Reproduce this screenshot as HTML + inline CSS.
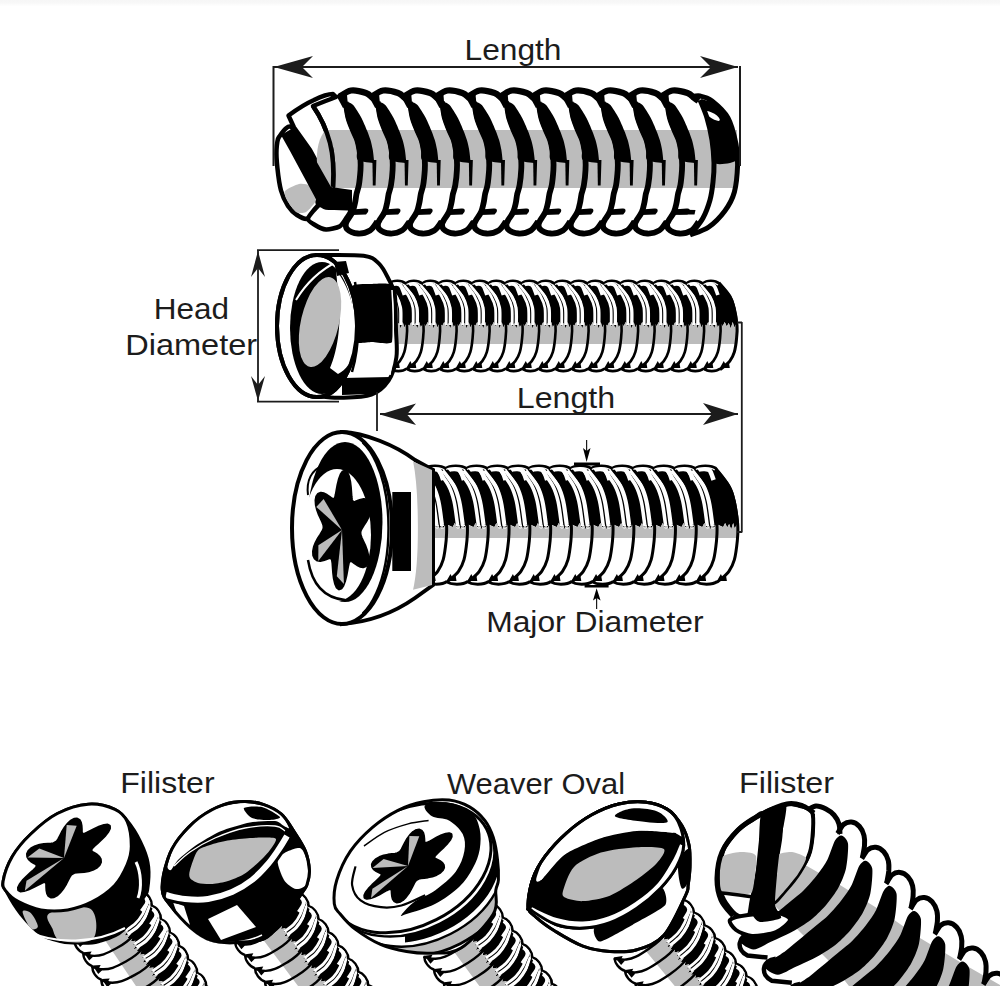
<!DOCTYPE html>
<html><head><meta charset="utf-8"><style>
html,body{margin:0;padding:0;background:#fff;width:1000px;height:1000px;overflow:hidden}
svg{display:block}
</style></head><body>
<svg width="1000" height="1000" viewBox="0 0 1000 1000">
<defs><linearGradient id="tg" x1="0" y1="0" x2="0" y2="1"><stop offset="0" stop-color="#f6f6f6"/><stop offset="0.35" stop-color="#f7f7f7"/><stop offset="1" stop-color="#ffffff"/></linearGradient></defs><rect x="0" y="0" width="1000" height="6.5" fill="url(#tg)"/>
<path d="M300,98 C320,96 700,96 712,98 C735,110 740,150 737,170 C735,200 720,228 690,231 L330,231 C300,230 280,200 277,165 C276,130 285,105 300,98 Z" fill="#fff"/>
<rect x="333" y="130" width="404" height="58" fill="#bcbcbc"/>
<path d="M700.0,100.0 C701.1,98.1 711.3,101.6 715.0,104.0 C718.7,106.4 725.5,113.2 728.0,118.0 C730.5,122.8 732.8,134.4 734.0,140.0 C735.2,145.6 739.7,156.9 737.0,160.0 C734.3,163.1 717.3,165.7 714.0,163.0 C710.7,160.3 712.9,146.0 712.0,140.0 C711.1,134.0 708.6,123.3 707.0,118.0 C705.4,112.7 698.9,101.9 700.0,100.0Z" fill="#000"/>
<ellipse cx="713" cy="116" rx="8" ry="2.6" transform="rotate(33 713 116)" fill="#fff"/>
<path d="M343.0,102.0 C342.5,102.4 343.2,102.7 343.6,104.8 C344.0,106.9 345.1,114.6 346.0,118.0 C346.9,121.4 349.2,127.1 350.4,130.0 C351.6,132.9 353.9,137.3 354.8,140.0 C355.7,142.7 356.6,147.3 357.0,150.0 C357.4,152.7 355.7,158.3 358.0,160.0 C360.3,161.7 372.4,163.0 374.5,163.0 C376.6,163.0 374.2,161.7 374.0,160.0 C373.8,158.3 373.3,152.7 372.8,150.0 C372.3,147.3 371.3,142.6 370.5,140.0 C369.7,137.4 368.2,133.3 367.0,130.4 C365.8,127.5 363.3,121.4 361.5,118.0 C359.7,114.6 355.1,107.1 353.2,105.0 C351.3,102.9 348.4,102.4 347.0,102.0 C345.6,101.6 343.5,101.6 343.0,102.0Z" fill="#000"/>
<path d="M372.4,160 L372.8,185.6 L375.6,185.6 L376.4,160 Z" fill="#000"/>
<path d="M336.0,95 L347.0,95 L348.0,106 L343.0,108 Z" fill="#000"/>
<path d="M375.1,102.0 C374.7,102.4 375.4,102.7 375.8,104.8 C376.1,106.9 377.2,114.6 378.1,118.0 C379.1,121.4 381.4,127.1 382.5,130.0 C383.7,132.9 386.1,137.3 386.9,140.0 C387.8,142.7 388.7,147.3 389.1,150.0 C389.6,152.7 387.8,158.3 390.1,160.0 C392.5,161.7 404.5,163.0 406.6,163.0 C408.8,163.0 406.4,161.7 406.1,160.0 C405.9,158.3 405.4,152.7 404.9,150.0 C404.5,147.3 403.4,142.6 402.6,140.0 C401.9,137.4 400.3,133.3 399.1,130.4 C397.9,127.5 395.5,121.4 393.6,118.0 C391.8,114.6 387.3,107.1 385.3,105.0 C383.4,102.9 380.5,102.4 379.1,102.0 C377.8,101.6 375.6,101.6 375.1,102.0Z" fill="#000"/>
<path d="M404.54999999999995,160 L404.95,185.6 L407.75,185.6 L408.54999999999995,160 Z" fill="#000"/>
<path d="M368.15,95 L379.15,95 L380.15,106 L375.15,108 Z" fill="#000"/>
<path d="M407.3,102.0 C406.8,102.4 407.5,102.7 407.9,104.8 C408.3,106.9 409.4,114.6 410.3,118.0 C411.2,121.4 413.5,127.1 414.7,130.0 C415.9,132.9 418.2,137.3 419.1,140.0 C420.0,142.7 420.9,147.3 421.3,150.0 C421.7,152.7 420.0,158.3 422.3,160.0 C424.6,161.7 436.7,163.0 438.8,163.0 C440.9,163.0 438.5,161.7 438.3,160.0 C438.1,158.3 437.6,152.7 437.1,150.0 C436.6,147.3 435.6,142.6 434.8,140.0 C434.0,137.4 432.5,133.3 431.3,130.4 C430.1,127.5 427.6,121.4 425.8,118.0 C424.0,114.6 419.4,107.1 417.5,105.0 C415.6,102.9 412.7,102.4 411.3,102.0 C409.9,101.6 407.8,101.6 407.3,102.0Z" fill="#000"/>
<path d="M436.7,160 L437.1,185.6 L439.90000000000003,185.6 L440.7,160 Z" fill="#000"/>
<path d="M400.3,95 L411.3,95 L412.3,106 L407.3,108 Z" fill="#000"/>
<path d="M439.4,102.0 C439.0,102.4 439.7,102.7 440.1,104.8 C440.4,106.9 441.5,114.6 442.4,118.0 C443.4,121.4 445.7,127.1 446.8,130.0 C448.0,132.9 450.4,137.3 451.2,140.0 C452.1,142.7 453.0,147.3 453.4,150.0 C453.9,152.7 452.1,158.3 454.4,160.0 C456.8,161.7 468.8,163.0 470.9,163.0 C473.1,163.0 470.7,161.7 470.4,160.0 C470.2,158.3 469.7,152.7 469.2,150.0 C468.8,147.3 467.7,142.6 466.9,140.0 C466.2,137.4 464.6,133.3 463.4,130.4 C462.2,127.5 459.8,121.4 457.9,118.0 C456.1,114.6 451.6,107.1 449.6,105.0 C447.7,102.9 444.8,102.4 443.4,102.0 C442.1,101.6 439.9,101.6 439.4,102.0Z" fill="#000"/>
<path d="M468.84999999999997,160 L469.25,185.6 L472.05,185.6 L472.84999999999997,160 Z" fill="#000"/>
<path d="M432.45,95 L443.45,95 L444.45,106 L439.45,108 Z" fill="#000"/>
<path d="M471.6,102.0 C471.1,102.4 471.8,102.7 472.2,104.8 C472.6,106.9 473.7,114.6 474.6,118.0 C475.5,121.4 477.8,127.1 479.0,130.0 C480.2,132.9 482.5,137.3 483.4,140.0 C484.3,142.7 485.2,147.3 485.6,150.0 C486.0,152.7 484.3,158.3 486.6,160.0 C488.9,161.7 501.0,163.0 503.1,163.0 C505.2,163.0 502.8,161.7 502.6,160.0 C502.4,158.3 501.9,152.7 501.4,150.0 C500.9,147.3 499.9,142.6 499.1,140.0 C498.3,137.4 496.8,133.3 495.6,130.4 C494.4,127.5 491.9,121.4 490.1,118.0 C488.3,114.6 483.7,107.1 481.8,105.0 C479.9,102.9 477.0,102.4 475.6,102.0 C474.2,101.6 472.1,101.6 471.6,102.0Z" fill="#000"/>
<path d="M501.0,160 L501.40000000000003,185.6 L504.20000000000005,185.6 L505.0,160 Z" fill="#000"/>
<path d="M464.6,95 L475.6,95 L476.6,106 L471.6,108 Z" fill="#000"/>
<path d="M503.8,102.0 C503.3,102.4 504.0,102.7 504.4,104.8 C504.8,106.9 505.8,114.6 506.8,118.0 C507.7,121.4 510.0,127.1 511.1,130.0 C512.3,132.9 514.7,137.3 515.5,140.0 C516.4,142.7 517.3,147.3 517.8,150.0 C518.2,152.7 516.4,158.3 518.8,160.0 C521.1,161.7 533.1,163.0 535.2,163.0 C537.4,163.0 535.0,161.7 534.8,160.0 C534.5,158.3 534.0,152.7 533.5,150.0 C533.1,147.3 532.0,142.6 531.2,140.0 C530.5,137.4 529.0,133.3 527.8,130.4 C526.5,127.5 524.1,121.4 522.2,118.0 C520.4,114.6 515.9,107.1 514.0,105.0 C512.0,102.9 509.1,102.4 507.8,102.0 C506.4,101.6 504.2,101.6 503.8,102.0Z" fill="#000"/>
<path d="M533.15,160 L533.55,185.6 L536.35,185.6 L537.15,160 Z" fill="#000"/>
<path d="M496.75,95 L507.75,95 L508.75,106 L503.75,108 Z" fill="#000"/>
<path d="M535.9,102.0 C535.4,102.4 536.1,102.7 536.5,104.8 C536.9,106.9 538.0,114.6 538.9,118.0 C539.8,121.4 542.1,127.1 543.3,130.0 C544.5,132.9 546.8,137.3 547.7,140.0 C548.6,142.7 549.5,147.3 549.9,150.0 C550.3,152.7 548.6,158.3 550.9,160.0 C553.2,161.7 565.3,163.0 567.4,163.0 C569.5,163.0 567.1,161.7 566.9,160.0 C566.7,158.3 566.2,152.7 565.7,150.0 C565.2,147.3 564.2,142.6 563.4,140.0 C562.6,137.4 561.1,133.3 559.9,130.4 C558.7,127.5 556.2,121.4 554.4,118.0 C552.6,114.6 548.0,107.1 546.1,105.0 C544.2,102.9 541.3,102.4 539.9,102.0 C538.5,101.6 536.4,101.6 535.9,102.0Z" fill="#000"/>
<path d="M565.3,160 L565.6999999999999,185.6 L568.5,185.6 L569.3,160 Z" fill="#000"/>
<path d="M528.9,95 L539.9,95 L540.9,106 L535.9,108 Z" fill="#000"/>
<path d="M568.0,102.0 C567.6,102.4 568.2,102.7 568.6,104.8 C569.0,106.9 570.1,114.6 571.0,118.0 C572.0,121.4 574.3,127.1 575.4,130.0 C576.6,132.9 579.0,137.3 579.8,140.0 C580.7,142.7 581.6,147.3 582.0,150.0 C582.5,152.7 580.7,158.3 583.0,160.0 C585.4,161.7 597.4,163.0 599.5,163.0 C601.7,163.0 599.3,161.7 599.0,160.0 C598.8,158.3 598.3,152.7 597.8,150.0 C597.4,147.3 596.3,142.6 595.5,140.0 C594.8,137.4 593.2,133.3 592.0,130.4 C590.8,127.5 588.4,121.4 586.5,118.0 C584.7,114.6 580.2,107.1 578.2,105.0 C576.3,102.9 573.4,102.4 572.0,102.0 C570.7,101.6 568.5,101.6 568.0,102.0Z" fill="#000"/>
<path d="M597.4499999999999,160 L597.8499999999999,185.6 L600.65,185.6 L601.4499999999999,160 Z" fill="#000"/>
<path d="M561.05,95 L572.05,95 L573.05,106 L568.05,108 Z" fill="#000"/>
<path d="M600.2,102.0 C599.7,102.4 600.4,102.7 600.8,104.8 C601.2,106.9 602.3,114.6 603.2,118.0 C604.1,121.4 606.4,127.1 607.6,130.0 C608.8,132.9 611.1,137.3 612.0,140.0 C612.9,142.7 613.8,147.3 614.2,150.0 C614.6,152.7 612.9,158.3 615.2,160.0 C617.5,161.7 629.6,163.0 631.7,163.0 C633.8,163.0 631.4,161.7 631.2,160.0 C631.0,158.3 630.5,152.7 630.0,150.0 C629.5,147.3 628.5,142.6 627.7,140.0 C626.9,137.4 625.4,133.3 624.2,130.4 C623.0,127.5 620.5,121.4 618.7,118.0 C616.9,114.6 612.3,107.1 610.4,105.0 C608.5,102.9 605.6,102.4 604.2,102.0 C602.8,101.6 600.7,101.6 600.2,102.0Z" fill="#000"/>
<path d="M629.6,160 L630.0,185.6 L632.8000000000001,185.6 L633.6,160 Z" fill="#000"/>
<path d="M593.2,95 L604.2,95 L605.2,106 L600.2,108 Z" fill="#000"/>
<path d="M632.3,102.0 C631.9,102.4 632.5,102.7 632.9,104.8 C633.3,106.9 634.4,114.6 635.3,118.0 C636.3,121.4 638.6,127.1 639.7,130.0 C640.9,132.9 643.3,137.3 644.1,140.0 C645.0,142.7 645.9,147.3 646.3,150.0 C646.8,152.7 645.0,158.3 647.3,160.0 C649.7,161.7 661.7,163.0 663.8,163.0 C666.0,163.0 663.6,161.7 663.3,160.0 C663.1,158.3 662.6,152.7 662.1,150.0 C661.7,147.3 660.6,142.6 659.8,140.0 C659.1,137.4 657.5,133.3 656.3,130.4 C655.1,127.5 652.7,121.4 650.8,118.0 C649.0,114.6 644.5,107.1 642.5,105.0 C640.6,102.9 637.7,102.4 636.3,102.0 C635.0,101.6 632.8,101.6 632.3,102.0Z" fill="#000"/>
<path d="M661.7499999999999,160 L662.1499999999999,185.6 L664.9499999999999,185.6 L665.7499999999999,160 Z" fill="#000"/>
<path d="M625.3499999999999,95 L636.3499999999999,95 L637.3499999999999,106 L632.3499999999999,108 Z" fill="#000"/>
<path d="M664.5,102.0 C664.0,102.4 664.7,102.7 665.1,104.8 C665.5,106.9 666.6,114.6 667.5,118.0 C668.4,121.4 670.7,127.1 671.9,130.0 C673.1,132.9 675.4,137.3 676.3,140.0 C677.2,142.7 678.1,147.3 678.5,150.0 C678.9,152.7 677.2,158.3 679.5,160.0 C681.8,161.7 693.9,163.0 696.0,163.0 C698.1,163.0 695.7,161.7 695.5,160.0 C695.3,158.3 694.8,152.7 694.3,150.0 C693.8,147.3 692.8,142.6 692.0,140.0 C691.2,137.4 689.7,133.3 688.5,130.4 C687.3,127.5 684.8,121.4 683.0,118.0 C681.2,114.6 676.6,107.1 674.7,105.0 C672.8,102.9 669.9,102.4 668.5,102.0 C667.1,101.6 665.0,101.6 664.5,102.0Z" fill="#000"/>
<path d="M693.9,160 L694.3,185.6 L697.1,185.6 L697.9,160 Z" fill="#000"/>
<path d="M657.5,95 L668.5,95 L669.5,106 L664.5,108 Z" fill="#000"/>
<path d="M345.5,102.0 C345.6,102.5 345.6,102.1 346.1,104.8 C346.6,107.5 347.4,113.8 348.5,118.0 C349.6,122.2 351.4,126.3 352.9,130.0 C354.4,133.7 356.2,136.7 357.3,140.0 C358.4,143.3 359.0,146.7 359.5,150.0 C360.0,153.3 360.3,156.7 360.5,160.0 C360.7,163.3 360.8,165.8 360.5,170.0 C360.2,174.2 359.6,181.0 358.9,185.0 C358.2,189.0 357.1,191.0 356.5,194.0 C355.9,197.0 355.7,200.0 355.0,203.0 C354.3,206.0 353.8,209.2 352.5,212.0 C351.2,214.8 348.7,218.0 347.5,220.0 C346.3,222.0 345.8,223.3 345.5,224.0" fill="none" stroke="#000" stroke-width="5.8"/>
<path d="M345.5,220.0 C345.8,221.5 344.9,226.8 347.0,229.0 C349.1,231.2 354.2,233.3 358.0,233.5 C361.8,233.7 366.8,232.3 370.0,230.4 C373.2,228.5 375.8,223.4 377.0,222.0" fill="none" stroke="#000" stroke-width="5.8"/>
<path d="M352.0,209.5 L365.0,208.5 C368.0,208 369.0,210 368.0,212 L366.0,214.5 L352.0,215 Z" fill="#000"/>
<path d="M339.0,97.0 C341.0,95.9 346.5,91.2 351.0,90.5 C355.5,89.8 362.4,91.8 366.0,93.0 C369.6,94.2 370.6,96.3 372.4,97.6 C374.2,98.9 376.2,100.4 377.0,101.0" fill="none" stroke="#000" stroke-width="6.3"/>
<path d="M377.6,102.0 C377.8,102.5 377.8,102.1 378.2,104.8 C378.8,107.5 379.5,113.8 380.6,118.0 C381.8,122.2 383.6,126.3 385.0,130.0 C386.5,133.7 388.3,136.7 389.4,140.0 C390.6,143.3 391.1,146.7 391.6,150.0 C392.2,153.3 392.5,156.7 392.6,160.0 C392.8,163.3 392.9,165.8 392.6,170.0 C392.4,174.2 391.7,181.0 391.0,185.0 C390.4,189.0 389.3,191.0 388.6,194.0 C388.0,197.0 387.8,200.0 387.1,203.0 C386.5,206.0 385.9,209.2 384.6,212.0 C383.4,214.8 380.8,218.0 379.6,220.0 C378.5,222.0 378.0,223.3 377.6,224.0" fill="none" stroke="#000" stroke-width="5.8"/>
<path d="M377.6,220.0 C377.9,221.5 377.1,226.8 379.1,229.0 C381.2,231.2 386.3,233.3 390.1,233.5 C394.0,233.7 399.0,232.3 402.1,230.4 C405.3,228.5 408.0,223.4 409.1,222.0" fill="none" stroke="#000" stroke-width="5.8"/>
<path d="M384.15,209.5 L397.15,208.5 C400.15,208 401.15,210 400.15,212 L398.15,214.5 L384.15,215 Z" fill="#000"/>
<path d="M371.1,97.0 C373.1,95.9 378.6,91.2 383.1,90.5 C387.6,89.8 394.6,91.8 398.1,93.0 C401.7,94.2 402.7,96.3 404.5,97.6 C406.4,98.9 408.4,100.4 409.1,101.0" fill="none" stroke="#000" stroke-width="6.3"/>
<path d="M409.8,102.0 C409.9,102.5 409.9,102.1 410.4,104.8 C410.9,107.5 411.7,113.8 412.8,118.0 C413.9,122.2 415.7,126.3 417.2,130.0 C418.7,133.7 420.5,136.7 421.6,140.0 C422.7,143.3 423.3,146.7 423.8,150.0 C424.3,153.3 424.6,156.7 424.8,160.0 C425.0,163.3 425.1,165.8 424.8,170.0 C424.5,174.2 423.9,181.0 423.2,185.0 C422.5,189.0 421.4,191.0 420.8,194.0 C420.2,197.0 420.0,200.0 419.3,203.0 C418.6,206.0 418.1,209.2 416.8,212.0 C415.6,214.8 413.0,218.0 411.8,220.0 C410.6,222.0 410.1,223.3 409.8,224.0" fill="none" stroke="#000" stroke-width="5.8"/>
<path d="M409.8,220.0 C410.1,221.5 409.2,226.8 411.3,229.0 C413.4,231.2 418.5,233.3 422.3,233.5 C426.1,233.7 431.1,232.3 434.3,230.4 C437.5,228.5 440.1,223.4 441.3,222.0" fill="none" stroke="#000" stroke-width="5.8"/>
<path d="M416.3,209.5 L429.3,208.5 C432.3,208 433.3,210 432.3,212 L430.3,214.5 L416.3,215 Z" fill="#000"/>
<path d="M403.3,97.0 C405.3,95.9 410.8,91.2 415.3,90.5 C419.8,89.8 426.7,91.8 430.3,93.0 C433.9,94.2 434.9,96.3 436.7,97.6 C438.5,98.9 440.5,100.4 441.3,101.0" fill="none" stroke="#000" stroke-width="6.3"/>
<path d="M441.9,102.0 C442.1,102.5 442.1,102.1 442.6,104.8 C443.1,107.5 443.8,113.8 444.9,118.0 C446.1,122.2 447.9,126.3 449.3,130.0 C450.8,133.7 452.6,136.7 453.8,140.0 C454.9,143.3 455.4,146.7 455.9,150.0 C456.5,153.3 456.8,156.7 456.9,160.0 C457.1,163.3 457.2,165.8 456.9,170.0 C456.7,174.2 456.0,181.0 455.3,185.0 C454.7,189.0 453.6,191.0 452.9,194.0 C452.3,197.0 452.1,200.0 451.4,203.0 C450.8,206.0 450.2,209.2 448.9,212.0 C447.7,214.8 445.1,218.0 443.9,220.0 C442.8,222.0 442.3,223.3 441.9,224.0" fill="none" stroke="#000" stroke-width="5.8"/>
<path d="M441.9,220.0 C442.2,221.5 441.4,226.8 443.4,229.0 C445.5,231.2 450.6,233.3 454.4,233.5 C458.3,233.7 463.3,232.3 466.4,230.4 C469.6,228.5 472.3,223.4 473.4,222.0" fill="none" stroke="#000" stroke-width="5.8"/>
<path d="M448.45,209.5 L461.45,208.5 C464.45,208 465.45,210 464.45,212 L462.45,214.5 L448.45,215 Z" fill="#000"/>
<path d="M435.4,97.0 C437.4,95.9 442.9,91.2 447.4,90.5 C451.9,89.8 458.9,91.8 462.4,93.0 C466.0,94.2 467.0,96.3 468.8,97.6 C470.7,98.9 472.7,100.4 473.4,101.0" fill="none" stroke="#000" stroke-width="6.3"/>
<path d="M474.1,102.0 C474.2,102.5 474.2,102.1 474.7,104.8 C475.2,107.5 476.0,113.8 477.1,118.0 C478.2,122.2 480.0,126.3 481.5,130.0 C483.0,133.7 484.8,136.7 485.9,140.0 C487.0,143.3 487.6,146.7 488.1,150.0 C488.6,153.3 488.9,156.7 489.1,160.0 C489.3,163.3 489.4,165.8 489.1,170.0 C488.8,174.2 488.2,181.0 487.5,185.0 C486.8,189.0 485.8,191.0 485.1,194.0 C484.5,197.0 484.3,200.0 483.6,203.0 C482.9,206.0 482.4,209.2 481.1,212.0 C479.9,214.8 477.3,218.0 476.1,220.0 C474.9,222.0 474.4,223.3 474.1,224.0" fill="none" stroke="#000" stroke-width="5.8"/>
<path d="M474.1,220.0 C474.4,221.5 473.5,226.8 475.6,229.0 C477.7,231.2 482.8,233.3 486.6,233.5 C490.4,233.7 495.4,232.3 498.6,230.4 C501.8,228.5 504.4,223.4 505.6,222.0" fill="none" stroke="#000" stroke-width="5.8"/>
<path d="M480.6,209.5 L493.6,208.5 C496.6,208 497.6,210 496.6,212 L494.6,214.5 L480.6,215 Z" fill="#000"/>
<path d="M467.6,97.0 C469.6,95.9 475.1,91.2 479.6,90.5 C484.1,89.8 491.0,91.8 494.6,93.0 C498.2,94.2 499.2,96.3 501.0,97.6 C502.8,98.9 504.8,100.4 505.6,101.0" fill="none" stroke="#000" stroke-width="6.3"/>
<path d="M506.2,102.0 C506.4,102.5 506.4,102.1 506.9,104.8 C507.4,107.5 508.1,113.8 509.2,118.0 C510.4,122.2 512.2,126.3 513.6,130.0 C515.1,133.7 516.9,136.7 518.0,140.0 C519.1,143.3 519.7,146.7 520.2,150.0 C520.8,153.3 521.1,156.7 521.2,160.0 C521.4,163.3 521.5,165.8 521.2,170.0 C521.0,174.2 520.3,181.0 519.6,185.0 C519.0,189.0 517.9,191.0 517.2,194.0 C516.6,197.0 516.4,200.0 515.8,203.0 C515.1,206.0 514.5,209.2 513.2,212.0 C512.0,214.8 509.4,218.0 508.2,220.0 C507.1,222.0 506.6,223.3 506.2,224.0" fill="none" stroke="#000" stroke-width="5.8"/>
<path d="M506.2,220.0 C506.5,221.5 505.7,226.8 507.8,229.0 C509.8,231.2 514.9,233.3 518.8,233.5 C522.6,233.7 527.6,232.3 530.8,230.4 C533.9,228.5 536.6,223.4 537.8,222.0" fill="none" stroke="#000" stroke-width="5.8"/>
<path d="M512.75,209.5 L525.75,208.5 C528.75,208 529.75,210 528.75,212 L526.75,214.5 L512.75,215 Z" fill="#000"/>
<path d="M499.8,97.0 C501.8,95.9 507.2,91.2 511.8,90.5 C516.2,89.8 523.2,91.8 526.8,93.0 C530.3,94.2 531.3,96.3 533.1,97.6 C535.0,98.9 537.0,100.4 537.8,101.0" fill="none" stroke="#000" stroke-width="6.3"/>
<path d="M538.4,102.0 C538.5,102.5 538.5,102.1 539.0,104.8 C539.5,107.5 540.3,113.8 541.4,118.0 C542.5,122.2 544.3,126.3 545.8,130.0 C547.3,133.7 549.1,136.7 550.2,140.0 C551.3,143.3 551.9,146.7 552.4,150.0 C552.9,153.3 553.2,156.7 553.4,160.0 C553.6,163.3 553.7,165.8 553.4,170.0 C553.1,174.2 552.5,181.0 551.8,185.0 C551.1,189.0 550.0,191.0 549.4,194.0 C548.8,197.0 548.6,200.0 547.9,203.0 C547.2,206.0 546.6,209.2 545.4,212.0 C544.1,214.8 541.6,218.0 540.4,220.0 C539.2,222.0 538.7,223.3 538.4,224.0" fill="none" stroke="#000" stroke-width="5.8"/>
<path d="M538.4,220.0 C538.6,221.5 537.8,226.8 539.9,229.0 C542.0,231.2 547.1,233.3 550.9,233.5 C554.7,233.7 559.7,232.3 562.9,230.4 C566.1,228.5 568.7,223.4 569.9,222.0" fill="none" stroke="#000" stroke-width="5.8"/>
<path d="M544.9,209.5 L557.9,208.5 C560.9,208 561.9,210 560.9,212 L558.9,214.5 L544.9,215 Z" fill="#000"/>
<path d="M531.9,97.0 C533.9,95.9 539.4,91.2 543.9,90.5 C548.4,89.8 555.3,91.8 558.9,93.0 C562.5,94.2 563.5,96.3 565.3,97.6 C567.1,98.9 569.1,100.4 569.9,101.0" fill="none" stroke="#000" stroke-width="6.3"/>
<path d="M570.5,102.0 C570.6,102.5 570.6,102.1 571.1,104.8 C571.6,107.5 572.4,113.8 573.5,118.0 C574.7,122.2 576.5,126.3 577.9,130.0 C579.4,133.7 581.2,136.7 582.3,140.0 C583.4,143.3 584.0,146.7 584.5,150.0 C585.1,153.3 585.4,156.7 585.5,160.0 C585.7,163.3 585.8,165.8 585.5,170.0 C585.3,174.2 584.6,181.0 583.9,185.0 C583.3,189.0 582.2,191.0 581.5,194.0 C580.9,197.0 580.7,200.0 580.0,203.0 C579.4,206.0 578.8,209.2 577.5,212.0 C576.3,214.8 573.7,218.0 572.5,220.0 C571.4,222.0 570.9,223.3 570.5,224.0" fill="none" stroke="#000" stroke-width="5.8"/>
<path d="M570.5,220.0 C570.8,221.5 570.0,226.8 572.0,229.0 C574.1,231.2 579.2,233.3 583.0,233.5 C586.9,233.7 591.9,232.3 595.0,230.4 C598.2,228.5 600.9,223.4 602.0,222.0" fill="none" stroke="#000" stroke-width="5.8"/>
<path d="M577.05,209.5 L590.05,208.5 C593.05,208 594.05,210 593.05,212 L591.05,214.5 L577.05,215 Z" fill="#000"/>
<path d="M564.0,97.0 C566.0,95.9 571.5,91.2 576.0,90.5 C580.5,89.8 587.5,91.8 591.0,93.0 C594.6,94.2 595.6,96.3 597.4,97.6 C599.3,98.9 601.3,100.4 602.0,101.0" fill="none" stroke="#000" stroke-width="6.3"/>
<path d="M602.7,102.0 C602.8,102.5 602.8,102.1 603.3,104.8 C603.8,107.5 604.6,113.8 605.7,118.0 C606.8,122.2 608.6,126.3 610.1,130.0 C611.6,133.7 613.4,136.7 614.5,140.0 C615.6,143.3 616.2,146.7 616.7,150.0 C617.2,153.3 617.5,156.7 617.7,160.0 C617.9,163.3 618.0,165.8 617.7,170.0 C617.4,174.2 616.8,181.0 616.1,185.0 C615.4,189.0 614.4,191.0 613.7,194.0 C613.1,197.0 612.9,200.0 612.2,203.0 C611.5,206.0 611.0,209.2 609.7,212.0 C608.5,214.8 605.9,218.0 604.7,220.0 C603.5,222.0 603.0,223.3 602.7,224.0" fill="none" stroke="#000" stroke-width="5.8"/>
<path d="M602.7,220.0 C603.0,221.5 602.1,226.8 604.2,229.0 C606.3,231.2 611.4,233.3 615.2,233.5 C619.0,233.7 624.0,232.3 627.2,230.4 C630.4,228.5 633.0,223.4 634.2,222.0" fill="none" stroke="#000" stroke-width="5.8"/>
<path d="M609.2,209.5 L622.2,208.5 C625.2,208 626.2,210 625.2,212 L623.2,214.5 L609.2,215 Z" fill="#000"/>
<path d="M596.2,97.0 C598.2,95.9 603.7,91.2 608.2,90.5 C612.7,89.8 619.6,91.8 623.2,93.0 C626.8,94.2 627.8,96.3 629.6,97.6 C631.4,98.9 633.4,100.4 634.2,101.0" fill="none" stroke="#000" stroke-width="6.3"/>
<path d="M634.8,102.0 C634.9,102.5 634.9,102.1 635.4,104.8 C635.9,107.5 636.7,113.8 637.8,118.0 C639.0,122.2 640.8,126.3 642.2,130.0 C643.7,133.7 645.5,136.7 646.6,140.0 C647.7,143.3 648.3,146.7 648.8,150.0 C649.4,153.3 649.7,156.7 649.8,160.0 C650.0,163.3 650.1,165.8 649.8,170.0 C649.6,174.2 648.9,181.0 648.2,185.0 C647.6,189.0 646.5,191.0 645.8,194.0 C645.2,197.0 645.0,200.0 644.3,203.0 C643.7,206.0 643.1,209.2 641.8,212.0 C640.6,214.8 638.0,218.0 636.8,220.0 C635.7,222.0 635.2,223.3 634.8,224.0" fill="none" stroke="#000" stroke-width="5.8"/>
<path d="M634.8,220.0 C635.1,221.5 634.3,226.8 636.3,229.0 C638.4,231.2 643.5,233.3 647.3,233.5 C651.2,233.7 656.2,232.3 659.3,230.4 C662.5,228.5 665.2,223.4 666.3,222.0" fill="none" stroke="#000" stroke-width="5.8"/>
<path d="M641.3499999999999,209.5 L654.3499999999999,208.5 C657.3499999999999,208 658.3499999999999,210 657.3499999999999,212 L655.3499999999999,214.5 L641.3499999999999,215 Z" fill="#000"/>
<path d="M628.3,97.0 C630.3,95.9 635.8,91.2 640.3,90.5 C644.8,89.8 651.8,91.8 655.3,93.0 C658.9,94.2 659.9,96.3 661.7,97.6 C663.6,98.9 665.6,100.4 666.3,101.0" fill="none" stroke="#000" stroke-width="6.3"/>
<path d="M667.0,102.0 C667.1,102.5 667.1,102.1 667.6,104.8 C668.1,107.5 668.9,113.8 670.0,118.0 C671.1,122.2 672.9,126.3 674.4,130.0 C675.9,133.7 677.7,136.7 678.8,140.0 C679.9,143.3 680.5,146.7 681.0,150.0 C681.5,153.3 681.8,156.7 682.0,160.0 C682.2,163.3 682.3,165.8 682.0,170.0 C681.7,174.2 681.1,181.0 680.4,185.0 C679.7,189.0 678.6,191.0 678.0,194.0 C677.4,197.0 677.2,200.0 676.5,203.0 C675.8,206.0 675.2,209.2 674.0,212.0 C672.8,214.8 670.2,218.0 669.0,220.0 C667.8,222.0 667.3,223.3 667.0,224.0" fill="none" stroke="#000" stroke-width="5.8"/>
<path d="M667.0,220.0 C667.2,221.5 666.4,226.8 668.5,229.0 C670.6,231.2 675.7,233.3 679.5,233.5 C683.3,233.7 688.3,232.3 691.5,230.4 C694.7,228.5 697.3,223.4 698.5,222.0" fill="none" stroke="#000" stroke-width="5.8"/>
<path d="M673.5,209.5 L686.5,208.5 C689.5,208 690.5,210 689.5,212 L687.5,214.5 L673.5,215 Z" fill="#000"/>
<path d="M660.5,97.0 C662.5,95.9 668.0,91.2 672.5,90.5 C677.0,89.8 683.9,91.8 687.5,93.0 C691.1,94.2 692.1,96.3 693.9,97.6 C695.7,98.9 697.7,100.4 698.5,101.0" fill="none" stroke="#000" stroke-width="6.3"/>
<path d="M700.0,100.0 C701.2,103.0 705.0,111.3 707.0,118.0 C709.0,124.7 710.8,132.5 712.0,140.0 C713.2,147.5 713.8,156.0 714.0,163.0 C714.2,170.0 713.7,175.8 713.0,182.0 C712.3,188.2 711.7,194.0 710.0,200.0 C708.3,206.0 706.0,212.5 703.0,218.0 C700.0,223.5 693.8,230.5 692.0,233.0" fill="none" stroke="#000" stroke-width="5"/>
<path d="M691.0,97.0 C692.5,96.8 696.5,95.3 700.0,96.0 C703.5,96.7 707.3,97.3 712.0,101.0 C716.7,104.7 724.0,110.8 728.0,118.0 C732.0,125.2 734.4,136.2 736.0,144.0 C737.6,151.8 737.9,157.0 737.6,165.0 C737.3,173.0 736.5,184.3 734.4,192.0 C732.3,199.7 729.1,205.2 724.8,211.0 C720.5,216.8 714.6,223.0 708.8,227.0 C703.0,231.0 693.1,233.7 690.0,235.0" fill="none" stroke="#000" stroke-width="5"/>
<path d="M677.5,209.5 L695.5,210 L694.5,214.5 L678.5,214.5 Z" fill="#000"/>
<path d="M279.0,137.0 C280.9,134.6 288.4,121.2 293.0,129.0 C297.6,136.8 316.2,193.6 318.0,204.0 C319.8,214.4 310.4,217.2 308.0,218.5 C305.6,219.8 299.3,216.5 297.0,215.0 C294.7,213.5 289.9,208.9 288.0,206.0 C286.1,203.1 282.2,194.9 281.0,190.5 C279.8,186.1 277.9,172.7 277.4,168.0 C276.9,163.3 276.3,153.6 276.5,150.0 C276.7,146.4 277.1,139.4 279.0,137.0Z" fill="#fff" stroke="#000" stroke-width="4.5"/>
<path d="M285.0,191.0 C286.4,189.1 296.1,184.6 299.0,184.0 C301.9,183.4 308.0,184.1 310.0,186.0 C312.0,187.9 316.5,197.0 316.0,200.0 C315.5,203.0 308.3,210.6 306.0,212.0 C303.7,213.4 298.2,213.4 296.0,212.0 C293.8,210.6 288.3,202.4 287.0,200.0 C285.7,197.6 283.6,192.9 285.0,191.0Z" fill="#bcbcbc"/>
<path d="M308.0,218.5 C308.5,216.2 316.9,206.3 319.0,205.0 C321.1,203.7 322.4,207.0 326.0,207.5 C329.6,208.0 347.7,207.7 350.0,209.0 C352.3,210.3 347.2,216.4 346.0,218.4 C344.8,220.4 341.8,225.2 339.5,226.5 C337.2,227.8 328.9,229.7 326.0,229.5 C323.1,229.3 317.1,226.3 315.0,225.0 C312.9,223.7 307.5,220.8 308.0,218.5Z" fill="#fff" stroke="#000" stroke-width="4.5"/>
<path d="M288.5,115.5 C296,110 305,104 314,100 C320,97 326,94 333,94 L336,97 C328,100 318,104 313,106 C320,116 326,128 330,143 C333,155 334,170 333,187 L330,187 L310,150 L294,127.5 Z" fill="#fff" stroke="#000" stroke-width="4.5" stroke-linejoin="round"/>
<path d="M333,130 L326,130 C319,136 316,150 317,165 C318,176 322,184 328,188 L333,188 Z" fill="#bcbcbc"/>
<path d="M313,106 C320,116 326,128 330,143 C333,155 334,170 333,187" fill="none" stroke="#000" stroke-width="4.5"/>
<path d="M281,135 L294,127.5 L310,150 L331,187 L352,190 L352,208.5 L326,207 L318,203 L290,151 Z" fill="#000"/>
<rect x="385" y="281" width="354.0" height="89" fill="#fff"/>
<path d="M385,283 L739.0,283 L739.0,323 L736.74,323 L734.24,327.5 L732.74,322 L730.74,328.5 L728.74,323 L726.74,326.5 L724.74,322 L722.74,326 L720.24,323 L717.74,327.5 L716.24,322 L714.24,328.5 L712.24,323 L710.24,326.5 L708.24,322 L706.24,326 L703.74,323 L701.24,327.5 L699.74,322 L697.74,328.5 L695.74,323 L693.74,326.5 L691.74,322 L689.74,326 L687.24,323 L684.74,327.5 L683.24,322 L681.24,328.5 L679.24,323 L677.24,326.5 L675.24,322 L673.24,326 L670.74,323 L668.24,327.5 L666.74,322 L664.74,328.5 L662.74,323 L660.74,326.5 L658.74,322 L656.74,326 L654.24,323 L651.74,327.5 L650.24,322 L648.24,328.5 L646.24,323 L644.24,326.5 L642.24,322 L640.24,326 L637.74,323 L635.24,327.5 L633.74,322 L631.74,328.5 L629.74,323 L627.74,326.5 L625.74,322 L623.74,326 L621.24,323 L618.74,327.5 L617.24,322 L615.24,328.5 L613.24,323 L611.24,326.5 L609.24,322 L607.24,326 L604.74,323 L602.24,327.5 L600.74,322 L598.74,328.5 L596.74,323 L594.74,326.5 L592.74,322 L590.74,326 L588.24,323 L585.74,327.5 L584.24,322 L582.24,328.5 L580.24,323 L578.24,326.5 L576.24,322 L574.24,326 L571.74,323 L569.24,327.5 L567.74,322 L565.74,328.5 L563.74,323 L561.74,326.5 L559.74,322 L557.74,326 L555.24,323 L552.74,327.5 L551.24,322 L549.24,328.5 L547.24,323 L545.24,326.5 L543.24,322 L541.24,326 L538.74,323 L536.24,327.5 L534.74,322 L532.74,328.5 L530.74,323 L528.74,326.5 L526.74,322 L524.74,326 L522.24,323 L519.74,327.5 L518.24,322 L516.24,328.5 L514.24,323 L512.24,326.5 L510.24,322 L508.24,326 L505.74,323 L503.24,327.5 L501.74,322 L499.74,328.5 L497.74,323 L495.74,326.5 L493.74,322 L491.74,326 L489.24,323 L486.74,327.5 L485.24,322 L483.24,328.5 L481.24,323 L479.24,326.5 L477.24,322 L475.24,326 L472.74,323 L470.24,327.5 L468.74,322 L466.74,328.5 L464.74,323 L462.74,326.5 L460.74,322 L458.74,326 L456.24,323 L453.74,327.5 L452.24,322 L450.24,328.5 L448.24,323 L446.24,326.5 L444.24,322 L442.24,326 L439.74,323 L437.24,327.5 L435.74,322 L433.74,328.5 L431.74,323 L429.74,326.5 L427.74,322 L425.74,326 L423.24,323 L420.74,327.5 L419.24,322 L417.24,328.5 L415.24,323 L413.24,326.5 L411.24,322 L409.24,326 L406.74,323 L404.24,327.5 L402.74,322 L400.74,328.5 L398.74,323 L396.74,326.5 L394.74,322 L392.74,326 L385,325 Z" fill="#000"/>
<path d="M385,326 L391.74,326 L392.74,326 L394.74,322 L396.74,326.5 L398.74,323 L400.74,328.5 L402.74,322 L404.24,327.5 L406.74,323 L408.24,326 L409.24,326 L411.24,322 L413.24,326.5 L415.24,323 L417.24,328.5 L419.24,322 L420.74,327.5 L423.24,323 L424.74,326 L425.74,326 L427.74,322 L429.74,326.5 L431.74,323 L433.74,328.5 L435.74,322 L437.24,327.5 L439.74,323 L441.24,326 L442.24,326 L444.24,322 L446.24,326.5 L448.24,323 L450.24,328.5 L452.24,322 L453.74,327.5 L456.24,323 L457.74,326 L458.74,326 L460.74,322 L462.74,326.5 L464.74,323 L466.74,328.5 L468.74,322 L470.24,327.5 L472.74,323 L474.24,326 L475.24,326 L477.24,322 L479.24,326.5 L481.24,323 L483.24,328.5 L485.24,322 L486.74,327.5 L489.24,323 L490.74,326 L491.74,326 L493.74,322 L495.74,326.5 L497.74,323 L499.74,328.5 L501.74,322 L503.24,327.5 L505.74,323 L507.24,326 L508.24,326 L510.24,322 L512.24,326.5 L514.24,323 L516.24,328.5 L518.24,322 L519.74,327.5 L522.24,323 L523.74,326 L524.74,326 L526.74,322 L528.74,326.5 L530.74,323 L532.74,328.5 L534.74,322 L536.24,327.5 L538.74,323 L540.24,326 L541.24,326 L543.24,322 L545.24,326.5 L547.24,323 L549.24,328.5 L551.24,322 L552.74,327.5 L555.24,323 L556.74,326 L557.74,326 L559.74,322 L561.74,326.5 L563.74,323 L565.74,328.5 L567.74,322 L569.24,327.5 L571.74,323 L573.24,326 L574.24,326 L576.24,322 L578.24,326.5 L580.24,323 L582.24,328.5 L584.24,322 L585.74,327.5 L588.24,323 L589.74,326 L590.74,326 L592.74,322 L594.74,326.5 L596.74,323 L598.74,328.5 L600.74,322 L602.24,327.5 L604.74,323 L606.24,326 L607.24,326 L609.24,322 L611.24,326.5 L613.24,323 L615.24,328.5 L617.24,322 L618.74,327.5 L621.24,323 L622.74,326 L623.74,326 L625.74,322 L627.74,326.5 L629.74,323 L631.74,328.5 L633.74,322 L635.24,327.5 L637.74,323 L639.24,326 L640.24,326 L642.24,322 L644.24,326.5 L646.24,323 L648.24,328.5 L650.24,322 L651.74,327.5 L654.24,323 L655.74,326 L656.74,326 L658.74,322 L660.74,326.5 L662.74,323 L664.74,328.5 L666.74,322 L668.24,327.5 L670.74,323 L672.24,326 L673.24,326 L675.24,322 L677.24,326.5 L679.24,323 L681.24,328.5 L683.24,322 L684.74,327.5 L687.24,323 L688.74,326 L689.74,326 L691.74,322 L693.74,326.5 L695.74,323 L697.74,328.5 L699.74,322 L701.24,327.5 L703.74,323 L705.24,326 L706.24,326 L708.24,322 L710.24,326.5 L712.24,323 L714.24,328.5 L716.24,322 L717.74,327.5 L720.24,323 L721.74,326 L722.74,326 L724.74,322 L726.74,326.5 L728.74,323 L730.74,328.5 L732.74,322 L734.24,327.5 L736.74,323 L739.0,323 L739.0,344 L385,344 Z" fill="#bcbcbc"/>
<path d="M720.3,282.8 C722.1,285.0 728.6,292.0 731.1,296.1 C733.6,300.3 734.2,302.8 735.4,307.7 C736.6,312.6 737.9,320.5 738.3,325.5 C738.7,330.5 738.4,333.5 737.9,338.0 C737.5,342.4 736.7,348.3 735.6,352.2 C734.5,356.1 733.0,358.6 731.1,361.1 C729.2,363.6 725.9,365.9 724.3,367.3 C722.6,368.7 721.7,369.2 721.2,369.6 L759.0,371 L759.0,280 L719.0,280 Z" fill="#fff"/>
<path d="M387.9,284.8 C389.3,286.7 394.1,292.3 396.2,296.1 C398.3,299.9 399.7,302.9 400.5,307.7 C401.3,312.5 400.7,322.1 400.8,325.0" fill="none" stroke="#fff" stroke-width="3.30"/>
<path d="M383.7,284.8 C385.1,286.7 389.9,292.3 392.0,296.1 C394.1,299.9 395.6,302.9 396.4,307.7 C397.1,312.5 396.6,322.1 396.7,325.0" fill="none" stroke="#fff" stroke-width="2.81"/>
<path d="M404.4,284.8 C405.8,286.7 410.6,292.3 412.7,296.1 C414.8,299.9 416.2,302.9 417.0,307.7 C417.8,312.5 417.2,322.1 417.3,325.0" fill="none" stroke="#fff" stroke-width="3.30"/>
<path d="M400.2,284.8 C401.6,286.7 406.4,292.3 408.5,296.1 C410.6,299.9 412.1,302.9 412.9,307.7 C413.6,312.5 413.1,322.1 413.2,325.0" fill="none" stroke="#fff" stroke-width="2.81"/>
<path d="M420.9,284.8 C422.3,286.7 427.1,292.3 429.2,296.1 C431.3,299.9 432.7,302.9 433.5,307.7 C434.3,312.5 433.7,322.1 433.8,325.0" fill="none" stroke="#fff" stroke-width="3.30"/>
<path d="M416.7,284.8 C418.1,286.7 422.9,292.3 425.0,296.1 C427.1,299.9 428.6,302.9 429.4,307.7 C430.1,312.5 429.6,322.1 429.7,325.0" fill="none" stroke="#fff" stroke-width="2.81"/>
<path d="M437.4,284.8 C438.8,286.7 443.6,292.3 445.7,296.1 C447.8,299.9 449.2,302.9 450.0,307.7 C450.8,312.5 450.2,322.1 450.3,325.0" fill="none" stroke="#fff" stroke-width="3.30"/>
<path d="M433.2,284.8 C434.6,286.7 439.4,292.3 441.5,296.1 C443.6,299.9 445.1,302.9 445.9,307.7 C446.6,312.5 446.1,322.1 446.2,325.0" fill="none" stroke="#fff" stroke-width="2.81"/>
<path d="M453.9,284.8 C455.3,286.7 460.1,292.3 462.2,296.1 C464.3,299.9 465.7,302.9 466.5,307.7 C467.3,312.5 466.7,322.1 466.8,325.0" fill="none" stroke="#fff" stroke-width="3.30"/>
<path d="M449.7,284.8 C451.1,286.7 455.9,292.3 458.0,296.1 C460.1,299.9 461.6,302.9 462.4,307.7 C463.1,312.5 462.6,322.1 462.7,325.0" fill="none" stroke="#fff" stroke-width="2.81"/>
<path d="M470.4,284.8 C471.8,286.7 476.6,292.3 478.7,296.1 C480.8,299.9 482.2,302.9 483.0,307.7 C483.8,312.5 483.2,322.1 483.3,325.0" fill="none" stroke="#fff" stroke-width="3.30"/>
<path d="M466.2,284.8 C467.6,286.7 472.4,292.3 474.5,296.1 C476.6,299.9 478.1,302.9 478.9,307.7 C479.6,312.5 479.1,322.1 479.2,325.0" fill="none" stroke="#fff" stroke-width="2.81"/>
<path d="M486.9,284.8 C488.3,286.7 493.1,292.3 495.2,296.1 C497.3,299.9 498.7,302.9 499.5,307.7 C500.3,312.5 499.7,322.1 499.8,325.0" fill="none" stroke="#fff" stroke-width="3.30"/>
<path d="M482.7,284.8 C484.1,286.7 488.9,292.3 491.0,296.1 C493.1,299.9 494.6,302.9 495.4,307.7 C496.1,312.5 495.6,322.1 495.7,325.0" fill="none" stroke="#fff" stroke-width="2.81"/>
<path d="M503.4,284.8 C504.8,286.7 509.6,292.3 511.7,296.1 C513.8,299.9 515.2,302.9 516.0,307.7 C516.8,312.5 516.2,322.1 516.3,325.0" fill="none" stroke="#fff" stroke-width="3.30"/>
<path d="M499.2,284.8 C500.6,286.7 505.4,292.3 507.5,296.1 C509.6,299.9 511.1,302.9 511.9,307.7 C512.6,312.5 512.1,322.1 512.2,325.0" fill="none" stroke="#fff" stroke-width="2.81"/>
<path d="M519.9,284.8 C521.3,286.7 526.1,292.3 528.2,296.1 C530.3,299.9 531.7,302.9 532.5,307.7 C533.3,312.5 532.7,322.1 532.8,325.0" fill="none" stroke="#fff" stroke-width="3.30"/>
<path d="M515.7,284.8 C517.1,286.7 521.9,292.3 524.0,296.1 C526.1,299.9 527.6,302.9 528.4,307.7 C529.1,312.5 528.6,322.1 528.7,325.0" fill="none" stroke="#fff" stroke-width="2.81"/>
<path d="M536.4,284.8 C537.8,286.7 542.6,292.3 544.7,296.1 C546.8,299.9 548.2,302.9 549.0,307.7 C549.8,312.5 549.2,322.1 549.3,325.0" fill="none" stroke="#fff" stroke-width="3.30"/>
<path d="M532.2,284.8 C533.6,286.7 538.4,292.3 540.5,296.1 C542.6,299.9 544.1,302.9 544.9,307.7 C545.6,312.5 545.1,322.1 545.2,325.0" fill="none" stroke="#fff" stroke-width="2.81"/>
<path d="M552.9,284.8 C554.3,286.7 559.1,292.3 561.2,296.1 C563.3,299.9 564.7,302.9 565.5,307.7 C566.3,312.5 565.7,322.1 565.8,325.0" fill="none" stroke="#fff" stroke-width="3.30"/>
<path d="M548.7,284.8 C550.1,286.7 554.9,292.3 557.0,296.1 C559.1,299.9 560.6,302.9 561.4,307.7 C562.1,312.5 561.6,322.1 561.7,325.0" fill="none" stroke="#fff" stroke-width="2.81"/>
<path d="M569.4,284.8 C570.8,286.7 575.6,292.3 577.7,296.1 C579.8,299.9 581.2,302.9 582.0,307.7 C582.8,312.5 582.2,322.1 582.3,325.0" fill="none" stroke="#fff" stroke-width="3.30"/>
<path d="M565.2,284.8 C566.6,286.7 571.4,292.3 573.5,296.1 C575.6,299.9 577.1,302.9 577.9,307.7 C578.6,312.5 578.1,322.1 578.2,325.0" fill="none" stroke="#fff" stroke-width="2.81"/>
<path d="M585.9,284.8 C587.3,286.7 592.1,292.3 594.2,296.1 C596.3,299.9 597.7,302.9 598.5,307.7 C599.3,312.5 598.7,322.1 598.8,325.0" fill="none" stroke="#fff" stroke-width="3.30"/>
<path d="M581.7,284.8 C583.1,286.7 587.9,292.3 590.0,296.1 C592.1,299.9 593.6,302.9 594.4,307.7 C595.1,312.5 594.6,322.1 594.7,325.0" fill="none" stroke="#fff" stroke-width="2.81"/>
<path d="M602.4,284.8 C603.8,286.7 608.6,292.3 610.7,296.1 C612.8,299.9 614.2,302.9 615.0,307.7 C615.8,312.5 615.2,322.1 615.3,325.0" fill="none" stroke="#fff" stroke-width="3.30"/>
<path d="M598.2,284.8 C599.6,286.7 604.4,292.3 606.5,296.1 C608.6,299.9 610.1,302.9 610.9,307.7 C611.6,312.5 611.1,322.1 611.2,325.0" fill="none" stroke="#fff" stroke-width="2.81"/>
<path d="M618.9,284.8 C620.3,286.7 625.1,292.3 627.2,296.1 C629.3,299.9 630.7,302.9 631.5,307.7 C632.3,312.5 631.7,322.1 631.8,325.0" fill="none" stroke="#fff" stroke-width="3.30"/>
<path d="M614.7,284.8 C616.1,286.7 620.9,292.3 623.0,296.1 C625.1,299.9 626.6,302.9 627.4,307.7 C628.1,312.5 627.6,322.1 627.7,325.0" fill="none" stroke="#fff" stroke-width="2.81"/>
<path d="M635.4,284.8 C636.8,286.7 641.6,292.3 643.7,296.1 C645.8,299.9 647.2,302.9 648.0,307.7 C648.8,312.5 648.2,322.1 648.3,325.0" fill="none" stroke="#fff" stroke-width="3.30"/>
<path d="M631.2,284.8 C632.6,286.7 637.4,292.3 639.5,296.1 C641.6,299.9 643.1,302.9 643.9,307.7 C644.6,312.5 644.1,322.1 644.2,325.0" fill="none" stroke="#fff" stroke-width="2.81"/>
<path d="M651.9,284.8 C653.3,286.7 658.1,292.3 660.2,296.1 C662.3,299.9 663.7,302.9 664.5,307.7 C665.3,312.5 664.7,322.1 664.8,325.0" fill="none" stroke="#fff" stroke-width="3.30"/>
<path d="M647.7,284.8 C649.1,286.7 653.9,292.3 656.0,296.1 C658.1,299.9 659.6,302.9 660.4,307.7 C661.1,312.5 660.6,322.1 660.7,325.0" fill="none" stroke="#fff" stroke-width="2.81"/>
<path d="M668.4,284.8 C669.8,286.7 674.6,292.3 676.7,296.1 C678.8,299.9 680.2,302.9 681.0,307.7 C681.8,312.5 681.2,322.1 681.3,325.0" fill="none" stroke="#fff" stroke-width="3.30"/>
<path d="M664.2,284.8 C665.6,286.7 670.4,292.3 672.5,296.1 C674.6,299.9 676.1,302.9 676.9,307.7 C677.6,312.5 677.1,322.1 677.2,325.0" fill="none" stroke="#fff" stroke-width="2.81"/>
<path d="M684.9,284.8 C686.3,286.7 691.1,292.3 693.2,296.1 C695.3,299.9 696.7,302.9 697.5,307.7 C698.3,312.5 697.7,322.1 697.8,325.0" fill="none" stroke="#fff" stroke-width="3.30"/>
<path d="M680.7,284.8 C682.1,286.7 686.9,292.3 689.0,296.1 C691.1,299.9 692.6,302.9 693.4,307.7 C694.1,312.5 693.6,322.1 693.7,325.0" fill="none" stroke="#fff" stroke-width="2.81"/>
<path d="M701.4,284.8 C702.8,286.7 707.6,292.3 709.7,296.1 C711.8,299.9 713.2,302.9 714.0,307.7 C714.8,312.5 714.2,322.1 714.3,325.0" fill="none" stroke="#fff" stroke-width="3.30"/>
<path d="M697.2,284.8 C698.6,286.7 703.4,292.3 705.5,296.1 C707.6,299.9 709.1,302.9 709.9,307.7 C710.6,312.5 710.1,322.1 710.2,325.0" fill="none" stroke="#fff" stroke-width="2.81"/>
<path d="M391.0,286 C394.0,283.2 399.5,283.2 401.4,287 C402.4,289 403.4,292 404.4,295" fill="none" stroke="#fff" stroke-width="3.70"/>
<path d="M407.5,286 C410.5,283.2 416.0,283.2 417.9,287 C418.9,289 419.9,292 420.9,295" fill="none" stroke="#fff" stroke-width="3.70"/>
<path d="M424.0,286 C427.0,283.2 432.5,283.2 434.4,287 C435.4,289 436.4,292 437.4,295" fill="none" stroke="#fff" stroke-width="3.70"/>
<path d="M440.5,286 C443.5,283.2 449.0,283.2 450.9,287 C451.9,289 452.9,292 453.9,295" fill="none" stroke="#fff" stroke-width="3.70"/>
<path d="M457.0,286 C460.0,283.2 465.5,283.2 467.4,287 C468.4,289 469.4,292 470.4,295" fill="none" stroke="#fff" stroke-width="3.70"/>
<path d="M473.5,286 C476.5,283.2 482.0,283.2 483.9,287 C484.9,289 485.9,292 486.9,295" fill="none" stroke="#fff" stroke-width="3.70"/>
<path d="M490.0,286 C493.0,283.2 498.5,283.2 500.4,287 C501.4,289 502.4,292 503.4,295" fill="none" stroke="#fff" stroke-width="3.70"/>
<path d="M506.5,286 C509.5,283.2 515.0,283.2 516.9,287 C517.9,289 518.9,292 519.9,295" fill="none" stroke="#fff" stroke-width="3.70"/>
<path d="M523.0,286 C526.0,283.2 531.5,283.2 533.4,287 C534.4,289 535.4,292 536.4,295" fill="none" stroke="#fff" stroke-width="3.70"/>
<path d="M539.5,286 C542.5,283.2 548.0,283.2 549.9,287 C550.9,289 551.9,292 552.9,295" fill="none" stroke="#fff" stroke-width="3.70"/>
<path d="M556.0,286 C559.0,283.2 564.5,283.2 566.4,287 C567.4,289 568.4,292 569.4,295" fill="none" stroke="#fff" stroke-width="3.70"/>
<path d="M572.5,286 C575.5,283.2 581.0,283.2 582.9,287 C583.9,289 584.9,292 585.9,295" fill="none" stroke="#fff" stroke-width="3.70"/>
<path d="M589.0,286 C592.0,283.2 597.5,283.2 599.4,287 C600.4,289 601.4,292 602.4,295" fill="none" stroke="#fff" stroke-width="3.70"/>
<path d="M605.5,286 C608.5,283.2 614.0,283.2 615.9,287 C616.9,289 617.9,292 618.9,295" fill="none" stroke="#fff" stroke-width="3.70"/>
<path d="M622.0,286 C625.0,283.2 630.5,283.2 632.4,287 C633.4,289 634.4,292 635.4,295" fill="none" stroke="#fff" stroke-width="3.70"/>
<path d="M638.5,286 C641.5,283.2 647.0,283.2 648.9,287 C649.9,289 650.9,292 651.9,295" fill="none" stroke="#fff" stroke-width="3.70"/>
<path d="M655.0,286 C658.0,283.2 663.5,283.2 665.4,287 C666.4,289 667.4,292 668.4,295" fill="none" stroke="#fff" stroke-width="3.70"/>
<path d="M671.5,286 C674.5,283.2 680.0,283.2 681.9,287 C682.9,289 683.9,292 684.9,295" fill="none" stroke="#fff" stroke-width="3.70"/>
<path d="M688.0,286 C691.0,283.2 696.5,283.2 698.4,287 C699.4,289 700.4,292 701.4,295" fill="none" stroke="#fff" stroke-width="3.70"/>
<path d="M704.5,286 C707.5,283.2 713.0,283.2 714.9,287 C715.9,289 716.9,292 717.9,295" fill="none" stroke="#fff" stroke-width="3.70"/>
<path d="M389.0,282.8 C390.8,285.0 397.3,292.0 399.8,296.1 C402.3,300.3 402.9,302.8 404.1,307.7 C405.3,312.6 406.6,320.5 407.0,325.5 C407.4,330.5 407.1,333.5 406.6,338.0 C406.2,342.4 405.4,348.3 404.3,352.2 C403.2,356.1 401.7,358.6 399.8,361.1 C397.9,363.6 394.6,365.9 393.0,367.3 C391.3,368.7 390.4,369.2 389.9,369.6" fill="none" stroke="#000" stroke-width="2.6"/>
<path d="M389.8,368 L393.8,361 L395.8,365 L398.8,362 L399.8,368 Z" fill="#000"/>
<path d="M405.5,282.8 C407.3,285.0 413.8,292.0 416.3,296.1 C418.8,300.3 419.4,302.8 420.6,307.7 C421.8,312.6 423.1,320.5 423.5,325.5 C423.9,330.5 423.6,333.5 423.1,338.0 C422.7,342.4 421.9,348.3 420.8,352.2 C419.7,356.1 418.2,358.6 416.3,361.1 C414.4,363.6 411.1,365.9 409.5,367.3 C407.8,368.7 406.9,369.2 406.4,369.6" fill="none" stroke="#000" stroke-width="2.6"/>
<path d="M406.3,368 L410.3,361 L412.3,365 L415.3,362 L416.3,368 Z" fill="#000"/>
<path d="M422.0,282.8 C423.8,285.0 430.3,292.0 432.8,296.1 C435.3,300.3 435.9,302.8 437.1,307.7 C438.3,312.6 439.6,320.5 440.0,325.5 C440.4,330.5 440.1,333.5 439.6,338.0 C439.2,342.4 438.4,348.3 437.3,352.2 C436.2,356.1 434.7,358.6 432.8,361.1 C430.9,363.6 427.6,365.9 426.0,367.3 C424.3,368.7 423.4,369.2 422.9,369.6" fill="none" stroke="#000" stroke-width="2.6"/>
<path d="M422.8,368 L426.8,361 L428.8,365 L431.8,362 L432.8,368 Z" fill="#000"/>
<path d="M438.5,282.8 C440.3,285.0 446.8,292.0 449.3,296.1 C451.8,300.3 452.4,302.8 453.6,307.7 C454.8,312.6 456.1,320.5 456.5,325.5 C456.9,330.5 456.6,333.5 456.1,338.0 C455.7,342.4 454.9,348.3 453.8,352.2 C452.7,356.1 451.2,358.6 449.3,361.1 C447.4,363.6 444.1,365.9 442.5,367.3 C440.8,368.7 439.9,369.2 439.4,369.6" fill="none" stroke="#000" stroke-width="2.6"/>
<path d="M439.3,368 L443.3,361 L445.3,365 L448.3,362 L449.3,368 Z" fill="#000"/>
<path d="M455.0,282.8 C456.8,285.0 463.3,292.0 465.8,296.1 C468.3,300.3 468.9,302.8 470.1,307.7 C471.3,312.6 472.6,320.5 473.0,325.5 C473.4,330.5 473.1,333.5 472.6,338.0 C472.2,342.4 471.4,348.3 470.3,352.2 C469.2,356.1 467.7,358.6 465.8,361.1 C463.9,363.6 460.6,365.9 459.0,367.3 C457.3,368.7 456.4,369.2 455.9,369.6" fill="none" stroke="#000" stroke-width="2.6"/>
<path d="M455.8,368 L459.8,361 L461.8,365 L464.8,362 L465.8,368 Z" fill="#000"/>
<path d="M471.5,282.8 C473.3,285.0 479.8,292.0 482.3,296.1 C484.8,300.3 485.4,302.8 486.6,307.7 C487.8,312.6 489.1,320.5 489.5,325.5 C489.9,330.5 489.6,333.5 489.1,338.0 C488.7,342.4 487.9,348.3 486.8,352.2 C485.7,356.1 484.2,358.6 482.3,361.1 C480.4,363.6 477.1,365.9 475.5,367.3 C473.8,368.7 472.9,369.2 472.4,369.6" fill="none" stroke="#000" stroke-width="2.6"/>
<path d="M472.3,368 L476.3,361 L478.3,365 L481.3,362 L482.3,368 Z" fill="#000"/>
<path d="M488.0,282.8 C489.8,285.0 496.3,292.0 498.8,296.1 C501.3,300.3 501.9,302.8 503.1,307.7 C504.3,312.6 505.6,320.5 506.0,325.5 C506.4,330.5 506.1,333.5 505.6,338.0 C505.2,342.4 504.4,348.3 503.3,352.2 C502.2,356.1 500.7,358.6 498.8,361.1 C496.9,363.6 493.6,365.9 492.0,367.3 C490.3,368.7 489.4,369.2 488.9,369.6" fill="none" stroke="#000" stroke-width="2.6"/>
<path d="M488.8,368 L492.8,361 L494.8,365 L497.8,362 L498.8,368 Z" fill="#000"/>
<path d="M504.5,282.8 C506.3,285.0 512.8,292.0 515.3,296.1 C517.8,300.3 518.4,302.8 519.6,307.7 C520.8,312.6 522.1,320.5 522.5,325.5 C522.9,330.5 522.6,333.5 522.1,338.0 C521.7,342.4 520.9,348.3 519.8,352.2 C518.7,356.1 517.2,358.6 515.3,361.1 C513.4,363.6 510.1,365.9 508.5,367.3 C506.8,368.7 505.9,369.2 505.4,369.6" fill="none" stroke="#000" stroke-width="2.6"/>
<path d="M505.3,368 L509.3,361 L511.3,365 L514.3,362 L515.3,368 Z" fill="#000"/>
<path d="M521.0,282.8 C522.8,285.0 529.3,292.0 531.8,296.1 C534.3,300.3 534.9,302.8 536.1,307.7 C537.3,312.6 538.6,320.5 539.0,325.5 C539.4,330.5 539.1,333.5 538.6,338.0 C538.2,342.4 537.4,348.3 536.3,352.2 C535.2,356.1 533.7,358.6 531.8,361.1 C529.9,363.6 526.6,365.9 525.0,367.3 C523.3,368.7 522.4,369.2 521.9,369.6" fill="none" stroke="#000" stroke-width="2.6"/>
<path d="M521.8,368 L525.8,361 L527.8,365 L530.8,362 L531.8,368 Z" fill="#000"/>
<path d="M537.5,282.8 C539.3,285.0 545.8,292.0 548.3,296.1 C550.8,300.3 551.4,302.8 552.6,307.7 C553.8,312.6 555.1,320.5 555.5,325.5 C555.9,330.5 555.6,333.5 555.1,338.0 C554.7,342.4 553.9,348.3 552.8,352.2 C551.7,356.1 550.2,358.6 548.3,361.1 C546.4,363.6 543.1,365.9 541.5,367.3 C539.8,368.7 538.9,369.2 538.4,369.6" fill="none" stroke="#000" stroke-width="2.6"/>
<path d="M538.3,368 L542.3,361 L544.3,365 L547.3,362 L548.3,368 Z" fill="#000"/>
<path d="M554.0,282.8 C555.8,285.0 562.3,292.0 564.8,296.1 C567.3,300.3 567.9,302.8 569.1,307.7 C570.3,312.6 571.6,320.5 572.0,325.5 C572.4,330.5 572.1,333.5 571.6,338.0 C571.2,342.4 570.4,348.3 569.3,352.2 C568.2,356.1 566.7,358.6 564.8,361.1 C562.9,363.6 559.6,365.9 558.0,367.3 C556.3,368.7 555.4,369.2 554.9,369.6" fill="none" stroke="#000" stroke-width="2.6"/>
<path d="M554.8,368 L558.8,361 L560.8,365 L563.8,362 L564.8,368 Z" fill="#000"/>
<path d="M570.5,282.8 C572.3,285.0 578.8,292.0 581.3,296.1 C583.8,300.3 584.4,302.8 585.6,307.7 C586.8,312.6 588.1,320.5 588.5,325.5 C588.9,330.5 588.6,333.5 588.1,338.0 C587.7,342.4 586.9,348.3 585.8,352.2 C584.7,356.1 583.2,358.6 581.3,361.1 C579.4,363.6 576.1,365.9 574.5,367.3 C572.8,368.7 571.9,369.2 571.4,369.6" fill="none" stroke="#000" stroke-width="2.6"/>
<path d="M571.3,368 L575.3,361 L577.3,365 L580.3,362 L581.3,368 Z" fill="#000"/>
<path d="M587.0,282.8 C588.8,285.0 595.3,292.0 597.8,296.1 C600.3,300.3 600.9,302.8 602.1,307.7 C603.3,312.6 604.6,320.5 605.0,325.5 C605.4,330.5 605.1,333.5 604.6,338.0 C604.2,342.4 603.4,348.3 602.3,352.2 C601.2,356.1 599.7,358.6 597.8,361.1 C595.9,363.6 592.6,365.9 591.0,367.3 C589.3,368.7 588.4,369.2 587.9,369.6" fill="none" stroke="#000" stroke-width="2.6"/>
<path d="M587.8,368 L591.8,361 L593.8,365 L596.8,362 L597.8,368 Z" fill="#000"/>
<path d="M603.5,282.8 C605.3,285.0 611.8,292.0 614.3,296.1 C616.8,300.3 617.4,302.8 618.6,307.7 C619.8,312.6 621.1,320.5 621.5,325.5 C621.9,330.5 621.6,333.5 621.1,338.0 C620.7,342.4 619.9,348.3 618.8,352.2 C617.7,356.1 616.2,358.6 614.3,361.1 C612.4,363.6 609.1,365.9 607.5,367.3 C605.8,368.7 604.9,369.2 604.4,369.6" fill="none" stroke="#000" stroke-width="2.6"/>
<path d="M604.3,368 L608.3,361 L610.3,365 L613.3,362 L614.3,368 Z" fill="#000"/>
<path d="M620.0,282.8 C621.8,285.0 628.3,292.0 630.8,296.1 C633.3,300.3 633.9,302.8 635.1,307.7 C636.3,312.6 637.6,320.5 638.0,325.5 C638.4,330.5 638.1,333.5 637.6,338.0 C637.2,342.4 636.4,348.3 635.3,352.2 C634.2,356.1 632.7,358.6 630.8,361.1 C628.9,363.6 625.6,365.9 624.0,367.3 C622.3,368.7 621.4,369.2 620.9,369.6" fill="none" stroke="#000" stroke-width="2.6"/>
<path d="M620.8,368 L624.8,361 L626.8,365 L629.8,362 L630.8,368 Z" fill="#000"/>
<path d="M636.5,282.8 C638.3,285.0 644.8,292.0 647.3,296.1 C649.8,300.3 650.4,302.8 651.6,307.7 C652.8,312.6 654.1,320.5 654.5,325.5 C654.9,330.5 654.6,333.5 654.1,338.0 C653.7,342.4 652.9,348.3 651.8,352.2 C650.7,356.1 649.2,358.6 647.3,361.1 C645.4,363.6 642.1,365.9 640.5,367.3 C638.8,368.7 637.9,369.2 637.4,369.6" fill="none" stroke="#000" stroke-width="2.6"/>
<path d="M637.3,368 L641.3,361 L643.3,365 L646.3,362 L647.3,368 Z" fill="#000"/>
<path d="M653.0,282.8 C654.8,285.0 661.3,292.0 663.8,296.1 C666.3,300.3 666.9,302.8 668.1,307.7 C669.3,312.6 670.6,320.5 671.0,325.5 C671.4,330.5 671.1,333.5 670.6,338.0 C670.2,342.4 669.4,348.3 668.3,352.2 C667.2,356.1 665.7,358.6 663.8,361.1 C661.9,363.6 658.6,365.9 657.0,367.3 C655.3,368.7 654.4,369.2 653.9,369.6" fill="none" stroke="#000" stroke-width="2.6"/>
<path d="M653.8,368 L657.8,361 L659.8,365 L662.8,362 L663.8,368 Z" fill="#000"/>
<path d="M669.5,282.8 C671.3,285.0 677.8,292.0 680.3,296.1 C682.8,300.3 683.4,302.8 684.6,307.7 C685.8,312.6 687.1,320.5 687.5,325.5 C687.9,330.5 687.6,333.5 687.1,338.0 C686.7,342.4 685.9,348.3 684.8,352.2 C683.7,356.1 682.2,358.6 680.3,361.1 C678.4,363.6 675.1,365.9 673.5,367.3 C671.8,368.7 670.9,369.2 670.4,369.6" fill="none" stroke="#000" stroke-width="2.6"/>
<path d="M670.3,368 L674.3,361 L676.3,365 L679.3,362 L680.3,368 Z" fill="#000"/>
<path d="M686.0,282.8 C687.8,285.0 694.3,292.0 696.8,296.1 C699.3,300.3 699.9,302.8 701.1,307.7 C702.3,312.6 703.6,320.5 704.0,325.5 C704.4,330.5 704.1,333.5 703.6,338.0 C703.2,342.4 702.4,348.3 701.3,352.2 C700.2,356.1 698.7,358.6 696.8,361.1 C694.9,363.6 691.6,365.9 690.0,367.3 C688.3,368.7 687.4,369.2 686.9,369.6" fill="none" stroke="#000" stroke-width="2.6"/>
<path d="M686.8,368 L690.8,361 L692.8,365 L695.8,362 L696.8,368 Z" fill="#000"/>
<path d="M702.5,282.8 C704.3,285.0 710.8,292.0 713.3,296.1 C715.8,300.3 716.4,302.8 717.6,307.7 C718.8,312.6 720.1,320.5 720.5,325.5 C720.9,330.5 720.6,333.5 720.1,338.0 C719.7,342.4 718.9,348.3 717.8,352.2 C716.7,356.1 715.2,358.6 713.3,361.1 C711.4,363.6 708.1,365.9 706.5,367.3 C704.8,368.7 703.9,369.2 703.4,369.6" fill="none" stroke="#000" stroke-width="2.6"/>
<path d="M703.3,368 L707.3,361 L709.3,365 L712.3,362 L713.3,368 Z" fill="#000"/>
<path d="M719.0,282.8 C720.8,285.0 727.3,292.0 729.8,296.1 C732.3,300.3 732.9,302.8 734.1,307.7 C735.3,312.6 736.6,320.5 737.0,325.5 C737.4,330.5 737.1,333.5 736.6,338.0 C736.2,342.4 735.4,348.3 734.3,352.2 C733.2,356.1 731.7,358.6 729.8,361.1 C727.9,363.6 724.6,365.9 723.0,367.3 C721.3,368.7 720.4,369.2 719.9,369.6" fill="none" stroke="#000" stroke-width="3"/>
<path d="M719.8,368 L723.8,361 L725.8,365 L728.8,362 L729.8,368 Z" fill="#000"/>
<path d="M389.5,283.5 C393.0,280 401.5,280 406.0,283.5" fill="none" stroke="#000" stroke-width="2.6"/>
<path d="M390.0,284.5 C394.0,282 400.5,282 404.5,285" fill="none" stroke="#fff" stroke-width="1.2"/>
<path d="M390.4,368.5 C393.9,372 402.4,372 406.9,368.5" fill="none" stroke="#000" stroke-width="2.6"/>
<path d="M406.0,283.5 C409.5,280 418.0,280 422.5,283.5" fill="none" stroke="#000" stroke-width="2.6"/>
<path d="M406.5,284.5 C410.5,282 417.0,282 421.0,285" fill="none" stroke="#fff" stroke-width="1.2"/>
<path d="M406.9,368.5 C410.4,372 418.9,372 423.4,368.5" fill="none" stroke="#000" stroke-width="2.6"/>
<path d="M422.5,283.5 C426.0,280 434.5,280 439.0,283.5" fill="none" stroke="#000" stroke-width="2.6"/>
<path d="M423.0,284.5 C427.0,282 433.5,282 437.5,285" fill="none" stroke="#fff" stroke-width="1.2"/>
<path d="M423.4,368.5 C426.9,372 435.4,372 439.9,368.5" fill="none" stroke="#000" stroke-width="2.6"/>
<path d="M439.0,283.5 C442.5,280 451.0,280 455.5,283.5" fill="none" stroke="#000" stroke-width="2.6"/>
<path d="M439.5,284.5 C443.5,282 450.0,282 454.0,285" fill="none" stroke="#fff" stroke-width="1.2"/>
<path d="M439.9,368.5 C443.4,372 451.9,372 456.4,368.5" fill="none" stroke="#000" stroke-width="2.6"/>
<path d="M455.5,283.5 C459.0,280 467.5,280 472.0,283.5" fill="none" stroke="#000" stroke-width="2.6"/>
<path d="M456.0,284.5 C460.0,282 466.5,282 470.5,285" fill="none" stroke="#fff" stroke-width="1.2"/>
<path d="M456.4,368.5 C459.9,372 468.4,372 472.9,368.5" fill="none" stroke="#000" stroke-width="2.6"/>
<path d="M472.0,283.5 C475.5,280 484.0,280 488.5,283.5" fill="none" stroke="#000" stroke-width="2.6"/>
<path d="M472.5,284.5 C476.5,282 483.0,282 487.0,285" fill="none" stroke="#fff" stroke-width="1.2"/>
<path d="M472.9,368.5 C476.4,372 484.9,372 489.4,368.5" fill="none" stroke="#000" stroke-width="2.6"/>
<path d="M488.5,283.5 C492.0,280 500.5,280 505.0,283.5" fill="none" stroke="#000" stroke-width="2.6"/>
<path d="M489.0,284.5 C493.0,282 499.5,282 503.5,285" fill="none" stroke="#fff" stroke-width="1.2"/>
<path d="M489.4,368.5 C492.9,372 501.4,372 505.9,368.5" fill="none" stroke="#000" stroke-width="2.6"/>
<path d="M505.0,283.5 C508.5,280 517.0,280 521.5,283.5" fill="none" stroke="#000" stroke-width="2.6"/>
<path d="M505.5,284.5 C509.5,282 516.0,282 520.0,285" fill="none" stroke="#fff" stroke-width="1.2"/>
<path d="M505.9,368.5 C509.4,372 517.9,372 522.4,368.5" fill="none" stroke="#000" stroke-width="2.6"/>
<path d="M521.5,283.5 C525.0,280 533.5,280 538.0,283.5" fill="none" stroke="#000" stroke-width="2.6"/>
<path d="M522.0,284.5 C526.0,282 532.5,282 536.5,285" fill="none" stroke="#fff" stroke-width="1.2"/>
<path d="M522.4,368.5 C525.9,372 534.4,372 538.9,368.5" fill="none" stroke="#000" stroke-width="2.6"/>
<path d="M538.0,283.5 C541.5,280 550.0,280 554.5,283.5" fill="none" stroke="#000" stroke-width="2.6"/>
<path d="M538.5,284.5 C542.5,282 549.0,282 553.0,285" fill="none" stroke="#fff" stroke-width="1.2"/>
<path d="M538.9,368.5 C542.4,372 550.9,372 555.4,368.5" fill="none" stroke="#000" stroke-width="2.6"/>
<path d="M554.5,283.5 C558.0,280 566.5,280 571.0,283.5" fill="none" stroke="#000" stroke-width="2.6"/>
<path d="M555.0,284.5 C559.0,282 565.5,282 569.5,285" fill="none" stroke="#fff" stroke-width="1.2"/>
<path d="M555.4,368.5 C558.9,372 567.4,372 571.9,368.5" fill="none" stroke="#000" stroke-width="2.6"/>
<path d="M571.0,283.5 C574.5,280 583.0,280 587.5,283.5" fill="none" stroke="#000" stroke-width="2.6"/>
<path d="M571.5,284.5 C575.5,282 582.0,282 586.0,285" fill="none" stroke="#fff" stroke-width="1.2"/>
<path d="M571.9,368.5 C575.4,372 583.9,372 588.4,368.5" fill="none" stroke="#000" stroke-width="2.6"/>
<path d="M587.5,283.5 C591.0,280 599.5,280 604.0,283.5" fill="none" stroke="#000" stroke-width="2.6"/>
<path d="M588.0,284.5 C592.0,282 598.5,282 602.5,285" fill="none" stroke="#fff" stroke-width="1.2"/>
<path d="M588.4,368.5 C591.9,372 600.4,372 604.9,368.5" fill="none" stroke="#000" stroke-width="2.6"/>
<path d="M604.0,283.5 C607.5,280 616.0,280 620.5,283.5" fill="none" stroke="#000" stroke-width="2.6"/>
<path d="M604.5,284.5 C608.5,282 615.0,282 619.0,285" fill="none" stroke="#fff" stroke-width="1.2"/>
<path d="M604.9,368.5 C608.4,372 616.9,372 621.4,368.5" fill="none" stroke="#000" stroke-width="2.6"/>
<path d="M620.5,283.5 C624.0,280 632.5,280 637.0,283.5" fill="none" stroke="#000" stroke-width="2.6"/>
<path d="M621.0,284.5 C625.0,282 631.5,282 635.5,285" fill="none" stroke="#fff" stroke-width="1.2"/>
<path d="M621.4,368.5 C624.9,372 633.4,372 637.9,368.5" fill="none" stroke="#000" stroke-width="2.6"/>
<path d="M637.0,283.5 C640.5,280 649.0,280 653.5,283.5" fill="none" stroke="#000" stroke-width="2.6"/>
<path d="M637.5,284.5 C641.5,282 648.0,282 652.0,285" fill="none" stroke="#fff" stroke-width="1.2"/>
<path d="M637.9,368.5 C641.4,372 649.9,372 654.4,368.5" fill="none" stroke="#000" stroke-width="2.6"/>
<path d="M653.5,283.5 C657.0,280 665.5,280 670.0,283.5" fill="none" stroke="#000" stroke-width="2.6"/>
<path d="M654.0,284.5 C658.0,282 664.5,282 668.5,285" fill="none" stroke="#fff" stroke-width="1.2"/>
<path d="M654.4,368.5 C657.9,372 666.4,372 670.9,368.5" fill="none" stroke="#000" stroke-width="2.6"/>
<path d="M670.0,283.5 C673.5,280 682.0,280 686.5,283.5" fill="none" stroke="#000" stroke-width="2.6"/>
<path d="M670.5,284.5 C674.5,282 681.0,282 685.0,285" fill="none" stroke="#fff" stroke-width="1.2"/>
<path d="M670.9,368.5 C674.4,372 682.9,372 687.4,368.5" fill="none" stroke="#000" stroke-width="2.6"/>
<path d="M686.5,283.5 C690.0,280 698.5,280 703.0,283.5" fill="none" stroke="#000" stroke-width="2.6"/>
<path d="M687.0,284.5 C691.0,282 697.5,282 701.5,285" fill="none" stroke="#fff" stroke-width="1.2"/>
<path d="M687.4,368.5 C690.9,372 699.4,372 703.9,368.5" fill="none" stroke="#000" stroke-width="2.6"/>
<path d="M703.0,283.5 C706.5,280 715.0,280 719.5,283.5" fill="none" stroke="#000" stroke-width="2.6"/>
<path d="M703.5,284.5 C707.5,282 714.0,282 718.0,285" fill="none" stroke="#fff" stroke-width="1.2"/>
<path d="M703.9,368.5 C707.4,372 715.9,372 720.4,368.5" fill="none" stroke="#000" stroke-width="2.6"/>
<path d="M321.5,255.0 C328.5,255.1 354.0,254.4 363.6,255.8 C373.2,257.2 374.8,259.7 379.0,263.6 C383.2,267.5 386.0,274.0 388.6,279.2 C391.2,284.4 393.6,286.3 394.8,294.8 C396.0,303.3 395.7,319.6 396.0,330.0 C396.3,340.4 397.6,348.8 396.4,357.2 C395.2,365.6 392.8,374.4 388.6,380.6 C384.4,386.8 379.5,391.7 371.4,394.6 C363.3,397.5 349.3,397.5 340.2,397.8 C331.1,398.1 320.7,396.5 316.8,396.2 L317,255 Z" fill="#fff" stroke="#000" stroke-width="4"/>
<path d="M351.0,287.0 C352.8,283.4 365.9,284.2 370.0,284.0 C374.1,283.8 389.7,282.4 392.0,285.0 C394.3,287.6 393.0,304.3 393.0,310.0 C393.0,315.7 394.1,338.8 392.0,342.0 C389.9,345.2 375.7,342.0 372.0,342.0 C368.3,342.0 357.0,344.2 355.0,342.0 C353.0,339.8 352.4,325.5 352.0,320.0 C351.6,314.5 349.2,290.6 351.0,287.0Z" fill="#000"/>
<path d="M342,378 L390,377 C388,386 382,392 372,394 L342,395 Z" fill="#000"/>
<path d="M392,290 C394,320 394,350 390,375" fill="none" stroke="#fff" stroke-width="1.5"/>
<ellipse cx="317" cy="326" rx="40" ry="71" fill="#fff" stroke="#000" stroke-width="4"/>
<ellipse cx="322" cy="328" rx="32" ry="66" fill="#000"/>
<path d="M336,270 C352,290 358,320 355,348 C352,362 346,370 338,374 L330,368 C338,350 342,320 338,292 Z" fill="#fff"/>
<ellipse cx="320" cy="322" rx="19" ry="46" transform="rotate(13 320 322)" fill="#bcbcbc"/>
<path d="M296,300 C305,285 320,270 338,261" fill="none" stroke="#fff" stroke-width="2"/>
<path d="M334,262 L346,261 L349,273 L337,276 Z" fill="#000"/>
<ellipse cx="317" cy="326" rx="40" ry="71" fill="none" stroke="#000" stroke-width="4"/>
<path d="M355,282 C360,310 360,345 352,372" fill="none" stroke="#000" stroke-width="2.5"/>
<rect x="400" y="466" width="339.70000000000005" height="117" fill="#fff"/>
<path d="M400,468 L739.7,468 L739.7,524 L737.1600000000001,524 L734.6600000000001,528.5 L733.1600000000001,523 L731.1600000000001,529.5 L729.1600000000001,524 L727.1600000000001,527.5 L725.1600000000001,523 L723.1600000000001,527 L716.36,524 L713.86,528.5 L712.36,523 L710.36,529.5 L708.36,524 L706.36,527.5 L704.36,523 L702.36,527 L695.5600000000001,524 L693.0600000000001,528.5 L691.5600000000001,523 L689.5600000000001,529.5 L687.5600000000001,524 L685.5600000000001,527.5 L683.5600000000001,523 L681.5600000000001,527 L674.76,524 L672.26,528.5 L670.76,523 L668.76,529.5 L666.76,524 L664.76,527.5 L662.76,523 L660.76,527 L653.96,524 L651.46,528.5 L649.96,523 L647.96,529.5 L645.96,524 L643.96,527.5 L641.96,523 L639.96,527 L633.1600000000001,524 L630.6600000000001,528.5 L629.1600000000001,523 L627.1600000000001,529.5 L625.1600000000001,524 L623.1600000000001,527.5 L621.1600000000001,523 L619.1600000000001,527 L612.36,524 L609.86,528.5 L608.36,523 L606.36,529.5 L604.36,524 L602.36,527.5 L600.36,523 L598.36,527 L591.5600000000001,524 L589.0600000000001,528.5 L587.5600000000001,523 L585.5600000000001,529.5 L583.5600000000001,524 L581.5600000000001,527.5 L579.5600000000001,523 L577.5600000000001,527 L570.76,524 L568.26,528.5 L566.76,523 L564.76,529.5 L562.76,524 L560.76,527.5 L558.76,523 L556.76,527 L549.96,524 L547.46,528.5 L545.96,523 L543.96,529.5 L541.96,524 L539.96,527.5 L537.96,523 L535.96,527 L529.16,524 L526.66,528.5 L525.16,523 L523.16,529.5 L521.16,524 L519.16,527.5 L517.16,523 L515.16,527 L508.35999999999996,524 L505.85999999999996,528.5 L504.35999999999996,523 L502.35999999999996,529.5 L500.35999999999996,524 L498.35999999999996,527.5 L496.35999999999996,523 L494.35999999999996,527 L487.56,524 L485.06,528.5 L483.56,523 L481.56,529.5 L479.56,524 L477.56,527.5 L475.56,523 L473.56,527 L466.76,524 L464.26,528.5 L462.76,523 L460.76,529.5 L458.76,524 L456.76,527.5 L454.76,523 L452.76,527 L445.96,524 L443.46,528.5 L441.96,523 L439.96,529.5 L437.96,524 L435.96,527.5 L433.96,523 L431.96,527 L425.15999999999997,524 L422.65999999999997,528.5 L421.15999999999997,523 L419.15999999999997,529.5 L417.15999999999997,524 L415.15999999999997,527.5 L413.15999999999997,523 L411.15999999999997,527 L400,526 Z" fill="#000"/>
<path d="M400,527 L410.15999999999997,527 L411.15999999999997,527 L413.15999999999997,523 L415.15999999999997,527.5 L417.15999999999997,524 L419.15999999999997,529.5 L421.15999999999997,523 L422.65999999999997,528.5 L425.15999999999997,524 L430.96,527 L431.96,527 L433.96,523 L435.96,527.5 L437.96,524 L439.96,529.5 L441.96,523 L443.46,528.5 L445.96,524 L451.76,527 L452.76,527 L454.76,523 L456.76,527.5 L458.76,524 L460.76,529.5 L462.76,523 L464.26,528.5 L466.76,524 L472.56,527 L473.56,527 L475.56,523 L477.56,527.5 L479.56,524 L481.56,529.5 L483.56,523 L485.06,528.5 L487.56,524 L493.35999999999996,527 L494.35999999999996,527 L496.35999999999996,523 L498.35999999999996,527.5 L500.35999999999996,524 L502.35999999999996,529.5 L504.35999999999996,523 L505.85999999999996,528.5 L508.35999999999996,524 L514.16,527 L515.16,527 L517.16,523 L519.16,527.5 L521.16,524 L523.16,529.5 L525.16,523 L526.66,528.5 L529.16,524 L534.96,527 L535.96,527 L537.96,523 L539.96,527.5 L541.96,524 L543.96,529.5 L545.96,523 L547.46,528.5 L549.96,524 L555.76,527 L556.76,527 L558.76,523 L560.76,527.5 L562.76,524 L564.76,529.5 L566.76,523 L568.26,528.5 L570.76,524 L576.5600000000001,527 L577.5600000000001,527 L579.5600000000001,523 L581.5600000000001,527.5 L583.5600000000001,524 L585.5600000000001,529.5 L587.5600000000001,523 L589.0600000000001,528.5 L591.5600000000001,524 L597.36,527 L598.36,527 L600.36,523 L602.36,527.5 L604.36,524 L606.36,529.5 L608.36,523 L609.86,528.5 L612.36,524 L618.1600000000001,527 L619.1600000000001,527 L621.1600000000001,523 L623.1600000000001,527.5 L625.1600000000001,524 L627.1600000000001,529.5 L629.1600000000001,523 L630.6600000000001,528.5 L633.1600000000001,524 L638.96,527 L639.96,527 L641.96,523 L643.96,527.5 L645.96,524 L647.96,529.5 L649.96,523 L651.46,528.5 L653.96,524 L659.76,527 L660.76,527 L662.76,523 L664.76,527.5 L666.76,524 L668.76,529.5 L670.76,523 L672.26,528.5 L674.76,524 L680.5600000000001,527 L681.5600000000001,527 L683.5600000000001,523 L685.5600000000001,527.5 L687.5600000000001,524 L689.5600000000001,529.5 L691.5600000000001,523 L693.0600000000001,528.5 L695.5600000000001,524 L701.36,527 L702.36,527 L704.36,523 L706.36,527.5 L708.36,524 L710.36,529.5 L712.36,523 L713.86,528.5 L716.36,524 L722.1600000000001,527 L723.1600000000001,527 L725.1600000000001,523 L727.1600000000001,527.5 L729.1600000000001,524 L731.1600000000001,529.5 L733.1600000000001,523 L734.6600000000001,528.5 L737.1600000000001,524 L739.7,524 L739.7,538 L400,538 Z" fill="#bcbcbc"/>
<path d="M717.2,468.3 C719.4,471.3 727.3,480.4 730.4,485.9 C733.5,491.4 734.2,494.7 735.7,501.1 C737.1,507.5 738.7,517.9 739.2,524.5 C739.7,531.1 739.3,535.0 738.8,540.9 C738.2,546.7 737.3,554.5 735.9,559.6 C734.5,564.7 732.7,568.0 730.4,571.3 C728.1,574.6 724.1,577.6 722.0,579.5 C720.0,581.3 718.9,581.9 718.3,582.4 L759.7,584 L759.7,465 L715.7,465 Z" fill="#fff"/>
<path d="M401.6,470.3 C403.4,472.9 409.7,480.8 412.3,485.9 C415.0,491.0 416.1,494.7 417.6,501.1 C419.1,507.5 420.5,520.4 421.1,524.5 C421.8,528.6 421.4,525.8 421.4,526.0" fill="none" stroke="#fff" stroke-width="4.16"/>
<path d="M396.4,470.3 C398.2,472.9 404.5,480.8 407.1,485.9 C409.8,491.0 410.9,494.7 412.4,501.1 C413.9,507.5 415.3,520.4 415.9,524.5 C416.6,528.6 416.2,525.8 416.2,526.0" fill="none" stroke="#fff" stroke-width="3.54"/>
<path d="M422.4,470.3 C424.2,472.9 430.5,480.8 433.1,485.9 C435.8,491.0 436.9,494.7 438.4,501.1 C439.9,507.5 441.3,520.4 441.9,524.5 C442.6,528.6 442.2,525.8 442.2,526.0" fill="none" stroke="#fff" stroke-width="4.16"/>
<path d="M417.2,470.3 C419.0,472.9 425.3,480.8 427.9,485.9 C430.6,491.0 431.7,494.7 433.2,501.1 C434.7,507.5 436.1,520.4 436.7,524.5 C437.4,528.6 437.0,525.8 437.0,526.0" fill="none" stroke="#fff" stroke-width="3.54"/>
<path d="M443.2,470.3 C445.0,472.9 451.3,480.8 453.9,485.9 C456.6,491.0 457.7,494.7 459.2,501.1 C460.7,507.5 462.1,520.4 462.7,524.5 C463.4,528.6 463.0,525.8 463.0,526.0" fill="none" stroke="#fff" stroke-width="4.16"/>
<path d="M438.0,470.3 C439.8,472.9 446.1,480.8 448.7,485.9 C451.4,491.0 452.5,494.7 454.0,501.1 C455.5,507.5 456.9,520.4 457.5,524.5 C458.2,528.6 457.8,525.8 457.8,526.0" fill="none" stroke="#fff" stroke-width="3.54"/>
<path d="M464.0,470.3 C465.8,472.9 472.1,480.8 474.7,485.9 C477.4,491.0 478.5,494.7 480.0,501.1 C481.5,507.5 482.9,520.4 483.5,524.5 C484.2,528.6 483.8,525.8 483.8,526.0" fill="none" stroke="#fff" stroke-width="4.16"/>
<path d="M458.8,470.3 C460.6,472.9 466.9,480.8 469.5,485.9 C472.2,491.0 473.3,494.7 474.8,501.1 C476.3,507.5 477.7,520.4 478.3,524.5 C479.0,528.6 478.6,525.8 478.6,526.0" fill="none" stroke="#fff" stroke-width="3.54"/>
<path d="M484.8,470.3 C486.6,472.9 492.9,480.8 495.5,485.9 C498.2,491.0 499.3,494.7 500.8,501.1 C502.3,507.5 503.7,520.4 504.3,524.5 C505.0,528.6 504.6,525.8 504.6,526.0" fill="none" stroke="#fff" stroke-width="4.16"/>
<path d="M479.6,470.3 C481.4,472.9 487.7,480.8 490.3,485.9 C493.0,491.0 494.1,494.7 495.6,501.1 C497.1,507.5 498.5,520.4 499.1,524.5 C499.8,528.6 499.4,525.8 499.4,526.0" fill="none" stroke="#fff" stroke-width="3.54"/>
<path d="M505.6,470.3 C507.4,472.9 513.7,480.8 516.3,485.9 C519.0,491.0 520.1,494.7 521.6,501.1 C523.1,507.5 524.5,520.4 525.1,524.5 C525.8,528.6 525.4,525.8 525.4,526.0" fill="none" stroke="#fff" stroke-width="4.16"/>
<path d="M500.4,470.3 C502.2,472.9 508.5,480.8 511.1,485.9 C513.8,491.0 514.9,494.7 516.4,501.1 C517.9,507.5 519.3,520.4 519.9,524.5 C520.6,528.6 520.2,525.8 520.2,526.0" fill="none" stroke="#fff" stroke-width="3.54"/>
<path d="M526.4,470.3 C528.2,472.9 534.5,480.8 537.1,485.9 C539.8,491.0 540.9,494.7 542.4,501.1 C543.9,507.5 545.3,520.4 545.9,524.5 C546.6,528.6 546.2,525.8 546.2,526.0" fill="none" stroke="#fff" stroke-width="4.16"/>
<path d="M521.2,470.3 C523.0,472.9 529.3,480.8 531.9,485.9 C534.6,491.0 535.7,494.7 537.2,501.1 C538.7,507.5 540.1,520.4 540.7,524.5 C541.4,528.6 541.0,525.8 541.0,526.0" fill="none" stroke="#fff" stroke-width="3.54"/>
<path d="M547.2,470.3 C549.0,472.9 555.3,480.8 557.9,485.9 C560.6,491.0 561.7,494.7 563.2,501.1 C564.7,507.5 566.1,520.4 566.7,524.5 C567.4,528.6 567.0,525.8 567.0,526.0" fill="none" stroke="#fff" stroke-width="4.16"/>
<path d="M542.0,470.3 C543.8,472.9 550.1,480.8 552.7,485.9 C555.4,491.0 556.5,494.7 558.0,501.1 C559.5,507.5 560.9,520.4 561.5,524.5 C562.2,528.6 561.8,525.8 561.8,526.0" fill="none" stroke="#fff" stroke-width="3.54"/>
<path d="M568.0,470.3 C569.8,472.9 576.1,480.8 578.7,485.9 C581.4,491.0 582.5,494.7 584.0,501.1 C585.5,507.5 586.9,520.4 587.5,524.5 C588.2,528.6 587.8,525.8 587.8,526.0" fill="none" stroke="#fff" stroke-width="4.16"/>
<path d="M562.8,470.3 C564.6,472.9 570.9,480.8 573.5,485.9 C576.2,491.0 577.3,494.7 578.8,501.1 C580.3,507.5 581.7,520.4 582.3,524.5 C583.0,528.6 582.6,525.8 582.6,526.0" fill="none" stroke="#fff" stroke-width="3.54"/>
<path d="M588.8,470.3 C590.6,472.9 596.9,480.8 599.5,485.9 C602.2,491.0 603.3,494.7 604.8,501.1 C606.3,507.5 607.7,520.4 608.3,524.5 C609.0,528.6 608.6,525.8 608.6,526.0" fill="none" stroke="#fff" stroke-width="4.16"/>
<path d="M583.6,470.3 C585.4,472.9 591.7,480.8 594.3,485.9 C597.0,491.0 598.1,494.7 599.6,501.1 C601.1,507.5 602.5,520.4 603.1,524.5 C603.8,528.6 603.4,525.8 603.4,526.0" fill="none" stroke="#fff" stroke-width="3.54"/>
<path d="M609.6,470.3 C611.4,472.9 617.7,480.8 620.3,485.9 C623.0,491.0 624.1,494.7 625.6,501.1 C627.1,507.5 628.5,520.4 629.1,524.5 C629.8,528.6 629.4,525.8 629.4,526.0" fill="none" stroke="#fff" stroke-width="4.16"/>
<path d="M604.4,470.3 C606.2,472.9 612.5,480.8 615.1,485.9 C617.8,491.0 618.9,494.7 620.4,501.1 C621.9,507.5 623.3,520.4 623.9,524.5 C624.6,528.6 624.2,525.8 624.2,526.0" fill="none" stroke="#fff" stroke-width="3.54"/>
<path d="M630.4,470.3 C632.2,472.9 638.5,480.8 641.1,485.9 C643.8,491.0 644.9,494.7 646.4,501.1 C647.9,507.5 649.3,520.4 649.9,524.5 C650.6,528.6 650.2,525.8 650.2,526.0" fill="none" stroke="#fff" stroke-width="4.16"/>
<path d="M625.2,470.3 C627.0,472.9 633.3,480.8 635.9,485.9 C638.6,491.0 639.7,494.7 641.2,501.1 C642.7,507.5 644.1,520.4 644.7,524.5 C645.4,528.6 645.0,525.8 645.0,526.0" fill="none" stroke="#fff" stroke-width="3.54"/>
<path d="M651.2,470.3 C653.0,472.9 659.3,480.8 661.9,485.9 C664.6,491.0 665.7,494.7 667.2,501.1 C668.7,507.5 670.1,520.4 670.7,524.5 C671.4,528.6 671.0,525.8 671.0,526.0" fill="none" stroke="#fff" stroke-width="4.16"/>
<path d="M646.0,470.3 C647.8,472.9 654.1,480.8 656.7,485.9 C659.4,491.0 660.5,494.7 662.0,501.1 C663.5,507.5 664.9,520.4 665.5,524.5 C666.2,528.6 665.8,525.8 665.8,526.0" fill="none" stroke="#fff" stroke-width="3.54"/>
<path d="M672.0,470.3 C673.8,472.9 680.1,480.8 682.7,485.9 C685.4,491.0 686.5,494.7 688.0,501.1 C689.5,507.5 690.9,520.4 691.5,524.5 C692.2,528.6 691.8,525.8 691.8,526.0" fill="none" stroke="#fff" stroke-width="4.16"/>
<path d="M666.8,470.3 C668.6,472.9 674.9,480.8 677.5,485.9 C680.2,491.0 681.3,494.7 682.8,501.1 C684.3,507.5 685.7,520.4 686.3,524.5 C687.0,528.6 686.6,525.8 686.6,526.0" fill="none" stroke="#fff" stroke-width="3.54"/>
<path d="M692.8,470.3 C694.6,472.9 700.9,480.8 703.5,485.9 C706.2,491.0 707.3,494.7 708.8,501.1 C710.3,507.5 711.7,520.4 712.3,524.5 C713.0,528.6 712.6,525.8 712.6,526.0" fill="none" stroke="#fff" stroke-width="4.16"/>
<path d="M687.6,470.3 C689.4,472.9 695.7,480.8 698.3,485.9 C701.0,491.0 702.1,494.7 703.6,501.1 C705.1,507.5 706.5,520.4 707.1,524.5 C707.8,528.6 707.4,525.8 707.4,526.0" fill="none" stroke="#fff" stroke-width="3.54"/>
<path d="M405.7,471 C408.7,468.2 418.5,468.2 419.4,472 C420.4,474 421.4,477 422.4,480" fill="none" stroke="#fff" stroke-width="4.56"/>
<path d="M426.5,471 C429.5,468.2 439.3,468.2 440.2,472 C441.2,474 442.2,477 443.2,480" fill="none" stroke="#fff" stroke-width="4.56"/>
<path d="M447.3,471 C450.3,468.2 460.1,468.2 461.0,472 C462.0,474 463.0,477 464.0,480" fill="none" stroke="#fff" stroke-width="4.56"/>
<path d="M468.09999999999997,471 C471.09999999999997,468.2 480.9,468.2 481.8,472 C482.8,474 483.8,477 484.8,480" fill="none" stroke="#fff" stroke-width="4.56"/>
<path d="M488.9,471 C491.9,468.2 501.7,468.2 502.6,472 C503.6,474 504.6,477 505.6,480" fill="none" stroke="#fff" stroke-width="4.56"/>
<path d="M509.7,471 C512.7,468.2 522.5,468.2 523.4,472 C524.4,474 525.4,477 526.4,480" fill="none" stroke="#fff" stroke-width="4.56"/>
<path d="M530.5,471 C533.5,468.2 543.3,468.2 544.2,472 C545.2,474 546.2,477 547.2,480" fill="none" stroke="#fff" stroke-width="4.56"/>
<path d="M551.3000000000001,471 C554.3000000000001,468.2 564.1,468.2 565.0,472 C566.0,474 567.0,477 568.0,480" fill="none" stroke="#fff" stroke-width="4.56"/>
<path d="M572.1,471 C575.1,468.2 584.9,468.2 585.8,472 C586.8,474 587.8,477 588.8,480" fill="none" stroke="#fff" stroke-width="4.56"/>
<path d="M592.9000000000001,471 C595.9000000000001,468.2 605.7,468.2 606.6,472 C607.6,474 608.6,477 609.6,480" fill="none" stroke="#fff" stroke-width="4.56"/>
<path d="M613.7,471 C616.7,468.2 626.5,468.2 627.4,472 C628.4,474 629.4,477 630.4,480" fill="none" stroke="#fff" stroke-width="4.56"/>
<path d="M634.5,471 C637.5,468.2 647.3,468.2 648.2,472 C649.2,474 650.2,477 651.2,480" fill="none" stroke="#fff" stroke-width="4.56"/>
<path d="M655.3000000000001,471 C658.3000000000001,468.2 668.1,468.2 669.0,472 C670.0,474 671.0,477 672.0,480" fill="none" stroke="#fff" stroke-width="4.56"/>
<path d="M676.1,471 C679.1,468.2 688.9,468.2 689.8,472 C690.8,474 691.8,477 692.8,480" fill="none" stroke="#fff" stroke-width="4.56"/>
<path d="M696.9000000000001,471 C699.9000000000001,468.2 709.7,468.2 710.6,472 C711.6,474 712.6,477 713.6,480" fill="none" stroke="#fff" stroke-width="4.56"/>
<path d="M403.7,468.3 C405.9,471.3 413.8,480.4 416.9,485.9 C420.0,491.4 420.7,494.7 422.2,501.1 C423.6,507.5 425.2,517.9 425.7,524.5 C426.2,531.1 425.8,535.0 425.3,540.9 C424.7,546.7 423.8,554.5 422.4,559.6 C421.0,564.7 419.2,568.0 416.9,571.3 C414.6,574.6 410.6,577.6 408.5,579.5 C406.5,581.3 405.4,581.9 404.8,582.4" fill="none" stroke="#000" stroke-width="3"/>
<path d="M404.9,581 L408.9,574 L410.9,578 L413.9,575 L414.9,581 Z" fill="#000"/>
<path d="M424.5,468.3 C426.7,471.3 434.6,480.4 437.7,485.9 C440.8,491.4 441.5,494.7 443.0,501.1 C444.4,507.5 446.0,517.9 446.5,524.5 C447.0,531.1 446.6,535.0 446.1,540.9 C445.5,546.7 444.6,554.5 443.2,559.6 C441.8,564.7 440.0,568.0 437.7,571.3 C435.4,574.6 431.4,577.6 429.3,579.5 C427.3,581.3 426.2,581.9 425.6,582.4" fill="none" stroke="#000" stroke-width="3"/>
<path d="M425.7,581 L429.7,574 L431.7,578 L434.7,575 L435.7,581 Z" fill="#000"/>
<path d="M445.3,468.3 C447.5,471.3 455.4,480.4 458.5,485.9 C461.6,491.4 462.3,494.7 463.8,501.1 C465.2,507.5 466.8,517.9 467.3,524.5 C467.8,531.1 467.4,535.0 466.9,540.9 C466.3,546.7 465.4,554.5 464.0,559.6 C462.6,564.7 460.8,568.0 458.5,571.3 C456.2,574.6 452.2,577.6 450.1,579.5 C448.1,581.3 447.0,581.9 446.4,582.4" fill="none" stroke="#000" stroke-width="3"/>
<path d="M446.5,581 L450.5,574 L452.5,578 L455.5,575 L456.5,581 Z" fill="#000"/>
<path d="M466.1,468.3 C468.3,471.3 476.2,480.4 479.3,485.9 C482.4,491.4 483.1,494.7 484.6,501.1 C486.0,507.5 487.6,517.9 488.1,524.5 C488.6,531.1 488.2,535.0 487.7,540.9 C487.1,546.7 486.2,554.5 484.8,559.6 C483.4,564.7 481.6,568.0 479.3,571.3 C477.0,574.6 473.0,577.6 470.9,579.5 C468.9,581.3 467.8,581.9 467.2,582.4" fill="none" stroke="#000" stroke-width="3"/>
<path d="M467.3,581 L471.3,574 L473.3,578 L476.3,575 L477.3,581 Z" fill="#000"/>
<path d="M486.9,468.3 C489.1,471.3 497.0,480.4 500.1,485.9 C503.2,491.4 503.9,494.7 505.4,501.1 C506.8,507.5 508.4,517.9 508.9,524.5 C509.4,531.1 509.0,535.0 508.5,540.9 C507.9,546.7 507.0,554.5 505.6,559.6 C504.2,564.7 502.4,568.0 500.1,571.3 C497.8,574.6 493.8,577.6 491.7,579.5 C489.7,581.3 488.6,581.9 488.0,582.4" fill="none" stroke="#000" stroke-width="3"/>
<path d="M488.09999999999997,581 L492.09999999999997,574 L494.09999999999997,578 L497.09999999999997,575 L498.09999999999997,581 Z" fill="#000"/>
<path d="M507.7,468.3 C509.9,471.3 517.8,480.4 520.9,485.9 C524.0,491.4 524.7,494.7 526.2,501.1 C527.6,507.5 529.2,517.9 529.7,524.5 C530.2,531.1 529.8,535.0 529.3,540.9 C528.7,546.7 527.8,554.5 526.4,559.6 C525.0,564.7 523.2,568.0 520.9,571.3 C518.6,574.6 514.6,577.6 512.5,579.5 C510.5,581.3 509.4,581.9 508.8,582.4" fill="none" stroke="#000" stroke-width="3"/>
<path d="M508.9,581 L512.9,574 L514.9,578 L517.9,575 L518.9,581 Z" fill="#000"/>
<path d="M528.5,468.3 C530.7,471.3 538.6,480.4 541.7,485.9 C544.8,491.4 545.5,494.7 547.0,501.1 C548.4,507.5 550.0,517.9 550.5,524.5 C551.0,531.1 550.6,535.0 550.1,540.9 C549.5,546.7 548.6,554.5 547.2,559.6 C545.8,564.7 544.0,568.0 541.7,571.3 C539.4,574.6 535.4,577.6 533.3,579.5 C531.3,581.3 530.2,581.9 529.6,582.4" fill="none" stroke="#000" stroke-width="3"/>
<path d="M529.7,581 L533.7,574 L535.7,578 L538.7,575 L539.7,581 Z" fill="#000"/>
<path d="M549.3,468.3 C551.5,471.3 559.4,480.4 562.5,485.9 C565.6,491.4 566.3,494.7 567.8,501.1 C569.2,507.5 570.8,517.9 571.3,524.5 C571.8,531.1 571.4,535.0 570.9,540.9 C570.3,546.7 569.4,554.5 568.0,559.6 C566.6,564.7 564.8,568.0 562.5,571.3 C560.2,574.6 556.2,577.6 554.1,579.5 C552.1,581.3 551.0,581.9 550.4,582.4" fill="none" stroke="#000" stroke-width="3"/>
<path d="M550.5,581 L554.5,574 L556.5,578 L559.5,575 L560.5,581 Z" fill="#000"/>
<path d="M570.1,468.3 C572.3,471.3 580.2,480.4 583.3,485.9 C586.4,491.4 587.1,494.7 588.6,501.1 C590.0,507.5 591.6,517.9 592.1,524.5 C592.6,531.1 592.2,535.0 591.7,540.9 C591.1,546.7 590.2,554.5 588.8,559.6 C587.4,564.7 585.6,568.0 583.3,571.3 C581.0,574.6 577.0,577.6 574.9,579.5 C572.9,581.3 571.8,581.9 571.2,582.4" fill="none" stroke="#000" stroke-width="3"/>
<path d="M571.3000000000001,581 L575.3000000000001,574 L577.3000000000001,578 L580.3000000000001,575 L581.3000000000001,581 Z" fill="#000"/>
<path d="M590.9,468.3 C593.1,471.3 601.0,480.4 604.1,485.9 C607.2,491.4 607.9,494.7 609.4,501.1 C610.8,507.5 612.4,517.9 612.9,524.5 C613.4,531.1 613.0,535.0 612.5,540.9 C611.9,546.7 611.0,554.5 609.6,559.6 C608.2,564.7 606.4,568.0 604.1,571.3 C601.8,574.6 597.8,577.6 595.7,579.5 C593.7,581.3 592.6,581.9 592.0,582.4" fill="none" stroke="#000" stroke-width="3"/>
<path d="M592.1,581 L596.1,574 L598.1,578 L601.1,575 L602.1,581 Z" fill="#000"/>
<path d="M611.7,468.3 C613.9,471.3 621.8,480.4 624.9,485.9 C628.0,491.4 628.7,494.7 630.2,501.1 C631.6,507.5 633.2,517.9 633.7,524.5 C634.2,531.1 633.8,535.0 633.3,540.9 C632.7,546.7 631.8,554.5 630.4,559.6 C629.0,564.7 627.2,568.0 624.9,571.3 C622.6,574.6 618.6,577.6 616.5,579.5 C614.5,581.3 613.4,581.9 612.8,582.4" fill="none" stroke="#000" stroke-width="3"/>
<path d="M612.9000000000001,581 L616.9000000000001,574 L618.9000000000001,578 L621.9000000000001,575 L622.9000000000001,581 Z" fill="#000"/>
<path d="M632.5,468.3 C634.7,471.3 642.6,480.4 645.7,485.9 C648.8,491.4 649.5,494.7 651.0,501.1 C652.4,507.5 654.0,517.9 654.5,524.5 C655.0,531.1 654.6,535.0 654.1,540.9 C653.5,546.7 652.6,554.5 651.2,559.6 C649.8,564.7 648.0,568.0 645.7,571.3 C643.4,574.6 639.4,577.6 637.3,579.5 C635.3,581.3 634.2,581.9 633.6,582.4" fill="none" stroke="#000" stroke-width="3"/>
<path d="M633.7,581 L637.7,574 L639.7,578 L642.7,575 L643.7,581 Z" fill="#000"/>
<path d="M653.3,468.3 C655.5,471.3 663.4,480.4 666.5,485.9 C669.6,491.4 670.3,494.7 671.8,501.1 C673.2,507.5 674.8,517.9 675.3,524.5 C675.8,531.1 675.4,535.0 674.9,540.9 C674.3,546.7 673.4,554.5 672.0,559.6 C670.6,564.7 668.8,568.0 666.5,571.3 C664.2,574.6 660.2,577.6 658.1,579.5 C656.1,581.3 655.0,581.9 654.4,582.4" fill="none" stroke="#000" stroke-width="3"/>
<path d="M654.5,581 L658.5,574 L660.5,578 L663.5,575 L664.5,581 Z" fill="#000"/>
<path d="M674.1,468.3 C676.3,471.3 684.2,480.4 687.3,485.9 C690.4,491.4 691.1,494.7 692.6,501.1 C694.0,507.5 695.6,517.9 696.1,524.5 C696.6,531.1 696.2,535.0 695.7,540.9 C695.1,546.7 694.2,554.5 692.8,559.6 C691.4,564.7 689.6,568.0 687.3,571.3 C685.0,574.6 681.0,577.6 678.9,579.5 C676.9,581.3 675.8,581.9 675.2,582.4" fill="none" stroke="#000" stroke-width="3"/>
<path d="M675.3000000000001,581 L679.3000000000001,574 L681.3000000000001,578 L684.3000000000001,575 L685.3000000000001,581 Z" fill="#000"/>
<path d="M694.9,468.3 C697.1,471.3 705.0,480.4 708.1,485.9 C711.2,491.4 711.9,494.7 713.4,501.1 C714.8,507.5 716.4,517.9 716.9,524.5 C717.4,531.1 717.0,535.0 716.5,540.9 C715.9,546.7 715.0,554.5 713.6,559.6 C712.2,564.7 710.4,568.0 708.1,571.3 C705.8,574.6 701.8,577.6 699.7,579.5 C697.7,581.3 696.6,581.9 696.0,582.4" fill="none" stroke="#000" stroke-width="3"/>
<path d="M696.1,581 L700.1,574 L702.1,578 L705.1,575 L706.1,581 Z" fill="#000"/>
<path d="M715.7,468.3 C717.9,471.3 725.8,480.4 728.9,485.9 C732.0,491.4 732.7,494.7 734.2,501.1 C735.6,507.5 737.2,517.9 737.7,524.5 C738.2,531.1 737.8,535.0 737.3,540.9 C736.7,546.7 735.8,554.5 734.4,559.6 C733.0,564.7 731.2,568.0 728.9,571.3 C726.6,574.6 722.6,577.6 720.5,579.5 C718.5,581.3 717.4,581.9 716.8,582.4" fill="none" stroke="#000" stroke-width="3"/>
<path d="M716.9000000000001,581 L720.9000000000001,574 L722.9000000000001,578 L725.9000000000001,575 L726.9000000000001,581 Z" fill="#000"/>
<path d="M404.2,468.5 C407.7,465 420.5,465 425.0,468.5" fill="none" stroke="#000" stroke-width="3"/>
<path d="M404.7,469.5 C408.7,467 419.5,467 423.5,470" fill="none" stroke="#fff" stroke-width="1.2"/>
<path d="M405.3,581.5 C408.8,585 421.6,585 426.1,581.5" fill="none" stroke="#000" stroke-width="3"/>
<path d="M425.0,468.5 C428.5,465 441.3,465 445.8,468.5" fill="none" stroke="#000" stroke-width="3"/>
<path d="M425.5,469.5 C429.5,467 440.3,467 444.3,470" fill="none" stroke="#fff" stroke-width="1.2"/>
<path d="M426.1,581.5 C429.6,585 442.40000000000003,585 446.90000000000003,581.5" fill="none" stroke="#000" stroke-width="3"/>
<path d="M445.8,468.5 C449.3,465 462.1,465 466.6,468.5" fill="none" stroke="#000" stroke-width="3"/>
<path d="M446.3,469.5 C450.3,467 461.1,467 465.1,470" fill="none" stroke="#fff" stroke-width="1.2"/>
<path d="M446.90000000000003,581.5 C450.40000000000003,585 463.20000000000005,585 467.70000000000005,581.5" fill="none" stroke="#000" stroke-width="3"/>
<path d="M466.59999999999997,468.5 C470.09999999999997,465 482.9,465 487.4,468.5" fill="none" stroke="#000" stroke-width="3"/>
<path d="M467.09999999999997,469.5 C471.09999999999997,467 481.9,467 485.9,470" fill="none" stroke="#fff" stroke-width="1.2"/>
<path d="M467.7,581.5 C471.2,585 484.0,585 488.5,581.5" fill="none" stroke="#000" stroke-width="3"/>
<path d="M487.4,468.5 C490.9,465 503.7,465 508.2,468.5" fill="none" stroke="#000" stroke-width="3"/>
<path d="M487.9,469.5 C491.9,467 502.7,467 506.7,470" fill="none" stroke="#fff" stroke-width="1.2"/>
<path d="M488.5,581.5 C492.0,585 504.8,585 509.3,581.5" fill="none" stroke="#000" stroke-width="3"/>
<path d="M508.2,468.5 C511.7,465 524.5,465 529.0,468.5" fill="none" stroke="#000" stroke-width="3"/>
<path d="M508.7,469.5 C512.7,467 523.5,467 527.5,470" fill="none" stroke="#fff" stroke-width="1.2"/>
<path d="M509.3,581.5 C512.8,585 525.6,585 530.1,581.5" fill="none" stroke="#000" stroke-width="3"/>
<path d="M529.0,468.5 C532.5,465 545.3,465 549.8,468.5" fill="none" stroke="#000" stroke-width="3"/>
<path d="M529.5,469.5 C533.5,467 544.3,467 548.3,470" fill="none" stroke="#fff" stroke-width="1.2"/>
<path d="M530.1,581.5 C533.6,585 546.4,585 550.9,581.5" fill="none" stroke="#000" stroke-width="3"/>
<path d="M549.8000000000001,468.5 C553.3000000000001,465 566.1,465 570.6,468.5" fill="none" stroke="#000" stroke-width="3"/>
<path d="M550.3000000000001,469.5 C554.3000000000001,467 565.1,467 569.1,470" fill="none" stroke="#fff" stroke-width="1.2"/>
<path d="M550.9000000000001,581.5 C554.4000000000001,585 567.2,585 571.7,581.5" fill="none" stroke="#000" stroke-width="3"/>
<path d="M570.6,468.5 C574.1,465 586.9,465 591.4,468.5" fill="none" stroke="#000" stroke-width="3"/>
<path d="M571.1,469.5 C575.1,467 585.9,467 589.9,470" fill="none" stroke="#fff" stroke-width="1.2"/>
<path d="M571.7,581.5 C575.2,585 588.0,585 592.5,581.5" fill="none" stroke="#000" stroke-width="3"/>
<path d="M591.4000000000001,468.5 C594.9000000000001,465 607.7,465 612.2,468.5" fill="none" stroke="#000" stroke-width="3"/>
<path d="M591.9000000000001,469.5 C595.9000000000001,467 606.7,467 610.7,470" fill="none" stroke="#fff" stroke-width="1.2"/>
<path d="M592.5000000000001,581.5 C596.0000000000001,585 608.8000000000001,585 613.3000000000001,581.5" fill="none" stroke="#000" stroke-width="3"/>
<path d="M612.2,468.5 C615.7,465 628.5,465 633.0,468.5" fill="none" stroke="#000" stroke-width="3"/>
<path d="M612.7,469.5 C616.7,467 627.5,467 631.5,470" fill="none" stroke="#fff" stroke-width="1.2"/>
<path d="M613.3000000000001,581.5 C616.8000000000001,585 629.6,585 634.1,581.5" fill="none" stroke="#000" stroke-width="3"/>
<path d="M633.0,468.5 C636.5,465 649.3,465 653.8,468.5" fill="none" stroke="#000" stroke-width="3"/>
<path d="M633.5,469.5 C637.5,467 648.3,467 652.3,470" fill="none" stroke="#fff" stroke-width="1.2"/>
<path d="M634.1,581.5 C637.6,585 650.4,585 654.9,581.5" fill="none" stroke="#000" stroke-width="3"/>
<path d="M653.8000000000001,468.5 C657.3000000000001,465 670.1,465 674.6,468.5" fill="none" stroke="#000" stroke-width="3"/>
<path d="M654.3000000000001,469.5 C658.3000000000001,467 669.1,467 673.1,470" fill="none" stroke="#fff" stroke-width="1.2"/>
<path d="M654.9000000000001,581.5 C658.4000000000001,585 671.2,585 675.7,581.5" fill="none" stroke="#000" stroke-width="3"/>
<path d="M674.6,468.5 C678.1,465 690.9,465 695.4,468.5" fill="none" stroke="#000" stroke-width="3"/>
<path d="M675.1,469.5 C679.1,467 689.9,467 693.9,470" fill="none" stroke="#fff" stroke-width="1.2"/>
<path d="M675.7,581.5 C679.2,585 692.0,585 696.5,581.5" fill="none" stroke="#000" stroke-width="3"/>
<path d="M695.4000000000001,468.5 C698.9000000000001,465 711.7,465 716.2,468.5" fill="none" stroke="#000" stroke-width="3"/>
<path d="M695.9000000000001,469.5 C699.9000000000001,467 710.7,467 714.7,470" fill="none" stroke="#fff" stroke-width="1.2"/>
<path d="M696.5000000000001,581.5 C700.0000000000001,585 712.8000000000001,585 717.3000000000001,581.5" fill="none" stroke="#000" stroke-width="3"/>
<path d="M342,432 C365,433 395,445 415,460 L433,470 L433,585 L415,598 C395,612 370,622 342,624 Z" fill="#fff" stroke="#000" stroke-width="4"/>
<path d="M412,461 C418,490 419,560 412,590 L432,585 L432,470 Z" fill="#bcbcbc"/>
<path d="M412,461 C418,490 419,560 412,590" fill="none" stroke="#fff" stroke-width="2"/>
<path d="M392.3,492 L411,492 L411,571 L392.3,571 Z" fill="#000"/>
<ellipse cx="342" cy="528" rx="50" ry="96" fill="#fff" stroke="#000" stroke-width="4"/>
<clipPath id="clipCr"><rect x="362" y="420" width="60" height="220"/></clipPath>
<ellipse cx="347" cy="528" rx="41.5" ry="92" fill="none" stroke="#000" stroke-width="2.4" clip-path="url(#clipCr)"/>
<ellipse cx="345" cy="522" rx="37.5" ry="80" fill="#000"/>
<ellipse cx="337" cy="535" rx="34" ry="66" fill="#fff"/>
<path d="M308,560 C312,585 325,598 345,600" fill="none" stroke="#000" stroke-width="2.5"/>
<path d="M308,495 C306,480 312,470 322,466" fill="none" stroke="#000" stroke-width="2"/>
<path d="M354.5,562.7 L352.3,561.1 L350.7,560.4 L349.5,560.9 L348.5,562.5 L347.8,565.6 L347.0,570.1 L346.0,575.4 L344.7,580.7 L343.0,585.3 L341.1,588.1 L339.0,588.9 L337.1,587.3 L335.5,583.6 L334.3,578.5 L333.6,572.9 L333.2,567.4 L332.9,563.0 L332.4,559.9 L331.5,558.2 L330.3,557.5 L328.6,557.8 L326.2,558.8 L323.3,559.9 L320.2,560.5 L317.3,560.1 L315.1,558.4 L313.7,555.4 L313.5,551.4 L314.4,546.9 L316.2,542.4 L318.4,538.3 L320.7,534.8 L322.5,531.9 L323.7,529.5 L324.1,527.3 L323.8,524.9 L322.8,522.2 L321.2,518.7 L319.3,514.6 L317.5,509.8 L316.3,504.8 L316.0,500.2 L316.7,496.5 L318.4,494.1 L320.9,493.3 L323.8,493.8 L326.8,495.4 L329.5,497.3 L331.7,498.9 L333.3,499.6 L334.5,499.1 L335.5,497.5 L336.2,494.4 L337.0,489.9 L338.0,484.6 L339.3,479.3 L341.0,474.7 L342.9,471.9 L345.0,471.1 L346.9,472.7 L348.5,476.4 L349.7,481.5 L350.4,487.1 L350.8,492.6 L351.1,497.0 L351.6,500.1 L352.5,501.8 L353.7,502.5 L355.4,502.2 L357.8,501.2 L360.7,500.1 L363.8,499.5 L366.7,499.9 L368.9,501.6 L370.3,504.6 L370.5,508.6 L369.6,513.1 L367.8,517.6 L365.6,521.7 L363.3,525.2 L361.5,528.1 L360.3,530.5 L359.9,532.7 L360.2,535.1 L361.2,537.8 L362.8,541.3 L364.7,545.4 L366.5,550.2 L367.7,555.2 L368.0,559.8 L367.3,563.5 L365.6,565.9 L363.1,566.7 L360.2,566.2 L357.2,564.6Z" fill="#000" stroke="#000" stroke-width="3" stroke-linejoin="round"/>
<path d="M342.0,530.0 L316.3,506.9 L323.6,498.9 Z" fill="#bcbcbc"/>
<path d="M342.0,530.0 L318.3,561.1 L318.4,545.3 Z" fill="#bcbcbc"/>
<path d="M342.0,530.0 L343.9,584.1 L336.8,576.3 Z" fill="#bcbcbc"/>
<path d="M717.0,878.0 C717.2,872.2 719.5,857.6 722.0,852.0 C724.5,846.4 733.6,834.3 738.0,830.0 C742.4,825.7 754.3,818.0 760.0,815.0 C765.7,812.0 782.0,805.0 787.0,804.0 C792.0,803.0 800.1,805.1 803.0,806.0 C805.9,806.9 809.3,811.3 812.0,812.0 C814.7,812.7 823.2,811.1 826.0,812.0 C828.8,812.9 834.0,818.5 836.0,820.0 C838.0,821.5 841.7,824.3 843.5,824.5 C845.3,824.7 849.6,821.8 851.5,822.0 C853.4,822.2 858.0,824.9 859.5,826.5 C861.0,828.1 863.4,833.3 864.0,835.5 C864.6,837.7 864.6,843.5 864.5,845.5 C864.4,847.5 862.4,852.2 862.8,852.7 C863.2,853.2 866.3,850.3 867.8,849.7 C869.3,849.1 873.9,847.0 875.8,847.2 C877.7,847.4 882.3,850.1 883.8,851.7 C885.3,853.3 887.7,858.5 888.3,860.7 C888.9,862.9 888.9,868.7 888.8,870.7 C888.7,872.7 886.7,877.4 887.1,877.9 C887.5,878.4 890.6,875.5 892.1,874.9 C893.6,874.3 898.2,872.2 900.1,872.4 C902.0,872.6 906.6,875.3 908.1,876.9 C909.6,878.5 912.0,883.7 912.6,885.9 C913.2,888.1 913.2,893.9 913.1,895.9 C913.0,897.9 911.0,902.6 911.4,903.1 C911.8,903.6 914.9,900.7 916.4,900.1 C917.9,899.5 922.5,897.4 924.4,897.6 C926.3,897.8 930.9,900.5 932.4,902.1 C933.9,903.7 936.3,908.9 936.9,911.1 C937.5,913.3 937.5,919.1 937.4,921.1 C937.3,923.1 935.3,927.8 935.7,928.3 C936.1,928.8 939.2,925.9 940.7,925.3 C942.2,924.7 946.8,922.6 948.7,922.8 C950.6,923.0 955.2,925.7 956.7,927.3 C958.2,928.9 960.6,934.1 961.2,936.3 C961.8,938.5 961.8,944.3 961.7,946.3 C961.6,948.3 959.6,953.0 960.0,953.5 C960.4,954.0 963.5,951.1 965.0,950.5 C966.5,949.9 971.1,947.8 973.0,948.0 C974.9,948.2 979.5,950.9 981.0,952.5 C982.5,954.1 984.9,959.3 985.5,961.5 C986.1,963.7 986.1,969.5 986.0,971.5 C985.9,973.5 983.9,978.2 984.3,978.7 C984.7,979.2 987.8,976.3 989.3,975.7 C990.8,975.1 995.4,973.0 997.3,973.2 C999.2,973.4 1003.8,976.1 1005.3,977.7 C1006.8,979.3 1009.2,984.5 1009.8,986.7 C1010.4,988.9 1011.4,995.1 1010.3,996.7 C1009.2,998.3 1022.2,999.6 1000.0,1000.0 C977.8,1000.4 841.9,1001.8 820.0,1000.0 C798.1,998.2 815.5,988.3 812.0,985.0 C808.5,981.7 795.1,974.7 790.0,972.0 C784.9,969.3 772.4,964.6 768.0,962.0 C763.6,959.4 755.3,953.3 752.0,950.0 C748.7,946.7 742.8,937.5 740.0,934.0 C737.2,930.5 730.3,923.7 728.0,920.0 C725.7,916.3 721.3,906.9 720.0,902.0 C718.7,897.1 716.8,883.8 717.0,878.0Z" fill="#fff"/>
<path d="M722,858 L745,852 L769,852 L800,862 L840,885 L880,910 L920,938 L960,962 L1000,985 L1000,1000 L860,1000 L830,962 L800,932 L775,906 L745,894 L722,893Z" fill="#bcbcbc"/>
<path d="M848.0,843.5 C848.6,847.9 847.3,862.6 846.0,868.5 C844.7,874.4 841.1,882.7 838.5,887.5 C835.9,892.3 830.0,900.4 826.5,904.5 C823.0,908.6 816.8,915.0 812.5,918.5 C808.2,922.0 800.0,927.4 794.5,930.5 C789.0,933.6 777.0,939.0 771.5,941.5 C766.0,944.0 757.6,949.6 753.5,949.5 C749.4,949.4 739.4,943.7 740.5,940.5 C741.6,937.3 755.5,930.2 761.5,925.5 C767.5,920.8 779.9,910.2 785.5,905.5 C791.1,900.8 799.2,894.6 803.5,890.5 C807.8,886.4 814.3,878.6 817.5,874.5 C820.7,870.4 825.2,864.0 827.5,859.5 C829.8,855.0 833.1,843.7 835.0,840.5 C836.9,837.3 839.8,835.1 841.5,835.5 C843.2,835.9 847.4,839.1 848.0,843.5Z" fill="#000"/>
<path d="M781.5,913.5 L795.5,903.5 L798.5,907.5 L784.5,917.5 Z" fill="#000"/>
<path d="M872.3,868.7 C872.9,873.1 871.6,887.8 870.3,893.7 C869.0,899.6 865.4,907.9 862.8,912.7 C860.2,917.5 854.3,925.6 850.8,929.7 C847.3,933.8 841.1,940.2 836.8,943.7 C832.5,947.2 824.3,952.6 818.8,955.7 C813.3,958.8 801.3,964.2 795.8,966.7 C790.3,969.2 781.9,974.8 777.8,974.7 C773.7,974.6 763.7,968.9 764.8,965.7 C765.9,962.5 779.8,955.4 785.8,950.7 C791.8,946.0 804.2,935.4 809.8,930.7 C815.4,926.0 823.5,919.8 827.8,915.7 C832.1,911.6 838.6,903.8 841.8,899.7 C845.0,895.6 849.5,889.2 851.8,884.7 C854.1,880.2 857.4,868.9 859.3,865.7 C861.2,862.5 864.1,860.3 865.8,860.7 C867.5,861.1 871.7,864.3 872.3,868.7Z" fill="#000"/>
<path d="M805.8,938.7 L819.8,928.7 L822.8,932.7 L808.8,942.7 Z" fill="#000"/>
<path d="M896.6,893.9 C897.2,898.3 895.9,913.0 894.6,918.9 C893.3,924.8 889.7,933.1 887.1,937.9 C884.5,942.7 878.6,950.8 875.1,954.9 C871.6,959.0 865.4,965.4 861.1,968.9 C856.8,972.4 848.6,977.8 843.1,980.9 C837.6,984.0 825.6,989.4 820.1,991.9 C814.6,994.4 806.2,1000.0 802.1,999.9 C798.0,999.8 788.0,994.1 789.1,990.9 C790.2,987.7 804.1,980.6 810.1,975.9 C816.1,971.2 828.5,960.6 834.1,955.9 C839.7,951.2 847.8,945.0 852.1,940.9 C856.4,936.8 862.9,929.0 866.1,924.9 C869.3,920.8 873.8,914.4 876.1,909.9 C878.4,905.4 881.7,894.1 883.6,890.9 C885.5,887.7 888.4,885.5 890.1,885.9 C891.8,886.3 896.0,889.5 896.6,893.9Z" fill="#000"/>
<path d="M830.1,963.9 L844.1,953.9 L847.1,957.9 L833.1,967.9 Z" fill="#000"/>
<path d="M920.9,919.1 C921.5,923.5 920.2,938.2 918.9,944.1 C917.6,950.0 914.0,958.3 911.4,963.1 C908.8,967.9 902.9,976.0 899.4,980.1 C895.9,984.2 889.7,990.6 885.4,994.1 C881.1,997.6 872.9,1003.0 867.4,1006.1 C861.9,1009.2 849.9,1014.6 844.4,1017.1 C838.9,1019.6 830.5,1025.2 826.4,1025.1 C822.3,1025.0 812.3,1019.3 813.4,1016.1 C814.5,1012.9 828.4,1005.8 834.4,1001.1 C840.4,996.4 852.8,985.8 858.4,981.1 C864.0,976.4 872.1,970.2 876.4,966.1 C880.7,962.0 887.2,954.2 890.4,950.1 C893.6,946.0 898.1,939.6 900.4,935.1 C902.7,930.6 906.0,919.3 907.9,916.1 C909.8,912.9 912.7,910.7 914.4,911.1 C916.1,911.5 920.3,914.7 920.9,919.1Z" fill="#000"/>
<path d="M854.4,989.1 L868.4,979.1 L871.4,983.1 L857.4,993.1 Z" fill="#000"/>
<path d="M945.2,944.3 C945.8,948.7 944.5,963.4 943.2,969.3 C941.9,975.2 938.3,983.5 935.7,988.3 C933.1,993.1 927.2,1001.2 923.7,1005.3 C920.2,1009.4 914.0,1015.8 909.7,1019.3 C905.4,1022.8 897.2,1028.2 891.7,1031.3 C886.2,1034.4 874.2,1039.8 868.7,1042.3 C863.2,1044.8 854.8,1050.4 850.7,1050.3 C846.6,1050.2 836.6,1044.5 837.7,1041.3 C838.8,1038.1 852.7,1031.0 858.7,1026.3 C864.7,1021.6 877.1,1011.0 882.7,1006.3 C888.3,1001.6 896.4,995.4 900.7,991.3 C905.0,987.2 911.5,979.4 914.7,975.3 C917.9,971.2 922.4,964.8 924.7,960.3 C927.0,955.8 930.3,944.5 932.2,941.3 C934.1,938.1 937.0,935.9 938.7,936.3 C940.4,936.7 944.6,939.9 945.2,944.3Z" fill="#000"/>
<path d="M878.7,1014.3 L892.7,1004.3 L895.7,1008.3 L881.7,1018.3 Z" fill="#000"/>
<path d="M969.5,969.5 C970.1,973.9 968.8,988.6 967.5,994.5 C966.2,1000.4 962.6,1008.7 960.0,1013.5 C957.4,1018.3 951.5,1026.4 948.0,1030.5 C944.5,1034.6 938.3,1041.0 934.0,1044.5 C929.7,1048.0 921.5,1053.4 916.0,1056.5 C910.5,1059.6 898.5,1065.0 893.0,1067.5 C887.5,1070.0 879.1,1075.6 875.0,1075.5 C870.9,1075.4 860.9,1069.7 862.0,1066.5 C863.1,1063.3 877.0,1056.2 883.0,1051.5 C889.0,1046.8 901.4,1036.2 907.0,1031.5 C912.6,1026.8 920.7,1020.6 925.0,1016.5 C929.3,1012.4 935.8,1004.6 939.0,1000.5 C942.2,996.4 946.7,990.0 949.0,985.5 C951.3,981.0 954.6,969.7 956.5,966.5 C958.4,963.3 961.3,961.1 963.0,961.5 C964.7,961.9 968.9,965.1 969.5,969.5Z" fill="#000"/>
<path d="M903.0,1039.5 L917.0,1029.5 L920.0,1033.5 L906.0,1043.5 Z" fill="#000"/>
<path d="M993.8,994.7 C994.4,999.1 993.1,1013.8 991.8,1019.7 C990.5,1025.6 986.9,1033.9 984.3,1038.7 C981.7,1043.5 975.8,1051.6 972.3,1055.7 C968.8,1059.8 962.6,1066.2 958.3,1069.7 C954.0,1073.2 945.8,1078.6 940.3,1081.7 C934.8,1084.8 922.8,1090.2 917.3,1092.7 C911.8,1095.2 903.4,1100.8 899.3,1100.7 C895.2,1100.6 885.2,1094.9 886.3,1091.7 C887.4,1088.5 901.3,1081.4 907.3,1076.7 C913.3,1072.0 925.7,1061.4 931.3,1056.7 C936.9,1052.0 945.0,1045.8 949.3,1041.7 C953.6,1037.6 960.1,1029.8 963.3,1025.7 C966.5,1021.6 971.0,1015.2 973.3,1010.7 C975.6,1006.2 978.9,994.9 980.8,991.7 C982.7,988.5 985.6,986.3 987.3,986.7 C989.0,987.1 993.2,990.3 993.8,994.7Z" fill="#000"/>
<path d="M927.3,1064.7 L941.3,1054.7 L944.3,1058.7 L930.3,1068.7 Z" fill="#000"/>
<path d="M813.0,814.0 C812.9,817.5 813.2,828.0 812.4,835.0 C811.6,842.0 810.5,849.7 808.2,856.0 C805.9,862.3 802.3,867.3 798.4,872.8 C794.5,878.3 789.7,884.1 785.0,889.0 C780.3,893.9 772.5,899.8 770.0,902.0" fill="none" stroke="#000" stroke-width="4"/>
<path d="M808.0,810.0 C809.3,809.3 813.0,806.2 816.0,806.0 C819.0,805.8 823.0,807.5 826.0,809.0 C829.0,810.5 831.8,812.5 834.0,815.0 C836.2,817.5 838.0,820.8 839.0,824.0 C840.0,827.2 839.8,832.3 840.0,834.0" fill="none" stroke="#000" stroke-width="5"/>
<path d="M837.5,833.5 C838.5,832.0 841.2,826.4 843.5,824.5 C845.8,822.6 848.8,821.7 851.5,822.0 C854.2,822.3 857.4,824.2 859.5,826.5 C861.6,828.8 863.2,832.3 864.0,835.5 C864.8,838.7 864.8,841.8 864.5,845.5 C864.2,849.2 862.8,855.5 862.5,857.5" fill="none" stroke="#000" stroke-width="5"/>
<path d="M861.8,858.7 C862.8,857.2 865.5,851.6 867.8,849.7 C870.1,847.8 873.1,846.9 875.8,847.2 C878.5,847.5 881.7,849.5 883.8,851.7 C885.9,854.0 887.5,857.5 888.3,860.7 C889.1,863.9 889.0,867.0 888.8,870.7 C888.5,874.4 887.1,880.7 886.8,882.7" fill="none" stroke="#000" stroke-width="5"/>
<path d="M886.1,883.9 C887.1,882.4 889.8,876.8 892.1,874.9 C894.4,873.0 897.4,872.1 900.1,872.4 C902.8,872.7 906.0,874.6 908.1,876.9 C910.2,879.1 911.8,882.7 912.6,885.9 C913.4,889.1 913.4,892.2 913.1,895.9 C912.9,899.6 911.4,905.9 911.1,907.9" fill="none" stroke="#000" stroke-width="5"/>
<path d="M910.4,909.1 C911.4,907.6 914.1,902.0 916.4,900.1 C918.7,898.2 921.7,897.3 924.4,897.6 C927.1,897.9 930.3,899.9 932.4,902.1 C934.5,904.4 936.1,907.9 936.9,911.1 C937.7,914.3 937.6,917.4 937.4,921.1 C937.1,924.8 935.7,931.1 935.4,933.1" fill="none" stroke="#000" stroke-width="5"/>
<path d="M934.7,934.3 C935.7,932.8 938.4,927.2 940.7,925.3 C943.0,923.4 946.0,922.5 948.7,922.8 C951.4,923.1 954.6,925.0 956.7,927.3 C958.8,929.5 960.4,933.1 961.2,936.3 C962.0,939.5 962.0,942.6 961.7,946.3 C961.5,950.0 960.0,956.3 959.7,958.3" fill="none" stroke="#000" stroke-width="5"/>
<path d="M959.0,959.5 C960.0,958.0 962.7,952.4 965.0,950.5 C967.3,948.6 970.3,947.7 973.0,948.0 C975.7,948.3 978.9,950.2 981.0,952.5 C983.1,954.8 984.7,958.3 985.5,961.5 C986.3,964.7 986.2,967.8 986.0,971.5 C985.8,975.2 984.3,981.5 984.0,983.5" fill="none" stroke="#000" stroke-width="5"/>
<path d="M983.3,984.7 C984.3,983.2 987.0,977.6 989.3,975.7 C991.6,973.8 994.6,972.9 997.3,973.2 C1000.0,973.5 1003.2,975.5 1005.3,977.7 C1007.4,980.0 1009.0,983.5 1009.8,986.7 C1010.6,989.9 1010.5,993.0 1010.3,996.7 C1010.0,1000.4 1008.6,1006.7 1008.3,1008.7" fill="none" stroke="#000" stroke-width="5"/>
<path d="M751.5,933.5 C737.5,935.5 735.5,949.5 747.5,955.5 L767.5,957.5" fill="none" stroke="#000" stroke-width="4.5"/>
<path d="M775.8,958.7 C761.8,960.7 759.8,974.7 771.8,980.7 L791.8,982.7" fill="none" stroke="#000" stroke-width="4.5"/>
<path d="M800.1,983.9 C786.1,985.9 784.1,999.9 796.1,1005.9 L816.1,1007.9" fill="none" stroke="#000" stroke-width="4.5"/>
<path d="M824.4,1009.1 C810.4,1011.1 808.4,1025.1 820.4,1031.1 L840.4,1033.1" fill="none" stroke="#000" stroke-width="4.5"/>
<path d="M848.7,1034.3 C834.7,1036.3 832.7,1050.3 844.7,1056.3 L864.7,1058.3" fill="none" stroke="#000" stroke-width="4.5"/>
<path d="M720.0,865.0 C720.8,860.5 721.6,852.7 724.0,848.0 C726.4,843.3 734.3,833.7 738.0,830.0 C741.7,826.3 748.5,822.0 752.0,820.0 C755.5,818.0 762.9,809.7 764.0,815.0 C765.1,820.3 761.6,848.7 760.0,860.0 C758.4,871.3 753.6,892.3 752.0,900.0 C750.4,907.7 750.3,916.1 748.0,918.0 C745.7,919.9 738.2,916.4 735.0,914.0 C731.8,911.6 726.3,904.3 724.0,900.0 C721.7,895.7 718.5,886.7 718.0,882.0 C717.5,877.3 719.2,869.5 720.0,865.0Z" fill="#fff" stroke="#000" stroke-width="4.5"/>
<path d="M721.0,858.0 C722.9,854.2 736.5,852.2 740.0,852.0 C743.5,851.8 754.8,852.0 756.0,856.0 C757.2,860.0 754.1,888.3 752.0,892.0 C749.9,895.7 738.1,893.2 735.0,893.0 C731.9,892.8 722.4,893.5 721.0,890.0 C719.6,886.5 719.1,861.8 721.0,858.0Z" fill="#bcbcbc"/>
<path d="M722,893 C735,894 745,896 752,897" fill="none" stroke="#000" stroke-width="3.5"/>
<path d="M730.0,920.0 C731.6,918.0 741.6,915.9 748.0,915.0 C754.4,914.1 772.4,912.3 778.0,913.0 C783.6,913.7 790.3,917.5 790.0,920.0 C789.7,922.5 781.1,929.9 776.0,932.0 C770.9,934.1 757.3,936.3 752.0,936.0 C746.7,935.7 738.9,932.1 736.0,930.0 C733.1,927.9 728.4,922.0 730.0,920.0Z" fill="#fff" stroke="#000" stroke-width="4"/>
<path d="M784.0,806.0 C786.7,801.5 796.3,805.2 800.0,806.0 C803.7,806.8 810.3,808.8 812.0,812.0 C813.7,815.2 813.3,824.7 813.0,830.0 C812.7,835.3 811.7,846.4 810.0,852.0 C808.3,857.6 803.2,866.9 800.0,872.0 C796.8,877.1 789.7,885.9 786.0,890.0 C782.3,894.1 773.5,905.7 772.0,903.0 C770.5,900.3 773.9,878.4 775.0,870.0 C776.1,861.6 778.8,848.5 780.0,840.0 C781.2,831.5 781.3,810.5 784.0,806.0Z" fill="#fff" stroke="#000" stroke-width="4"/>
<path d="M778.0,855.0 C779.7,852.7 789.2,851.7 792.0,852.0 C794.8,852.3 805.4,855.8 806.0,858.0 C806.6,860.2 800.0,870.9 798.0,874.0 C796.0,877.1 788.5,886.2 786.0,889.0 C783.5,891.8 774.1,903.4 773.0,902.0 C771.9,900.6 774.5,879.7 775.0,875.0 C775.5,870.3 776.3,857.3 778.0,855.0Z" fill="#bcbcbc"/>
<path d="M762.0,812.0 C764.7,808.5 784.1,802.2 786.0,805.0 C787.9,807.8 781.9,833.0 781.0,840.0 C780.1,847.0 777.6,868.5 777.0,875.0 C776.4,881.5 774.6,900.7 775.0,905.0 C775.4,909.3 782.5,916.3 781.0,918.0 C779.5,919.7 762.9,922.6 760.0,922.0 C757.1,921.4 752.4,917.2 752.0,912.0 C751.6,906.8 755.3,877.2 756.0,870.0 C756.7,862.8 758.4,845.8 759.0,840.0 C759.6,834.2 759.3,815.5 762.0,812.0Z" fill="#000"/>
<path d="M733.0,916.0 C731.0,913.3 723.7,906.3 721.0,900.0 C718.3,893.7 716.8,886.0 717.0,878.0 C717.2,870.0 718.5,860.0 722.0,852.0 C725.5,844.0 731.7,836.2 738.0,830.0 C744.3,823.8 751.8,819.3 760.0,815.0 C768.2,810.7 779.8,805.5 787.0,804.0 C794.2,802.5 798.5,804.5 803.0,806.0 C807.5,807.5 812.2,811.8 814.0,813.0" fill="none" stroke="#000" stroke-width="5"/>
<g transform="translate(111,918.6) rotate(56)">
<rect x="-22.5" y="-43.5" width="198.2" height="87.0" fill="#fff"/>
<path d="M-22.5,-41.5 L175.7,-41.5 L175.7,-7 L173.57999999999998,-7 L171.07999999999998,-2.5 L169.57999999999998,-8 L167.57999999999998,-1.5 L165.57999999999998,-7 L163.57999999999998,-3.5 L161.57999999999998,-8 L159.57999999999998,-4 L157.37999999999997,-7 L154.87999999999997,-2.5 L153.37999999999997,-8 L151.37999999999997,-1.5 L149.37999999999997,-7 L147.37999999999997,-3.5 L145.37999999999997,-8 L143.37999999999997,-4 L141.18,-7 L138.68,-2.5 L137.18,-8 L135.18,-1.5 L133.18,-7 L131.18,-3.5 L129.18,-8 L127.18,-4 L124.97999999999999,-7 L122.47999999999999,-2.5 L120.97999999999999,-8 L118.97999999999999,-1.5 L116.97999999999999,-7 L114.97999999999999,-3.5 L112.97999999999999,-8 L110.97999999999999,-4 L108.77999999999999,-7 L106.27999999999999,-2.5 L104.77999999999999,-8 L102.77999999999999,-1.5 L100.77999999999999,-7 L98.77999999999999,-3.5 L96.77999999999999,-8 L94.77999999999999,-4 L92.58,-7 L90.08,-2.5 L88.58,-8 L86.58,-1.5 L84.58,-7 L82.58,-3.5 L80.58,-8 L78.58,-4 L76.38,-7 L73.88,-2.5 L72.38,-8 L70.38,-1.5 L68.38,-7 L66.38,-3.5 L64.38,-8 L62.379999999999995,-4 L60.18,-7 L57.68,-2.5 L56.18,-8 L54.18,-1.5 L52.18,-7 L50.18,-3.5 L48.18,-8 L46.18,-4 L43.98,-7 L41.48,-2.5 L39.98,-8 L37.98,-1.5 L35.98,-7 L33.98,-3.5 L31.979999999999997,-8 L29.979999999999997,-4 L27.78,-7 L25.28,-2.5 L23.78,-8 L21.78,-1.5 L19.78,-7 L17.78,-3.5 L15.780000000000001,-8 L13.780000000000001,-4 L11.580000000000002,-7 L9.080000000000002,-2.5 L7.580000000000002,-8 L5.580000000000002,-1.5 L3.580000000000002,-7 L1.5800000000000018,-3.5 L-0.41999999999999815,-8 L-2.419999999999998,-4 L-22.5,-5 Z" fill="#000"/>
<path d="M-22.5,-4 L-3.419999999999998,-4 L-2.419999999999998,-4 L-0.41999999999999815,-8 L1.5800000000000018,-3.5 L3.580000000000002,-7 L5.580000000000002,-1.5 L7.580000000000002,-8 L9.080000000000002,-2.5 L11.580000000000002,-7 L12.780000000000001,-4 L13.780000000000001,-4 L15.780000000000001,-8 L17.78,-3.5 L19.78,-7 L21.78,-1.5 L23.78,-8 L25.28,-2.5 L27.78,-7 L28.979999999999997,-4 L29.979999999999997,-4 L31.979999999999997,-8 L33.98,-3.5 L35.98,-7 L37.98,-1.5 L39.98,-8 L41.48,-2.5 L43.98,-7 L45.18,-4 L46.18,-4 L48.18,-8 L50.18,-3.5 L52.18,-7 L54.18,-1.5 L56.18,-8 L57.68,-2.5 L60.18,-7 L61.379999999999995,-4 L62.379999999999995,-4 L64.38,-8 L66.38,-3.5 L68.38,-7 L70.38,-1.5 L72.38,-8 L73.88,-2.5 L76.38,-7 L77.58,-4 L78.58,-4 L80.58,-8 L82.58,-3.5 L84.58,-7 L86.58,-1.5 L88.58,-8 L90.08,-2.5 L92.58,-7 L93.77999999999999,-4 L94.77999999999999,-4 L96.77999999999999,-8 L98.77999999999999,-3.5 L100.77999999999999,-7 L102.77999999999999,-1.5 L104.77999999999999,-8 L106.27999999999999,-2.5 L108.77999999999999,-7 L109.97999999999999,-4 L110.97999999999999,-4 L112.97999999999999,-8 L114.97999999999999,-3.5 L116.97999999999999,-7 L118.97999999999999,-1.5 L120.97999999999999,-8 L122.47999999999999,-2.5 L124.97999999999999,-7 L126.18,-4 L127.18,-4 L129.18,-8 L131.18,-3.5 L133.18,-7 L135.18,-1.5 L137.18,-8 L138.68,-2.5 L141.18,-7 L142.37999999999997,-4 L143.37999999999997,-4 L145.37999999999997,-8 L147.37999999999997,-3.5 L149.37999999999997,-7 L151.37999999999997,-1.5 L153.37999999999997,-8 L154.87999999999997,-2.5 L157.37999999999997,-7 L158.57999999999998,-4 L159.57999999999998,-4 L161.57999999999998,-8 L163.57999999999998,-3.5 L165.57999999999998,-7 L167.57999999999998,-1.5 L169.57999999999998,-8 L171.07999999999998,-2.5 L173.57999999999998,-7 L175.7,-7 L175.7,17 L-22.5,17 Z" fill="#bcbcbc"/>
<path d="M158.9,-41.8 C160.5,-39.6 166.3,-32.8 168.5,-28.7 C170.7,-24.7 171.3,-22.2 172.3,-17.4 C173.4,-12.6 174.5,-4.9 174.9,0.0 C175.3,4.9 175.0,7.8 174.6,12.2 C174.2,16.5 173.5,22.3 172.5,26.1 C171.5,29.9 170.2,32.3 168.5,34.8 C166.8,37.3 163.9,39.5 162.4,40.9 C161.0,42.3 160.2,42.7 159.7,43.1 L195.7,44.5 L195.7,-44.5 L157.7,-44.5 Z" fill="#fff"/>
<path d="M-5.4,-39.8 C-4.2,-37.9 -0.1,-32.4 1.7,-28.7 C3.6,-25.0 4.9,-21.4 5.6,-17.4 C6.3,-13.4 5.8,-7.1 5.9,-5.0" fill="none" stroke="#fff" stroke-width="3.24"/>
<path d="M-9.4,-39.8 C-8.2,-37.9 -4.1,-32.4 -2.3,-28.7 C-0.5,-25.0 0.8,-21.4 1.5,-17.4 C2.2,-13.4 1.8,-7.1 1.8,-5.0" fill="none" stroke="#fff" stroke-width="2.75"/>
<path d="M10.8,-39.8 C12.0,-37.9 16.1,-32.4 17.9,-28.7 C19.8,-25.0 21.1,-21.4 21.8,-17.4 C22.5,-13.4 22.0,-7.1 22.1,-5.0" fill="none" stroke="#fff" stroke-width="3.24"/>
<path d="M6.8,-39.8 C8.0,-37.9 12.1,-32.4 13.9,-28.7 C15.7,-25.0 17.0,-21.4 17.7,-17.4 C18.4,-13.4 18.0,-7.1 18.0,-5.0" fill="none" stroke="#fff" stroke-width="2.75"/>
<path d="M27.0,-39.8 C28.2,-37.9 32.3,-32.4 34.1,-28.7 C36.0,-25.0 37.3,-21.4 38.0,-17.4 C38.7,-13.4 38.2,-7.1 38.3,-5.0" fill="none" stroke="#fff" stroke-width="3.24"/>
<path d="M23.0,-39.8 C24.2,-37.9 28.3,-32.4 30.1,-28.7 C31.9,-25.0 33.2,-21.4 33.9,-17.4 C34.6,-13.4 34.2,-7.1 34.2,-5.0" fill="none" stroke="#fff" stroke-width="2.75"/>
<path d="M43.2,-39.8 C44.4,-37.9 48.5,-32.4 50.3,-28.7 C52.2,-25.0 53.5,-21.4 54.2,-17.4 C54.9,-13.4 54.4,-7.1 54.5,-5.0" fill="none" stroke="#fff" stroke-width="3.24"/>
<path d="M39.2,-39.8 C40.4,-37.9 44.5,-32.4 46.3,-28.7 C48.1,-25.0 49.4,-21.4 50.1,-17.4 C50.8,-13.4 50.4,-7.1 50.4,-5.0" fill="none" stroke="#fff" stroke-width="2.75"/>
<path d="M59.4,-39.8 C60.6,-37.9 64.7,-32.4 66.5,-28.7 C68.4,-25.0 69.7,-21.4 70.4,-17.4 C71.1,-13.4 70.6,-7.1 70.7,-5.0" fill="none" stroke="#fff" stroke-width="3.24"/>
<path d="M55.4,-39.8 C56.6,-37.9 60.7,-32.4 62.5,-28.7 C64.3,-25.0 65.6,-21.4 66.3,-17.4 C67.0,-13.4 66.6,-7.1 66.6,-5.0" fill="none" stroke="#fff" stroke-width="2.75"/>
<path d="M75.6,-39.8 C76.8,-37.9 80.9,-32.4 82.7,-28.7 C84.6,-25.0 85.9,-21.4 86.6,-17.4 C87.3,-13.4 86.8,-7.1 86.9,-5.0" fill="none" stroke="#fff" stroke-width="3.24"/>
<path d="M71.6,-39.8 C72.8,-37.9 76.9,-32.4 78.7,-28.7 C80.5,-25.0 81.8,-21.4 82.5,-17.4 C83.2,-13.4 82.8,-7.1 82.8,-5.0" fill="none" stroke="#fff" stroke-width="2.75"/>
<path d="M91.8,-39.8 C93.0,-37.9 97.1,-32.4 98.9,-28.7 C100.8,-25.0 102.1,-21.4 102.8,-17.4 C103.5,-13.4 103.0,-7.1 103.1,-5.0" fill="none" stroke="#fff" stroke-width="3.24"/>
<path d="M87.8,-39.8 C89.0,-37.9 93.1,-32.4 94.9,-28.7 C96.7,-25.0 98.0,-21.4 98.7,-17.4 C99.4,-13.4 99.0,-7.1 99.0,-5.0" fill="none" stroke="#fff" stroke-width="2.75"/>
<path d="M108.0,-39.8 C109.2,-37.9 113.3,-32.4 115.1,-28.7 C117.0,-25.0 118.3,-21.4 119.0,-17.4 C119.7,-13.4 119.2,-7.1 119.3,-5.0" fill="none" stroke="#fff" stroke-width="3.24"/>
<path d="M104.0,-39.8 C105.2,-37.9 109.3,-32.4 111.1,-28.7 C112.9,-25.0 114.2,-21.4 114.9,-17.4 C115.6,-13.4 115.2,-7.1 115.2,-5.0" fill="none" stroke="#fff" stroke-width="2.75"/>
<path d="M124.2,-39.8 C125.4,-37.9 129.5,-32.4 131.3,-28.7 C133.2,-25.0 134.5,-21.4 135.2,-17.4 C135.9,-13.4 135.4,-7.1 135.5,-5.0" fill="none" stroke="#fff" stroke-width="3.24"/>
<path d="M120.2,-39.8 C121.4,-37.9 125.5,-32.4 127.3,-28.7 C129.1,-25.0 130.4,-21.4 131.1,-17.4 C131.8,-13.4 131.4,-7.1 131.4,-5.0" fill="none" stroke="#fff" stroke-width="2.75"/>
<path d="M140.4,-39.8 C141.6,-37.9 145.7,-32.4 147.5,-28.7 C149.4,-25.0 150.7,-21.4 151.4,-17.4 C152.1,-13.4 151.6,-7.1 151.7,-5.0" fill="none" stroke="#fff" stroke-width="3.24"/>
<path d="M136.4,-39.8 C137.6,-37.9 141.7,-32.4 143.5,-28.7 C145.3,-25.0 146.6,-21.4 147.3,-17.4 C148.0,-13.4 147.6,-7.1 147.6,-5.0" fill="none" stroke="#fff" stroke-width="2.75"/>
<path d="M-2.3000000000000007,-38.5 C0.6999999999999993,-41.3 5.899999999999999,-41.3 7.8,-37.5 C8.8,-35.5 9.8,-32.5 10.8,-29.5" fill="none" stroke="#fff" stroke-width="3.64"/>
<path d="M13.899999999999999,-38.5 C16.9,-41.3 22.099999999999998,-41.3 24.0,-37.5 C25.0,-35.5 26.0,-32.5 27.0,-29.5" fill="none" stroke="#fff" stroke-width="3.64"/>
<path d="M30.099999999999998,-38.5 C33.099999999999994,-41.3 38.3,-41.3 40.2,-37.5 C41.2,-35.5 42.2,-32.5 43.2,-29.5" fill="none" stroke="#fff" stroke-width="3.64"/>
<path d="M46.3,-38.5 C49.3,-41.3 54.5,-41.3 56.4,-37.5 C57.4,-35.5 58.4,-32.5 59.4,-29.5" fill="none" stroke="#fff" stroke-width="3.64"/>
<path d="M62.5,-38.5 C65.5,-41.3 70.7,-41.3 72.6,-37.5 C73.6,-35.5 74.6,-32.5 75.6,-29.5" fill="none" stroke="#fff" stroke-width="3.64"/>
<path d="M78.69999999999999,-38.5 C81.69999999999999,-41.3 86.89999999999999,-41.3 88.8,-37.5 C89.8,-35.5 90.8,-32.5 91.8,-29.5" fill="none" stroke="#fff" stroke-width="3.64"/>
<path d="M94.89999999999999,-38.5 C97.89999999999999,-41.3 103.1,-41.3 105.0,-37.5 C106.0,-35.5 107.0,-32.5 108.0,-29.5" fill="none" stroke="#fff" stroke-width="3.64"/>
<path d="M111.1,-38.5 C114.1,-41.3 119.3,-41.3 121.2,-37.5 C122.2,-35.5 123.2,-32.5 124.2,-29.5" fill="none" stroke="#fff" stroke-width="3.64"/>
<path d="M127.29999999999997,-38.5 C130.29999999999995,-41.3 135.49999999999997,-41.3 137.4,-37.5 C138.4,-35.5 139.4,-32.5 140.4,-29.5" fill="none" stroke="#fff" stroke-width="3.64"/>
<path d="M143.5,-38.5 C146.5,-41.3 151.7,-41.3 153.6,-37.5 C154.6,-35.5 155.6,-32.5 156.6,-29.5" fill="none" stroke="#fff" stroke-width="3.64"/>
<path d="M-4.3,-41.8 C-2.7,-39.6 3.1,-32.8 5.3,-28.7 C7.5,-24.7 8.1,-22.2 9.1,-17.4 C10.2,-12.6 11.3,-4.9 11.7,0.0 C12.1,4.9 11.8,7.8 11.4,12.2 C11.0,16.5 10.3,22.3 9.3,26.1 C8.3,29.9 7.0,32.3 5.3,34.8 C3.6,37.3 0.7,39.5 -0.8,40.9 C-2.2,42.3 -3.0,42.7 -3.5,43.1" fill="none" stroke="#000" stroke-width="2.4"/>
<path d="M-3.6999999999999997,41.5 L0.30000000000000027,34.5 L2.3000000000000003,38.5 L5.300000000000001,35.5 L6.300000000000001,41.5 Z" fill="#000"/>
<path d="M11.9,-41.8 C13.5,-39.6 19.3,-32.8 21.5,-28.7 C23.7,-24.7 24.3,-22.2 25.3,-17.4 C26.4,-12.6 27.5,-4.9 27.9,0.0 C28.3,4.9 28.0,7.8 27.6,12.2 C27.2,16.5 26.5,22.3 25.5,26.1 C24.5,29.9 23.2,32.3 21.5,34.8 C19.8,37.3 16.9,39.5 15.4,40.9 C14.0,42.3 13.2,42.7 12.7,43.1" fill="none" stroke="#000" stroke-width="2.4"/>
<path d="M12.499999999999998,41.5 L16.5,34.5 L18.5,38.5 L21.5,35.5 L22.5,41.5 Z" fill="#000"/>
<path d="M28.1,-41.8 C29.7,-39.6 35.5,-32.8 37.7,-28.7 C39.9,-24.7 40.5,-22.2 41.5,-17.4 C42.6,-12.6 43.7,-4.9 44.1,0.0 C44.5,4.9 44.2,7.8 43.8,12.2 C43.4,16.5 42.7,22.3 41.7,26.1 C40.7,29.9 39.4,32.3 37.7,34.8 C36.0,37.3 33.1,39.5 31.6,40.9 C30.2,42.3 29.4,42.7 28.9,43.1" fill="none" stroke="#000" stroke-width="2.4"/>
<path d="M28.7,41.5 L32.7,34.5 L34.7,38.5 L37.7,35.5 L38.7,41.5 Z" fill="#000"/>
<path d="M44.3,-41.8 C45.9,-39.6 51.7,-32.8 53.9,-28.7 C56.1,-24.7 56.7,-22.2 57.7,-17.4 C58.8,-12.6 59.9,-4.9 60.3,0.0 C60.7,4.9 60.4,7.8 60.0,12.2 C59.6,16.5 58.9,22.3 57.9,26.1 C56.9,29.9 55.6,32.3 53.9,34.8 C52.2,37.3 49.3,39.5 47.8,40.9 C46.4,42.3 45.6,42.7 45.1,43.1" fill="none" stroke="#000" stroke-width="2.4"/>
<path d="M44.9,41.5 L48.9,34.5 L50.9,38.5 L53.9,35.5 L54.9,41.5 Z" fill="#000"/>
<path d="M60.5,-41.8 C62.1,-39.6 67.9,-32.8 70.1,-28.7 C72.3,-24.7 72.9,-22.2 73.9,-17.4 C75.0,-12.6 76.1,-4.9 76.5,0.0 C76.9,4.9 76.6,7.8 76.2,12.2 C75.8,16.5 75.1,22.3 74.1,26.1 C73.1,29.9 71.8,32.3 70.1,34.8 C68.4,37.3 65.5,39.5 64.0,40.9 C62.6,42.3 61.8,42.7 61.3,43.1" fill="none" stroke="#000" stroke-width="2.4"/>
<path d="M61.1,41.5 L65.1,34.5 L67.1,38.5 L70.1,35.5 L71.1,41.5 Z" fill="#000"/>
<path d="M76.7,-41.8 C78.3,-39.6 84.1,-32.8 86.3,-28.7 C88.5,-24.7 89.1,-22.2 90.1,-17.4 C91.2,-12.6 92.3,-4.9 92.7,0.0 C93.1,4.9 92.8,7.8 92.4,12.2 C92.0,16.5 91.3,22.3 90.3,26.1 C89.3,29.9 88.0,32.3 86.3,34.8 C84.6,37.3 81.7,39.5 80.2,40.9 C78.8,42.3 78.0,42.7 77.5,43.1" fill="none" stroke="#000" stroke-width="2.4"/>
<path d="M77.3,41.5 L81.3,34.5 L83.3,38.5 L86.3,35.5 L87.3,41.5 Z" fill="#000"/>
<path d="M92.9,-41.8 C94.5,-39.6 100.3,-32.8 102.5,-28.7 C104.7,-24.7 105.3,-22.2 106.3,-17.4 C107.4,-12.6 108.5,-4.9 108.9,0.0 C109.3,4.9 109.0,7.8 108.6,12.2 C108.2,16.5 107.5,22.3 106.5,26.1 C105.5,29.9 104.2,32.3 102.5,34.8 C100.8,37.3 97.9,39.5 96.4,40.9 C95.0,42.3 94.2,42.7 93.7,43.1" fill="none" stroke="#000" stroke-width="2.4"/>
<path d="M93.49999999999999,41.5 L97.49999999999999,34.5 L99.49999999999999,38.5 L102.49999999999999,35.5 L103.49999999999999,41.5 Z" fill="#000"/>
<path d="M109.1,-41.8 C110.7,-39.6 116.5,-32.8 118.7,-28.7 C120.9,-24.7 121.5,-22.2 122.5,-17.4 C123.6,-12.6 124.7,-4.9 125.1,0.0 C125.5,4.9 125.2,7.8 124.8,12.2 C124.4,16.5 123.7,22.3 122.7,26.1 C121.7,29.9 120.4,32.3 118.7,34.8 C117.0,37.3 114.1,39.5 112.6,40.9 C111.2,42.3 110.4,42.7 109.9,43.1" fill="none" stroke="#000" stroke-width="2.4"/>
<path d="M109.69999999999999,41.5 L113.69999999999999,34.5 L115.69999999999999,38.5 L118.69999999999999,35.5 L119.69999999999999,41.5 Z" fill="#000"/>
<path d="M125.3,-41.8 C126.9,-39.6 132.7,-32.8 134.9,-28.7 C137.1,-24.7 137.7,-22.2 138.7,-17.4 C139.8,-12.6 140.9,-4.9 141.3,0.0 C141.7,4.9 141.4,7.8 141.0,12.2 C140.6,16.5 139.9,22.3 138.9,26.1 C137.9,29.9 136.6,32.3 134.9,34.8 C133.2,37.3 130.3,39.5 128.8,40.9 C127.4,42.3 126.6,42.7 126.1,43.1" fill="none" stroke="#000" stroke-width="2.4"/>
<path d="M125.89999999999999,41.5 L129.89999999999998,34.5 L131.89999999999998,38.5 L134.89999999999998,35.5 L135.89999999999998,41.5 Z" fill="#000"/>
<path d="M141.5,-41.8 C143.1,-39.6 148.9,-32.8 151.1,-28.7 C153.3,-24.7 153.9,-22.2 154.9,-17.4 C156.0,-12.6 157.1,-4.9 157.5,0.0 C157.9,4.9 157.6,7.8 157.2,12.2 C156.8,16.5 156.1,22.3 155.1,26.1 C154.1,29.9 152.8,32.3 151.1,34.8 C149.4,37.3 146.5,39.5 145.0,40.9 C143.6,42.3 142.8,42.7 142.3,43.1" fill="none" stroke="#000" stroke-width="2.4"/>
<path d="M142.09999999999997,41.5 L146.09999999999997,34.5 L148.09999999999997,38.5 L151.09999999999997,35.5 L152.09999999999997,41.5 Z" fill="#000"/>
<path d="M157.7,-41.8 C159.3,-39.6 165.1,-32.8 167.3,-28.7 C169.5,-24.7 170.1,-22.2 171.1,-17.4 C172.2,-12.6 173.3,-4.9 173.7,0.0 C174.1,4.9 173.8,7.8 173.4,12.2 C173.0,16.5 172.3,22.3 171.3,26.1 C170.3,29.9 169.0,32.3 167.3,34.8 C165.6,37.3 162.7,39.5 161.2,40.9 C159.8,42.3 159.0,42.7 158.5,43.1" fill="none" stroke="#000" stroke-width="3"/>
<path d="M158.29999999999998,41.5 L162.29999999999998,34.5 L164.29999999999998,38.5 L167.29999999999998,35.5 L168.29999999999998,41.5 Z" fill="#000"/>
<path d="M-3.8000000000000007,-41.0 C-0.3000000000000007,-44.5 7.899999999999999,-44.5 12.399999999999999,-41.0" fill="none" stroke="#000" stroke-width="2.4"/>
<path d="M-3.3000000000000007,-40.0 C0.6999999999999993,-42.5 6.899999999999999,-42.5 10.899999999999999,-39.5" fill="none" stroke="#fff" stroke-width="1.2"/>
<path d="M-3.0,42.0 C0.5,45.5 8.7,45.5 13.2,42.0" fill="none" stroke="#000" stroke-width="2.4"/>
<path d="M12.399999999999999,-41.0 C15.899999999999999,-44.5 24.099999999999998,-44.5 28.599999999999998,-41.0" fill="none" stroke="#000" stroke-width="2.4"/>
<path d="M12.899999999999999,-40.0 C16.9,-42.5 23.099999999999998,-42.5 27.099999999999998,-39.5" fill="none" stroke="#fff" stroke-width="1.2"/>
<path d="M13.2,42.0 C16.7,45.5 24.9,45.5 29.4,42.0" fill="none" stroke="#000" stroke-width="2.4"/>
<path d="M28.599999999999998,-41.0 C32.099999999999994,-44.5 40.3,-44.5 44.8,-41.0" fill="none" stroke="#000" stroke-width="2.4"/>
<path d="M29.099999999999998,-40.0 C33.099999999999994,-42.5 39.3,-42.5 43.3,-39.5" fill="none" stroke="#fff" stroke-width="1.2"/>
<path d="M29.399999999999995,42.0 C32.89999999999999,45.5 41.099999999999994,45.5 45.599999999999994,42.0" fill="none" stroke="#000" stroke-width="2.4"/>
<path d="M44.8,-41.0 C48.3,-44.5 56.5,-44.5 61.0,-41.0" fill="none" stroke="#000" stroke-width="2.4"/>
<path d="M45.3,-40.0 C49.3,-42.5 55.5,-42.5 59.5,-39.5" fill="none" stroke="#fff" stroke-width="1.2"/>
<path d="M45.599999999999994,42.0 C49.099999999999994,45.5 57.3,45.5 61.8,42.0" fill="none" stroke="#000" stroke-width="2.4"/>
<path d="M61.0,-41.0 C64.5,-44.5 72.7,-44.5 77.2,-41.0" fill="none" stroke="#000" stroke-width="2.4"/>
<path d="M61.5,-40.0 C65.5,-42.5 71.7,-42.5 75.7,-39.5" fill="none" stroke="#fff" stroke-width="1.2"/>
<path d="M61.8,42.0 C65.3,45.5 73.5,45.5 78.0,42.0" fill="none" stroke="#000" stroke-width="2.4"/>
<path d="M77.19999999999999,-41.0 C80.69999999999999,-44.5 88.89999999999999,-44.5 93.39999999999999,-41.0" fill="none" stroke="#000" stroke-width="2.4"/>
<path d="M77.69999999999999,-40.0 C81.69999999999999,-42.5 87.89999999999999,-42.5 91.89999999999999,-39.5" fill="none" stroke="#fff" stroke-width="1.2"/>
<path d="M77.99999999999999,42.0 C81.49999999999999,45.5 89.69999999999999,45.5 94.19999999999999,42.0" fill="none" stroke="#000" stroke-width="2.4"/>
<path d="M93.39999999999999,-41.0 C96.89999999999999,-44.5 105.1,-44.5 109.6,-41.0" fill="none" stroke="#000" stroke-width="2.4"/>
<path d="M93.89999999999999,-40.0 C97.89999999999999,-42.5 104.1,-42.5 108.1,-39.5" fill="none" stroke="#fff" stroke-width="1.2"/>
<path d="M94.19999999999999,42.0 C97.69999999999999,45.5 105.89999999999999,45.5 110.39999999999999,42.0" fill="none" stroke="#000" stroke-width="2.4"/>
<path d="M109.6,-41.0 C113.1,-44.5 121.3,-44.5 125.8,-41.0" fill="none" stroke="#000" stroke-width="2.4"/>
<path d="M110.1,-40.0 C114.1,-42.5 120.3,-42.5 124.3,-39.5" fill="none" stroke="#fff" stroke-width="1.2"/>
<path d="M110.39999999999999,42.0 C113.89999999999999,45.5 122.1,45.5 126.6,42.0" fill="none" stroke="#000" stroke-width="2.4"/>
<path d="M125.79999999999997,-41.0 C129.29999999999995,-44.5 137.49999999999997,-44.5 141.99999999999997,-41.0" fill="none" stroke="#000" stroke-width="2.4"/>
<path d="M126.29999999999997,-40.0 C130.29999999999995,-42.5 136.49999999999997,-42.5 140.49999999999997,-39.5" fill="none" stroke="#fff" stroke-width="1.2"/>
<path d="M126.59999999999998,42.0 C130.09999999999997,45.5 138.29999999999998,45.5 142.79999999999998,42.0" fill="none" stroke="#000" stroke-width="2.4"/>
<path d="M142.0,-41.0 C145.5,-44.5 153.7,-44.5 158.2,-41.0" fill="none" stroke="#000" stroke-width="2.4"/>
<path d="M142.5,-40.0 C146.5,-42.5 152.7,-42.5 156.7,-39.5" fill="none" stroke="#fff" stroke-width="1.2"/>
<path d="M142.8,42.0 C146.3,45.5 154.5,45.5 159.0,42.0" fill="none" stroke="#000" stroke-width="2.4"/>
</g>
<path d="M3.1,881.2 C4.1,875.3 7.7,864.4 12.3,856.5 C16.9,848.7 23.2,841.2 30.8,834.0 C38.3,826.8 47.9,818.4 57.4,813.5 C67.0,808.5 78.6,804.9 88.2,804.2 C97.8,803.5 107.7,805.8 114.9,809.4 C122.1,812.9 126.5,819.3 131.3,825.8 C136.1,832.3 140.7,841.5 143.6,848.3 C146.5,855.2 148.0,860.0 148.7,866.8 C149.4,873.6 148.5,884.2 147.7,889.4 C146.8,894.5 147.7,890.7 143.6,897.6 C139.5,904.4 130.6,923.0 123.1,930.4 C115.6,937.7 106.0,939.5 98.5,941.7 C90.9,943.8 84.1,943.1 77.9,943.1 C71.8,943.1 67.7,943.1 61.5,941.7 C55.4,940.2 47.9,939.1 41.0,934.5 C34.2,929.9 26.3,921.2 20.5,914.0 C14.7,906.8 9.1,896.9 6.2,891.4 C3.2,885.9 2.1,887.0 3.1,881.2Z" fill="#000" stroke="#000" stroke-width="3"/>
<path d="M49.8,912.9 C56.2,909.7 83.0,904.6 90.3,908.8 C97.5,913.1 98.1,933.2 93.3,938.6 C88.5,944.0 68.4,942.8 61.5,941.1 C54.7,939.3 54.3,933.0 52.3,928.3 C50.4,923.6 43.5,916.2 49.8,912.9Z" fill="#bcbcbc"/>
<path d="M22.6,911.9 C22.6,909.4 28.2,910.6 30.8,912.9 C33.3,915.3 37.9,923.7 37.9,926.3 C37.9,928.8 33.3,930.7 30.8,928.3 C28.2,925.9 22.6,914.5 22.6,911.9Z" fill="#bcbcbc"/>
<path d="M136,862 C141,872 142,888 138,898" fill="none" stroke="#fff" stroke-width="3"/>
<path d="M30,932 C55,944 95,944 125,928" fill="none" stroke="#fff" stroke-width="2"/>
<path d="M3.1,881.2 C4.1,875.3 7.7,864.4 12.3,856.5 C16.9,848.7 23.2,841.2 30.8,834.0 C38.3,826.8 47.9,818.4 57.4,813.5 C67.0,808.5 78.6,804.9 88.2,804.2 C97.8,803.5 108.4,806.5 114.9,809.4 C121.4,812.3 124.4,815.5 127.2,821.7 C129.9,827.8 131.3,839.1 131.3,846.3 C131.3,853.5 129.9,858.2 127.2,864.7 C124.4,871.2 120.7,879.1 114.9,885.3 C109.1,891.4 100.2,897.6 92.3,901.7 C84.4,905.8 76.2,908.5 67.7,909.9 C59.1,911.2 49.2,911.2 41.0,909.9 C32.8,908.5 24.3,904.7 18.5,901.7 C12.6,898.6 8.7,894.8 6.2,891.4 C3.6,888.0 2.1,887.0 3.1,881.2Z" fill="#fff" stroke="#000" stroke-width="3"/>
<path d="M36.1,868.1 L37.0,866.4 L37.0,865.0 L35.9,863.8 L33.9,862.6 L31.4,861.1 L29.2,859.1 L27.7,856.7 L27.5,853.9 L28.8,851.2 L31.5,848.7 L35.3,846.7 L39.6,845.3 L43.9,844.6 L47.9,844.3 L51.2,844.1 L53.7,843.7 L55.6,842.7 L57.3,841.3 L58.8,839.0 L60.4,835.9 L62.3,832.1 L64.8,828.0 L67.8,824.1 L71.0,821.0 L74.2,819.3 L77.0,819.0 L79.2,820.2 L80.5,822.7 L81.1,825.8 L81.3,829.1 L81.3,831.8 L81.7,833.6 L82.6,834.3 L84.3,834.3 L86.9,833.2 L90.5,831.3 L94.9,829.0 L99.6,826.9 L104.1,825.4 L107.5,825.1 L109.4,826.1 L109.5,828.3 L107.9,831.6 L105.0,835.4 L101.2,839.2 L97.3,842.8 L94.1,845.7 L91.9,847.9 L91.0,849.6 L91.0,851.0 L92.1,852.2 L94.1,853.4 L96.6,854.9 L98.8,856.9 L100.3,859.3 L100.5,862.1 L99.2,864.8 L96.5,867.3 L92.7,869.3 L88.4,870.7 L84.1,871.4 L80.1,871.7 L76.8,871.9 L74.3,872.3 L72.4,873.3 L70.7,874.7 L69.2,877.0 L67.6,880.1 L65.7,883.9 L63.2,888.0 L60.2,891.9 L57.0,895.0 L53.8,896.7 L51.0,897.0 L48.8,895.8 L47.5,893.3 L46.9,890.2 L46.7,886.9 L46.7,884.2 L46.3,882.4 L45.4,881.7 L43.7,881.7 L41.1,882.8 L37.5,884.7 L33.1,887.0 L28.4,889.1 L23.9,890.6 L20.5,890.9 L18.6,889.9 L18.5,887.7 L20.1,884.4 L23.0,880.6 L26.8,876.8 L30.7,873.2 L33.9,870.3Z" fill="#000" stroke="#000" stroke-width="3" stroke-linejoin="round"/>
<path d="M64.0,858.0 L24.8,890.8 L26.5,880.7 Z" fill="#bcbcbc"/>
<path d="M64.0,858.0 L27.5,857.6 L39.3,848.5 Z" fill="#bcbcbc"/>
<path d="M64.0,858.0 L66.7,824.9 L76.7,825.8 Z" fill="#bcbcbc"/>
<g transform="translate(268.8,919) rotate(53)">
<rect x="-21.5" y="-42.0" width="185.0" height="84.0" fill="#fff"/>
<path d="M-21.5,-40.0 L163.5,-40.0 L163.5,-7 L161.38,-7 L158.88,-2.5 L157.38,-8 L155.38,-1.5 L153.38,-7 L151.38,-3.5 L149.38,-8 L147.38,-4 L144.88,-7 L142.38,-2.5 L140.88,-8 L138.88,-1.5 L136.88,-7 L134.88,-3.5 L132.88,-8 L130.88,-4 L128.38,-7 L125.88,-2.5 L124.38,-8 L122.38,-1.5 L120.38,-7 L118.38,-3.5 L116.38,-8 L114.38,-4 L111.88,-7 L109.38,-2.5 L107.88,-8 L105.88,-1.5 L103.88,-7 L101.88,-3.5 L99.88,-8 L97.88,-4 L95.38,-7 L92.88,-2.5 L91.38,-8 L89.38,-1.5 L87.38,-7 L85.38,-3.5 L83.38,-8 L81.38,-4 L78.88,-7 L76.38,-2.5 L74.88,-8 L72.88,-1.5 L70.88,-7 L68.88,-3.5 L66.88,-8 L64.88,-4 L62.38,-7 L59.88,-2.5 L58.38,-8 L56.38,-1.5 L54.38,-7 L52.38,-3.5 L50.38,-8 L48.38,-4 L45.88,-7 L43.38,-2.5 L41.88,-8 L39.88,-1.5 L37.88,-7 L35.88,-3.5 L33.88,-8 L31.880000000000003,-4 L29.380000000000003,-7 L26.880000000000003,-2.5 L25.380000000000003,-8 L23.380000000000003,-1.5 L21.380000000000003,-7 L19.380000000000003,-3.5 L17.380000000000003,-8 L15.380000000000003,-4 L12.88,-7 L10.38,-2.5 L8.88,-8 L6.880000000000001,-1.5 L4.880000000000001,-7 L2.880000000000001,-3.5 L0.8800000000000008,-8 L-1.1199999999999992,-4 L-21.5,-5 Z" fill="#000"/>
<path d="M-21.5,-4 L-2.119999999999999,-4 L-1.1199999999999992,-4 L0.8800000000000008,-8 L2.880000000000001,-3.5 L4.880000000000001,-7 L6.880000000000001,-1.5 L8.88,-8 L10.38,-2.5 L12.88,-7 L14.380000000000003,-4 L15.380000000000003,-4 L17.380000000000003,-8 L19.380000000000003,-3.5 L21.380000000000003,-7 L23.380000000000003,-1.5 L25.380000000000003,-8 L26.880000000000003,-2.5 L29.380000000000003,-7 L30.880000000000003,-4 L31.880000000000003,-4 L33.88,-8 L35.88,-3.5 L37.88,-7 L39.88,-1.5 L41.88,-8 L43.38,-2.5 L45.88,-7 L47.38,-4 L48.38,-4 L50.38,-8 L52.38,-3.5 L54.38,-7 L56.38,-1.5 L58.38,-8 L59.88,-2.5 L62.38,-7 L63.879999999999995,-4 L64.88,-4 L66.88,-8 L68.88,-3.5 L70.88,-7 L72.88,-1.5 L74.88,-8 L76.38,-2.5 L78.88,-7 L80.38,-4 L81.38,-4 L83.38,-8 L85.38,-3.5 L87.38,-7 L89.38,-1.5 L91.38,-8 L92.88,-2.5 L95.38,-7 L96.88,-4 L97.88,-4 L99.88,-8 L101.88,-3.5 L103.88,-7 L105.88,-1.5 L107.88,-8 L109.38,-2.5 L111.88,-7 L113.38,-4 L114.38,-4 L116.38,-8 L118.38,-3.5 L120.38,-7 L122.38,-1.5 L124.38,-8 L125.88,-2.5 L128.38,-7 L129.88,-4 L130.88,-4 L132.88,-8 L134.88,-3.5 L136.88,-7 L138.88,-1.5 L140.88,-8 L142.38,-2.5 L144.88,-7 L146.38,-4 L147.38,-4 L149.38,-8 L151.38,-3.5 L153.38,-7 L155.38,-1.5 L157.38,-8 L158.88,-2.5 L161.38,-7 L163.5,-7 L163.5,17 L-21.5,17 Z" fill="#bcbcbc"/>
<path d="M146.7,-40.3 C148.3,-38.2 154.1,-31.6 156.3,-27.7 C158.5,-23.8 159.1,-21.4 160.1,-16.8 C161.2,-12.2 162.3,-4.8 162.7,0.0 C163.1,4.8 162.8,7.6 162.4,11.8 C162.0,16.0 161.3,21.6 160.3,25.2 C159.3,28.8 158.0,31.2 156.3,33.6 C154.6,36.0 151.7,38.2 150.2,39.5 C148.8,40.8 148.0,41.2 147.5,41.6 L183.5,43.0 L183.5,-43.0 L145.5,-43.0 Z" fill="#fff"/>
<path d="M-4.1,-38.3 C-2.9,-36.6 1.1,-31.3 3.0,-27.7 C4.8,-24.1 6.1,-20.6 6.8,-16.8 C7.5,-13.0 7.1,-7.0 7.1,-5.0" fill="none" stroke="#fff" stroke-width="3.30"/>
<path d="M-8.3,-38.3 C-7.1,-36.6 -3.0,-31.3 -1.2,-27.7 C0.7,-24.1 2.0,-20.6 2.7,-16.8 C3.4,-13.0 2.9,-7.0 3.0,-5.0" fill="none" stroke="#fff" stroke-width="2.81"/>
<path d="M12.4,-38.3 C13.6,-36.6 17.6,-31.3 19.5,-27.7 C21.3,-24.1 22.6,-20.6 23.3,-16.8 C24.0,-13.0 23.6,-7.0 23.6,-5.0" fill="none" stroke="#fff" stroke-width="3.30"/>
<path d="M8.2,-38.3 C9.4,-36.6 13.5,-31.3 15.3,-27.7 C17.2,-24.1 18.5,-20.6 19.2,-16.8 C19.9,-13.0 19.4,-7.0 19.5,-5.0" fill="none" stroke="#fff" stroke-width="2.81"/>
<path d="M28.9,-38.3 C30.1,-36.6 34.1,-31.3 36.0,-27.7 C37.8,-24.1 39.1,-20.6 39.8,-16.8 C40.5,-13.0 40.1,-7.0 40.1,-5.0" fill="none" stroke="#fff" stroke-width="3.30"/>
<path d="M24.7,-38.3 C25.9,-36.6 30.0,-31.3 31.8,-27.7 C33.7,-24.1 35.0,-20.6 35.7,-16.8 C36.4,-13.0 35.9,-7.0 36.0,-5.0" fill="none" stroke="#fff" stroke-width="2.81"/>
<path d="M45.4,-38.3 C46.6,-36.6 50.6,-31.3 52.5,-27.7 C54.3,-24.1 55.6,-20.6 56.3,-16.8 C57.0,-13.0 56.6,-7.0 56.6,-5.0" fill="none" stroke="#fff" stroke-width="3.30"/>
<path d="M41.2,-38.3 C42.4,-36.6 46.5,-31.3 48.3,-27.7 C50.2,-24.1 51.5,-20.6 52.2,-16.8 C52.9,-13.0 52.4,-7.0 52.5,-5.0" fill="none" stroke="#fff" stroke-width="2.81"/>
<path d="M61.9,-38.3 C63.1,-36.6 67.1,-31.3 69.0,-27.7 C70.8,-24.1 72.1,-20.6 72.8,-16.8 C73.5,-13.0 73.1,-7.0 73.1,-5.0" fill="none" stroke="#fff" stroke-width="3.30"/>
<path d="M57.7,-38.3 C58.9,-36.6 63.0,-31.3 64.8,-27.7 C66.7,-24.1 68.0,-20.6 68.7,-16.8 C69.4,-13.0 68.9,-7.0 69.0,-5.0" fill="none" stroke="#fff" stroke-width="2.81"/>
<path d="M78.4,-38.3 C79.6,-36.6 83.6,-31.3 85.5,-27.7 C87.3,-24.1 88.6,-20.6 89.3,-16.8 C90.0,-13.0 89.6,-7.0 89.6,-5.0" fill="none" stroke="#fff" stroke-width="3.30"/>
<path d="M74.2,-38.3 C75.4,-36.6 79.5,-31.3 81.3,-27.7 C83.2,-24.1 84.5,-20.6 85.2,-16.8 C85.9,-13.0 85.4,-7.0 85.5,-5.0" fill="none" stroke="#fff" stroke-width="2.81"/>
<path d="M94.9,-38.3 C96.1,-36.6 100.1,-31.3 102.0,-27.7 C103.8,-24.1 105.1,-20.6 105.8,-16.8 C106.5,-13.0 106.1,-7.0 106.1,-5.0" fill="none" stroke="#fff" stroke-width="3.30"/>
<path d="M90.7,-38.3 C91.9,-36.6 96.0,-31.3 97.8,-27.7 C99.7,-24.1 101.0,-20.6 101.7,-16.8 C102.4,-13.0 101.9,-7.0 102.0,-5.0" fill="none" stroke="#fff" stroke-width="2.81"/>
<path d="M111.4,-38.3 C112.6,-36.6 116.6,-31.3 118.5,-27.7 C120.3,-24.1 121.6,-20.6 122.3,-16.8 C123.0,-13.0 122.6,-7.0 122.6,-5.0" fill="none" stroke="#fff" stroke-width="3.30"/>
<path d="M107.2,-38.3 C108.4,-36.6 112.5,-31.3 114.3,-27.7 C116.2,-24.1 117.5,-20.6 118.2,-16.8 C118.9,-13.0 118.4,-7.0 118.5,-5.0" fill="none" stroke="#fff" stroke-width="2.81"/>
<path d="M127.9,-38.3 C129.1,-36.6 133.1,-31.3 135.0,-27.7 C136.8,-24.1 138.1,-20.6 138.8,-16.8 C139.5,-13.0 139.1,-7.0 139.1,-5.0" fill="none" stroke="#fff" stroke-width="3.30"/>
<path d="M123.7,-38.3 C124.9,-36.6 129.0,-31.3 130.8,-27.7 C132.7,-24.1 134.0,-20.6 134.7,-16.8 C135.4,-13.0 134.9,-7.0 135.0,-5.0" fill="none" stroke="#fff" stroke-width="2.81"/>
<path d="M-1.0,-37.0 C2.0,-39.8 7.5,-39.8 9.4,-36.0 C10.4,-34.0 11.4,-31.0 12.4,-28.0" fill="none" stroke="#fff" stroke-width="3.70"/>
<path d="M15.5,-37.0 C18.5,-39.8 24.0,-39.8 25.9,-36.0 C26.9,-34.0 27.9,-31.0 28.9,-28.0" fill="none" stroke="#fff" stroke-width="3.70"/>
<path d="M32.0,-37.0 C35.0,-39.8 40.5,-39.8 42.4,-36.0 C43.4,-34.0 44.4,-31.0 45.4,-28.0" fill="none" stroke="#fff" stroke-width="3.70"/>
<path d="M48.5,-37.0 C51.5,-39.8 57.0,-39.8 58.9,-36.0 C59.9,-34.0 60.9,-31.0 61.9,-28.0" fill="none" stroke="#fff" stroke-width="3.70"/>
<path d="M65.0,-37.0 C68.0,-39.8 73.5,-39.8 75.4,-36.0 C76.4,-34.0 77.4,-31.0 78.4,-28.0" fill="none" stroke="#fff" stroke-width="3.70"/>
<path d="M81.5,-37.0 C84.5,-39.8 90.0,-39.8 91.9,-36.0 C92.9,-34.0 93.9,-31.0 94.9,-28.0" fill="none" stroke="#fff" stroke-width="3.70"/>
<path d="M98.0,-37.0 C101.0,-39.8 106.5,-39.8 108.4,-36.0 C109.4,-34.0 110.4,-31.0 111.4,-28.0" fill="none" stroke="#fff" stroke-width="3.70"/>
<path d="M114.5,-37.0 C117.5,-39.8 123.0,-39.8 124.9,-36.0 C125.9,-34.0 126.9,-31.0 127.9,-28.0" fill="none" stroke="#fff" stroke-width="3.70"/>
<path d="M131.0,-37.0 C134.0,-39.8 139.5,-39.8 141.4,-36.0 C142.4,-34.0 143.4,-31.0 144.4,-28.0" fill="none" stroke="#fff" stroke-width="3.70"/>
<path d="M-3.0,-40.3 C-1.4,-38.2 4.4,-31.6 6.6,-27.7 C8.8,-23.8 9.4,-21.4 10.4,-16.8 C11.5,-12.2 12.6,-4.8 13.0,0.0 C13.4,4.8 13.1,7.6 12.7,11.8 C12.3,16.0 11.6,21.6 10.6,25.2 C9.6,28.8 8.3,31.2 6.6,33.6 C4.9,36.0 2.0,38.2 0.5,39.5 C-0.9,40.8 -1.7,41.2 -2.2,41.6" fill="none" stroke="#000" stroke-width="2.4"/>
<path d="M-2.4,40.0 L1.6,33.0 L3.6,37.0 L6.6,34.0 L7.6,40.0 Z" fill="#000"/>
<path d="M13.5,-40.3 C15.1,-38.2 20.9,-31.6 23.1,-27.7 C25.3,-23.8 25.9,-21.4 26.9,-16.8 C28.0,-12.2 29.1,-4.8 29.5,0.0 C29.9,4.8 29.6,7.6 29.2,11.8 C28.8,16.0 28.1,21.6 27.1,25.2 C26.1,28.8 24.8,31.2 23.1,33.6 C21.4,36.0 18.5,38.2 17.0,39.5 C15.6,40.8 14.8,41.2 14.3,41.6" fill="none" stroke="#000" stroke-width="2.4"/>
<path d="M14.1,40.0 L18.1,33.0 L20.1,37.0 L23.1,34.0 L24.1,40.0 Z" fill="#000"/>
<path d="M30.0,-40.3 C31.6,-38.2 37.4,-31.6 39.6,-27.7 C41.8,-23.8 42.4,-21.4 43.4,-16.8 C44.5,-12.2 45.6,-4.8 46.0,0.0 C46.4,4.8 46.1,7.6 45.7,11.8 C45.3,16.0 44.6,21.6 43.6,25.2 C42.6,28.8 41.3,31.2 39.6,33.6 C37.9,36.0 35.0,38.2 33.5,39.5 C32.1,40.8 31.3,41.2 30.8,41.6" fill="none" stroke="#000" stroke-width="2.4"/>
<path d="M30.6,40.0 L34.6,33.0 L36.6,37.0 L39.6,34.0 L40.6,40.0 Z" fill="#000"/>
<path d="M46.5,-40.3 C48.1,-38.2 53.9,-31.6 56.1,-27.7 C58.3,-23.8 58.9,-21.4 59.9,-16.8 C61.0,-12.2 62.1,-4.8 62.5,0.0 C62.9,4.8 62.6,7.6 62.2,11.8 C61.8,16.0 61.1,21.6 60.1,25.2 C59.1,28.8 57.8,31.2 56.1,33.6 C54.4,36.0 51.5,38.2 50.0,39.5 C48.6,40.8 47.8,41.2 47.3,41.6" fill="none" stroke="#000" stroke-width="2.4"/>
<path d="M47.1,40.0 L51.1,33.0 L53.1,37.0 L56.1,34.0 L57.1,40.0 Z" fill="#000"/>
<path d="M63.0,-40.3 C64.6,-38.2 70.4,-31.6 72.6,-27.7 C74.8,-23.8 75.4,-21.4 76.4,-16.8 C77.5,-12.2 78.6,-4.8 79.0,0.0 C79.4,4.8 79.1,7.6 78.7,11.8 C78.3,16.0 77.6,21.6 76.6,25.2 C75.6,28.8 74.3,31.2 72.6,33.6 C70.9,36.0 68.0,38.2 66.5,39.5 C65.1,40.8 64.3,41.2 63.8,41.6" fill="none" stroke="#000" stroke-width="2.4"/>
<path d="M63.599999999999994,40.0 L67.6,33.0 L69.6,37.0 L72.6,34.0 L73.6,40.0 Z" fill="#000"/>
<path d="M79.5,-40.3 C81.1,-38.2 86.9,-31.6 89.1,-27.7 C91.3,-23.8 91.9,-21.4 92.9,-16.8 C94.0,-12.2 95.1,-4.8 95.5,0.0 C95.9,4.8 95.6,7.6 95.2,11.8 C94.8,16.0 94.1,21.6 93.1,25.2 C92.1,28.8 90.8,31.2 89.1,33.6 C87.4,36.0 84.5,38.2 83.0,39.5 C81.6,40.8 80.8,41.2 80.3,41.6" fill="none" stroke="#000" stroke-width="2.4"/>
<path d="M80.1,40.0 L84.1,33.0 L86.1,37.0 L89.1,34.0 L90.1,40.0 Z" fill="#000"/>
<path d="M96.0,-40.3 C97.6,-38.2 103.4,-31.6 105.6,-27.7 C107.8,-23.8 108.4,-21.4 109.4,-16.8 C110.5,-12.2 111.6,-4.8 112.0,0.0 C112.4,4.8 112.1,7.6 111.7,11.8 C111.3,16.0 110.6,21.6 109.6,25.2 C108.6,28.8 107.3,31.2 105.6,33.6 C103.9,36.0 101.0,38.2 99.5,39.5 C98.1,40.8 97.3,41.2 96.8,41.6" fill="none" stroke="#000" stroke-width="2.4"/>
<path d="M96.6,40.0 L100.6,33.0 L102.6,37.0 L105.6,34.0 L106.6,40.0 Z" fill="#000"/>
<path d="M112.5,-40.3 C114.1,-38.2 119.9,-31.6 122.1,-27.7 C124.3,-23.8 124.9,-21.4 125.9,-16.8 C127.0,-12.2 128.1,-4.8 128.5,0.0 C128.9,4.8 128.6,7.6 128.2,11.8 C127.8,16.0 127.1,21.6 126.1,25.2 C125.1,28.8 123.8,31.2 122.1,33.6 C120.4,36.0 117.5,38.2 116.0,39.5 C114.6,40.8 113.8,41.2 113.3,41.6" fill="none" stroke="#000" stroke-width="2.4"/>
<path d="M113.1,40.0 L117.1,33.0 L119.1,37.0 L122.1,34.0 L123.1,40.0 Z" fill="#000"/>
<path d="M129.0,-40.3 C130.6,-38.2 136.4,-31.6 138.6,-27.7 C140.8,-23.8 141.4,-21.4 142.4,-16.8 C143.5,-12.2 144.6,-4.8 145.0,0.0 C145.4,4.8 145.1,7.6 144.7,11.8 C144.3,16.0 143.6,21.6 142.6,25.2 C141.6,28.8 140.3,31.2 138.6,33.6 C136.9,36.0 134.0,38.2 132.5,39.5 C131.1,40.8 130.3,41.2 129.8,41.6" fill="none" stroke="#000" stroke-width="2.4"/>
<path d="M129.6,40.0 L133.6,33.0 L135.6,37.0 L138.6,34.0 L139.6,40.0 Z" fill="#000"/>
<path d="M145.5,-40.3 C147.1,-38.2 152.9,-31.6 155.1,-27.7 C157.3,-23.8 157.9,-21.4 158.9,-16.8 C160.0,-12.2 161.1,-4.8 161.5,0.0 C161.9,4.8 161.6,7.6 161.2,11.8 C160.8,16.0 160.1,21.6 159.1,25.2 C158.1,28.8 156.8,31.2 155.1,33.6 C153.4,36.0 150.5,38.2 149.0,39.5 C147.6,40.8 146.8,41.2 146.3,41.6" fill="none" stroke="#000" stroke-width="3"/>
<path d="M146.1,40.0 L150.1,33.0 L152.1,37.0 L155.1,34.0 L156.1,40.0 Z" fill="#000"/>
<path d="M-2.5,-39.5 C1.0,-43.0 9.5,-43.0 14.0,-39.5" fill="none" stroke="#000" stroke-width="2.4"/>
<path d="M-2.0,-38.5 C2.0,-41.0 8.5,-41.0 12.5,-38.0" fill="none" stroke="#fff" stroke-width="1.2"/>
<path d="M-1.6999999999999993,40.5 C1.8000000000000007,44.0 10.3,44.0 14.8,40.5" fill="none" stroke="#000" stroke-width="2.4"/>
<path d="M14.0,-39.5 C17.5,-43.0 26.0,-43.0 30.5,-39.5" fill="none" stroke="#000" stroke-width="2.4"/>
<path d="M14.5,-38.5 C18.5,-41.0 25.0,-41.0 29.0,-38.0" fill="none" stroke="#fff" stroke-width="1.2"/>
<path d="M14.8,40.5 C18.3,44.0 26.8,44.0 31.3,40.5" fill="none" stroke="#000" stroke-width="2.4"/>
<path d="M30.5,-39.5 C34.0,-43.0 42.5,-43.0 47.0,-39.5" fill="none" stroke="#000" stroke-width="2.4"/>
<path d="M31.0,-38.5 C35.0,-41.0 41.5,-41.0 45.5,-38.0" fill="none" stroke="#fff" stroke-width="1.2"/>
<path d="M31.299999999999997,40.5 C34.8,44.0 43.3,44.0 47.8,40.5" fill="none" stroke="#000" stroke-width="2.4"/>
<path d="M47.0,-39.5 C50.5,-43.0 59.0,-43.0 63.5,-39.5" fill="none" stroke="#000" stroke-width="2.4"/>
<path d="M47.5,-38.5 C51.5,-41.0 58.0,-41.0 62.0,-38.0" fill="none" stroke="#fff" stroke-width="1.2"/>
<path d="M47.8,40.5 C51.3,44.0 59.8,44.0 64.3,40.5" fill="none" stroke="#000" stroke-width="2.4"/>
<path d="M63.5,-39.5 C67.0,-43.0 75.5,-43.0 80.0,-39.5" fill="none" stroke="#000" stroke-width="2.4"/>
<path d="M64.0,-38.5 C68.0,-41.0 74.5,-41.0 78.5,-38.0" fill="none" stroke="#fff" stroke-width="1.2"/>
<path d="M64.3,40.5 C67.8,44.0 76.3,44.0 80.8,40.5" fill="none" stroke="#000" stroke-width="2.4"/>
<path d="M80.0,-39.5 C83.5,-43.0 92.0,-43.0 96.5,-39.5" fill="none" stroke="#000" stroke-width="2.4"/>
<path d="M80.5,-38.5 C84.5,-41.0 91.0,-41.0 95.0,-38.0" fill="none" stroke="#fff" stroke-width="1.2"/>
<path d="M80.8,40.5 C84.3,44.0 92.8,44.0 97.3,40.5" fill="none" stroke="#000" stroke-width="2.4"/>
<path d="M96.5,-39.5 C100.0,-43.0 108.5,-43.0 113.0,-39.5" fill="none" stroke="#000" stroke-width="2.4"/>
<path d="M97.0,-38.5 C101.0,-41.0 107.5,-41.0 111.5,-38.0" fill="none" stroke="#fff" stroke-width="1.2"/>
<path d="M97.3,40.5 C100.8,44.0 109.3,44.0 113.8,40.5" fill="none" stroke="#000" stroke-width="2.4"/>
<path d="M113.0,-39.5 C116.5,-43.0 125.0,-43.0 129.5,-39.5" fill="none" stroke="#000" stroke-width="2.4"/>
<path d="M113.5,-38.5 C117.5,-41.0 124.0,-41.0 128.0,-38.0" fill="none" stroke="#fff" stroke-width="1.2"/>
<path d="M113.80000000000001,40.5 C117.30000000000001,44.0 125.80000000000001,44.0 130.3,40.5" fill="none" stroke="#000" stroke-width="2.4"/>
<path d="M129.5,-39.5 C133.0,-43.0 141.5,-43.0 146.0,-39.5" fill="none" stroke="#000" stroke-width="2.4"/>
<path d="M130.0,-38.5 C134.0,-41.0 140.5,-41.0 144.5,-38.0" fill="none" stroke="#fff" stroke-width="1.2"/>
<path d="M130.3,40.5 C133.8,44.0 142.3,44.0 146.8,40.5" fill="none" stroke="#000" stroke-width="2.4"/>
</g>
<path d="M162.2,889.4 C161.7,881.6 165.0,867.5 167.8,859.0 C170.6,850.5 173.7,845.1 179.0,838.2 C184.3,831.3 192.3,823.0 199.8,817.4 C207.3,811.8 216.3,807.3 223.8,804.6 C231.3,801.9 237.9,801.4 244.6,801.4 C251.3,801.4 257.7,802.5 263.8,804.6 C269.9,806.7 276.3,809.7 281.4,814.2 C286.5,818.7 290.2,825.7 294.2,831.8 C298.2,837.9 302.9,844.6 305.4,851.0 C307.9,857.4 309.1,864.6 309.4,870.2 C309.7,875.8 308.2,880.9 307.0,884.6 C305.8,888.3 306.2,886.7 302.2,892.6 C298.2,898.5 289.2,912.2 283.0,919.8 C276.8,927.4 272.6,934.6 264.8,938.4 C256.9,942.1 244.8,942.2 236.0,942.5 C227.1,942.9 219.0,942.9 211.5,940.4 C204.0,938.0 197.8,933.8 191.0,928.0 C184.2,922.1 175.3,912.0 170.5,905.6 C165.7,899.1 162.7,897.2 162.2,889.4Z" fill="#000" stroke="#000" stroke-width="3"/>
<path d="M208,919 L237,905 L256,927 L221,940 Z" fill="#fff"/>
<path d="M173,902 L184,906 L190,925 L180,922 Z" fill="#fff"/>
<path d="M278.0,858.0 C280.1,853.7 296.0,846.9 300.0,848.0 C304.0,849.1 307.1,861.2 308.0,866.0 C308.9,870.8 308.6,880.9 307.0,884.0 C305.4,887.1 299.1,889.5 296.0,889.0 C292.9,888.5 286.4,884.1 284.0,880.0 C281.6,875.9 275.9,862.3 278.0,858.0Z" fill="#fff"/>
<path d="M176,914 C190,932 205,942 222,943 C238,943 252,940 262,935" fill="none" stroke="#fff" stroke-width="1.5"/>
<path d="M167.5,866.0 C168.0,863.1 172.4,849.4 175.0,845.0 C177.6,840.6 186.5,831.7 190.0,828.0 C193.5,824.3 200.9,816.1 205.0,813.5 C209.1,810.9 220.6,807.2 225.0,806.0 C229.4,804.8 238.4,803.1 242.5,803.0 C246.6,802.9 256.5,804.3 260.0,805.0 C263.5,805.7 269.8,807.6 272.5,809.0 C275.2,810.4 281.1,814.8 283.0,817.0 C284.9,819.2 288.9,827.0 289.0,828.0 C289.1,829.0 285.6,826.8 284.0,826.0 C282.4,825.2 279.0,821.4 275.0,821.0 C271.0,820.6 256.4,821.3 250.0,822.5 C243.6,823.7 226.4,828.8 220.0,831.5 C213.6,834.2 199.9,842.7 195.0,846.0 C190.1,849.3 180.8,857.2 178.0,860.0 C175.2,862.8 172.2,869.3 171.0,870.0 C169.8,870.7 167.0,868.9 167.5,866.0Z" fill="#fff"/>
<path d="M244.0,808.0 C245.3,806.5 257.2,805.8 262.0,807.0 C266.8,808.2 278.9,815.3 280.0,817.0 C281.1,818.7 273.7,819.9 270.0,820.0 C266.3,820.1 255.5,819.6 252.0,818.0 C248.5,816.4 242.7,809.5 244.0,808.0Z" fill="#000"/>
<path d="M174.0,866.0 C176.7,863.7 183.2,856.7 190.0,852.0 C196.8,847.3 205.8,842.0 215.0,838.0 C224.2,834.0 235.0,830.0 245.0,828.0 C255.0,826.0 268.3,825.5 275.0,826.0 C281.7,826.5 283.3,830.2 285.0,831.0" fill="none" stroke="#fff" stroke-width="1.3"/>
<path d="M190.0,870.0 C191.0,866.4 194.8,854.3 197.5,851.0 C200.2,847.7 206.0,846.4 210.0,845.0 C214.0,843.6 222.2,841.4 227.5,840.5 C232.8,839.6 245.0,838.4 250.0,838.0 C255.0,837.6 261.5,837.4 265.0,837.5 C268.5,837.6 275.3,837.3 276.0,839.0 C276.7,840.7 271.9,847.3 270.0,850.0 C268.1,852.7 264.4,856.6 262.0,859.0 C259.6,861.4 254.6,865.9 252.0,868.0 C249.4,870.1 245.7,873.3 242.5,875.0 C239.3,876.7 232.0,879.8 228.0,881.0 C224.0,882.2 216.5,883.7 212.5,884.0 C208.5,884.3 201.0,883.8 198.0,883.0 C195.0,882.2 191.1,879.7 190.0,878.0 C188.9,876.3 189.0,873.6 190.0,870.0Z" fill="#bcbcbc"/>
<path d="M166.0,895.0 C169.2,895.7 178.0,898.3 185.0,899.0 C192.0,899.7 200.2,900.2 208.0,899.0 C215.8,897.8 224.7,895.2 232.0,892.0 C239.3,888.8 246.0,884.7 252.0,880.0 C258.0,875.3 263.5,869.2 268.0,864.0 C272.5,858.8 275.8,853.7 279.0,849.0 C282.2,844.3 285.7,838.2 287.0,836.0" fill="none" stroke="#fff" stroke-width="6"/>
<path d="M165.0,900.0 C168.3,900.7 177.5,903.3 185.0,904.0 C192.5,904.7 201.7,905.2 210.0,904.0 C218.3,902.8 227.3,900.3 235.0,897.0 C242.7,893.7 249.8,889.0 256.0,884.0 C262.2,879.0 267.5,872.3 272.0,867.0 C276.5,861.7 279.8,856.8 283.0,852.0 C286.2,847.2 289.7,840.3 291.0,838.0" fill="none" stroke="#000" stroke-width="2"/>
<path d="M162.2,889.4 C161.7,881.6 165.0,867.5 167.8,859.0 C170.6,850.5 173.7,845.1 179.0,838.2 C184.3,831.3 192.3,823.0 199.8,817.4 C207.3,811.8 216.3,807.3 223.8,804.6 C231.3,801.9 237.9,801.4 244.6,801.4 C251.3,801.4 257.7,802.5 263.8,804.6 C269.9,806.7 276.3,809.7 281.4,814.2 C286.5,818.7 290.2,825.7 294.2,831.8 C298.2,837.9 302.9,844.6 305.4,851.0 C307.9,857.4 309.1,864.6 309.4,870.2 C309.7,875.8 308.2,880.9 307.0,884.6 C305.8,888.3 306.2,886.7 302.2,892.6 C298.2,898.5 289.2,912.2 283.0,919.8 C276.8,927.4 272.6,934.6 264.8,938.4 C256.9,942.1 244.8,942.2 236.0,942.5 C227.1,942.9 219.0,942.9 211.5,940.4 C204.0,938.0 197.8,933.8 191.0,928.0 C184.2,922.1 175.3,912.0 170.5,905.6 C165.7,899.1 162.7,897.2 162.2,889.4Z" fill="none" stroke="#000" stroke-width="3"/>
<g transform="translate(460.5,932) rotate(53.5)">
<rect x="-21.5" y="-45.0" width="168.5" height="90.0" fill="#fff"/>
<path d="M-21.5,-43.0 L147.0,-43.0 L147.0,-7 L144.88,-7 L142.38,-2.5 L140.88,-8 L138.88,-1.5 L136.88,-7 L134.88,-3.5 L132.88,-8 L130.88,-4 L128.38,-7 L125.88,-2.5 L124.38,-8 L122.38,-1.5 L120.38,-7 L118.38,-3.5 L116.38,-8 L114.38,-4 L111.88,-7 L109.38,-2.5 L107.88,-8 L105.88,-1.5 L103.88,-7 L101.88,-3.5 L99.88,-8 L97.88,-4 L95.38,-7 L92.88,-2.5 L91.38,-8 L89.38,-1.5 L87.38,-7 L85.38,-3.5 L83.38,-8 L81.38,-4 L78.88,-7 L76.38,-2.5 L74.88,-8 L72.88,-1.5 L70.88,-7 L68.88,-3.5 L66.88,-8 L64.88,-4 L62.38,-7 L59.88,-2.5 L58.38,-8 L56.38,-1.5 L54.38,-7 L52.38,-3.5 L50.38,-8 L48.38,-4 L45.88,-7 L43.38,-2.5 L41.88,-8 L39.88,-1.5 L37.88,-7 L35.88,-3.5 L33.88,-8 L31.880000000000003,-4 L29.380000000000003,-7 L26.880000000000003,-2.5 L25.380000000000003,-8 L23.380000000000003,-1.5 L21.380000000000003,-7 L19.380000000000003,-3.5 L17.380000000000003,-8 L15.380000000000003,-4 L12.88,-7 L10.38,-2.5 L8.88,-8 L6.880000000000001,-1.5 L4.880000000000001,-7 L2.880000000000001,-3.5 L0.8800000000000008,-8 L-1.1199999999999992,-4 L-21.5,-5 Z" fill="#000"/>
<path d="M-21.5,-4 L-2.119999999999999,-4 L-1.1199999999999992,-4 L0.8800000000000008,-8 L2.880000000000001,-3.5 L4.880000000000001,-7 L6.880000000000001,-1.5 L8.88,-8 L10.38,-2.5 L12.88,-7 L14.380000000000003,-4 L15.380000000000003,-4 L17.380000000000003,-8 L19.380000000000003,-3.5 L21.380000000000003,-7 L23.380000000000003,-1.5 L25.380000000000003,-8 L26.880000000000003,-2.5 L29.380000000000003,-7 L30.880000000000003,-4 L31.880000000000003,-4 L33.88,-8 L35.88,-3.5 L37.88,-7 L39.88,-1.5 L41.88,-8 L43.38,-2.5 L45.88,-7 L47.38,-4 L48.38,-4 L50.38,-8 L52.38,-3.5 L54.38,-7 L56.38,-1.5 L58.38,-8 L59.88,-2.5 L62.38,-7 L63.879999999999995,-4 L64.88,-4 L66.88,-8 L68.88,-3.5 L70.88,-7 L72.88,-1.5 L74.88,-8 L76.38,-2.5 L78.88,-7 L80.38,-4 L81.38,-4 L83.38,-8 L85.38,-3.5 L87.38,-7 L89.38,-1.5 L91.38,-8 L92.88,-2.5 L95.38,-7 L96.88,-4 L97.88,-4 L99.88,-8 L101.88,-3.5 L103.88,-7 L105.88,-1.5 L107.88,-8 L109.38,-2.5 L111.88,-7 L113.38,-4 L114.38,-4 L116.38,-8 L118.38,-3.5 L120.38,-7 L122.38,-1.5 L124.38,-8 L125.88,-2.5 L128.38,-7 L129.88,-4 L130.88,-4 L132.88,-8 L134.88,-3.5 L136.88,-7 L138.88,-1.5 L140.88,-8 L142.38,-2.5 L144.88,-7 L147.0,-7 L147.0,17 L-21.5,17 Z" fill="#bcbcbc"/>
<path d="M130.2,-43.2 C131.8,-41.0 137.6,-33.9 139.8,-29.7 C142.0,-25.5 142.6,-22.9 143.6,-18.0 C144.7,-13.1 145.8,-5.1 146.2,0.0 C146.6,5.1 146.3,8.1 145.9,12.6 C145.5,17.1 144.8,23.1 143.8,27.0 C142.8,30.9 141.5,33.5 139.8,36.0 C138.1,38.5 135.2,40.9 133.7,42.3 C132.3,43.7 131.5,44.2 131.0,44.5 L167.0,46.0 L167.0,-46.0 L129.0,-46.0 Z" fill="#fff"/>
<path d="M-4.1,-41.2 C-2.9,-39.3 1.1,-33.6 3.0,-29.7 C4.8,-25.8 6.1,-22.1 6.8,-18.0 C7.5,-13.9 7.1,-7.2 7.1,-5.0" fill="none" stroke="#fff" stroke-width="3.30"/>
<path d="M-8.3,-41.2 C-7.1,-39.3 -3.0,-33.6 -1.2,-29.7 C0.7,-25.8 2.0,-22.1 2.7,-18.0 C3.4,-13.9 2.9,-7.2 3.0,-5.0" fill="none" stroke="#fff" stroke-width="2.81"/>
<path d="M12.4,-41.2 C13.6,-39.3 17.6,-33.6 19.5,-29.7 C21.3,-25.8 22.6,-22.1 23.3,-18.0 C24.0,-13.9 23.6,-7.2 23.6,-5.0" fill="none" stroke="#fff" stroke-width="3.30"/>
<path d="M8.2,-41.2 C9.4,-39.3 13.5,-33.6 15.3,-29.7 C17.2,-25.8 18.5,-22.1 19.2,-18.0 C19.9,-13.9 19.4,-7.2 19.5,-5.0" fill="none" stroke="#fff" stroke-width="2.81"/>
<path d="M28.9,-41.2 C30.1,-39.3 34.1,-33.6 36.0,-29.7 C37.8,-25.8 39.1,-22.1 39.8,-18.0 C40.5,-13.9 40.1,-7.2 40.1,-5.0" fill="none" stroke="#fff" stroke-width="3.30"/>
<path d="M24.7,-41.2 C25.9,-39.3 30.0,-33.6 31.8,-29.7 C33.7,-25.8 35.0,-22.1 35.7,-18.0 C36.4,-13.9 35.9,-7.2 36.0,-5.0" fill="none" stroke="#fff" stroke-width="2.81"/>
<path d="M45.4,-41.2 C46.6,-39.3 50.6,-33.6 52.5,-29.7 C54.3,-25.8 55.6,-22.1 56.3,-18.0 C57.0,-13.9 56.6,-7.2 56.6,-5.0" fill="none" stroke="#fff" stroke-width="3.30"/>
<path d="M41.2,-41.2 C42.4,-39.3 46.5,-33.6 48.3,-29.7 C50.2,-25.8 51.5,-22.1 52.2,-18.0 C52.9,-13.9 52.4,-7.2 52.5,-5.0" fill="none" stroke="#fff" stroke-width="2.81"/>
<path d="M61.9,-41.2 C63.1,-39.3 67.1,-33.6 69.0,-29.7 C70.8,-25.8 72.1,-22.1 72.8,-18.0 C73.5,-13.9 73.1,-7.2 73.1,-5.0" fill="none" stroke="#fff" stroke-width="3.30"/>
<path d="M57.7,-41.2 C58.9,-39.3 63.0,-33.6 64.8,-29.7 C66.7,-25.8 68.0,-22.1 68.7,-18.0 C69.4,-13.9 68.9,-7.2 69.0,-5.0" fill="none" stroke="#fff" stroke-width="2.81"/>
<path d="M78.4,-41.2 C79.6,-39.3 83.6,-33.6 85.5,-29.7 C87.3,-25.8 88.6,-22.1 89.3,-18.0 C90.0,-13.9 89.6,-7.2 89.6,-5.0" fill="none" stroke="#fff" stroke-width="3.30"/>
<path d="M74.2,-41.2 C75.4,-39.3 79.5,-33.6 81.3,-29.7 C83.2,-25.8 84.5,-22.1 85.2,-18.0 C85.9,-13.9 85.4,-7.2 85.5,-5.0" fill="none" stroke="#fff" stroke-width="2.81"/>
<path d="M94.9,-41.2 C96.1,-39.3 100.1,-33.6 102.0,-29.7 C103.8,-25.8 105.1,-22.1 105.8,-18.0 C106.5,-13.9 106.1,-7.2 106.1,-5.0" fill="none" stroke="#fff" stroke-width="3.30"/>
<path d="M90.7,-41.2 C91.9,-39.3 96.0,-33.6 97.8,-29.7 C99.7,-25.8 101.0,-22.1 101.7,-18.0 C102.4,-13.9 101.9,-7.2 102.0,-5.0" fill="none" stroke="#fff" stroke-width="2.81"/>
<path d="M111.4,-41.2 C112.6,-39.3 116.6,-33.6 118.5,-29.7 C120.3,-25.8 121.6,-22.1 122.3,-18.0 C123.0,-13.9 122.6,-7.2 122.6,-5.0" fill="none" stroke="#fff" stroke-width="3.30"/>
<path d="M107.2,-41.2 C108.4,-39.3 112.5,-33.6 114.3,-29.7 C116.2,-25.8 117.5,-22.1 118.2,-18.0 C118.9,-13.9 118.4,-7.2 118.5,-5.0" fill="none" stroke="#fff" stroke-width="2.81"/>
<path d="M-1.0,-40.0 C2.0,-42.8 7.5,-42.8 9.4,-39.0 C10.4,-37.0 11.4,-34.0 12.4,-31.0" fill="none" stroke="#fff" stroke-width="3.70"/>
<path d="M15.5,-40.0 C18.5,-42.8 24.0,-42.8 25.9,-39.0 C26.9,-37.0 27.9,-34.0 28.9,-31.0" fill="none" stroke="#fff" stroke-width="3.70"/>
<path d="M32.0,-40.0 C35.0,-42.8 40.5,-42.8 42.4,-39.0 C43.4,-37.0 44.4,-34.0 45.4,-31.0" fill="none" stroke="#fff" stroke-width="3.70"/>
<path d="M48.5,-40.0 C51.5,-42.8 57.0,-42.8 58.9,-39.0 C59.9,-37.0 60.9,-34.0 61.9,-31.0" fill="none" stroke="#fff" stroke-width="3.70"/>
<path d="M65.0,-40.0 C68.0,-42.8 73.5,-42.8 75.4,-39.0 C76.4,-37.0 77.4,-34.0 78.4,-31.0" fill="none" stroke="#fff" stroke-width="3.70"/>
<path d="M81.5,-40.0 C84.5,-42.8 90.0,-42.8 91.9,-39.0 C92.9,-37.0 93.9,-34.0 94.9,-31.0" fill="none" stroke="#fff" stroke-width="3.70"/>
<path d="M98.0,-40.0 C101.0,-42.8 106.5,-42.8 108.4,-39.0 C109.4,-37.0 110.4,-34.0 111.4,-31.0" fill="none" stroke="#fff" stroke-width="3.70"/>
<path d="M114.5,-40.0 C117.5,-42.8 123.0,-42.8 124.9,-39.0 C125.9,-37.0 126.9,-34.0 127.9,-31.0" fill="none" stroke="#fff" stroke-width="3.70"/>
<path d="M-3.0,-43.2 C-1.4,-41.0 4.4,-33.9 6.6,-29.7 C8.8,-25.5 9.4,-22.9 10.4,-18.0 C11.5,-13.1 12.6,-5.1 13.0,0.0 C13.4,5.1 13.1,8.1 12.7,12.6 C12.3,17.1 11.6,23.1 10.6,27.0 C9.6,30.9 8.3,33.5 6.6,36.0 C4.9,38.5 2.0,40.9 0.5,42.3 C-0.9,43.7 -1.7,44.2 -2.2,44.5" fill="none" stroke="#000" stroke-width="2.4"/>
<path d="M-2.4,43.0 L1.6,36.0 L3.6,40.0 L6.6,37.0 L7.6,43.0 Z" fill="#000"/>
<path d="M13.5,-43.2 C15.1,-41.0 20.9,-33.9 23.1,-29.7 C25.3,-25.5 25.9,-22.9 26.9,-18.0 C28.0,-13.1 29.1,-5.1 29.5,0.0 C29.9,5.1 29.6,8.1 29.2,12.6 C28.8,17.1 28.1,23.1 27.1,27.0 C26.1,30.9 24.8,33.5 23.1,36.0 C21.4,38.5 18.5,40.9 17.0,42.3 C15.6,43.7 14.8,44.2 14.3,44.5" fill="none" stroke="#000" stroke-width="2.4"/>
<path d="M14.1,43.0 L18.1,36.0 L20.1,40.0 L23.1,37.0 L24.1,43.0 Z" fill="#000"/>
<path d="M30.0,-43.2 C31.6,-41.0 37.4,-33.9 39.6,-29.7 C41.8,-25.5 42.4,-22.9 43.4,-18.0 C44.5,-13.1 45.6,-5.1 46.0,0.0 C46.4,5.1 46.1,8.1 45.7,12.6 C45.3,17.1 44.6,23.1 43.6,27.0 C42.6,30.9 41.3,33.5 39.6,36.0 C37.9,38.5 35.0,40.9 33.5,42.3 C32.1,43.7 31.3,44.2 30.8,44.5" fill="none" stroke="#000" stroke-width="2.4"/>
<path d="M30.6,43.0 L34.6,36.0 L36.6,40.0 L39.6,37.0 L40.6,43.0 Z" fill="#000"/>
<path d="M46.5,-43.2 C48.1,-41.0 53.9,-33.9 56.1,-29.7 C58.3,-25.5 58.9,-22.9 59.9,-18.0 C61.0,-13.1 62.1,-5.1 62.5,0.0 C62.9,5.1 62.6,8.1 62.2,12.6 C61.8,17.1 61.1,23.1 60.1,27.0 C59.1,30.9 57.8,33.5 56.1,36.0 C54.4,38.5 51.5,40.9 50.0,42.3 C48.6,43.7 47.8,44.2 47.3,44.5" fill="none" stroke="#000" stroke-width="2.4"/>
<path d="M47.1,43.0 L51.1,36.0 L53.1,40.0 L56.1,37.0 L57.1,43.0 Z" fill="#000"/>
<path d="M63.0,-43.2 C64.6,-41.0 70.4,-33.9 72.6,-29.7 C74.8,-25.5 75.4,-22.9 76.4,-18.0 C77.5,-13.1 78.6,-5.1 79.0,0.0 C79.4,5.1 79.1,8.1 78.7,12.6 C78.3,17.1 77.6,23.1 76.6,27.0 C75.6,30.9 74.3,33.5 72.6,36.0 C70.9,38.5 68.0,40.9 66.5,42.3 C65.1,43.7 64.3,44.2 63.8,44.5" fill="none" stroke="#000" stroke-width="2.4"/>
<path d="M63.599999999999994,43.0 L67.6,36.0 L69.6,40.0 L72.6,37.0 L73.6,43.0 Z" fill="#000"/>
<path d="M79.5,-43.2 C81.1,-41.0 86.9,-33.9 89.1,-29.7 C91.3,-25.5 91.9,-22.9 92.9,-18.0 C94.0,-13.1 95.1,-5.1 95.5,0.0 C95.9,5.1 95.6,8.1 95.2,12.6 C94.8,17.1 94.1,23.1 93.1,27.0 C92.1,30.9 90.8,33.5 89.1,36.0 C87.4,38.5 84.5,40.9 83.0,42.3 C81.6,43.7 80.8,44.2 80.3,44.5" fill="none" stroke="#000" stroke-width="2.4"/>
<path d="M80.1,43.0 L84.1,36.0 L86.1,40.0 L89.1,37.0 L90.1,43.0 Z" fill="#000"/>
<path d="M96.0,-43.2 C97.6,-41.0 103.4,-33.9 105.6,-29.7 C107.8,-25.5 108.4,-22.9 109.4,-18.0 C110.5,-13.1 111.6,-5.1 112.0,0.0 C112.4,5.1 112.1,8.1 111.7,12.6 C111.3,17.1 110.6,23.1 109.6,27.0 C108.6,30.9 107.3,33.5 105.6,36.0 C103.9,38.5 101.0,40.9 99.5,42.3 C98.1,43.7 97.3,44.2 96.8,44.5" fill="none" stroke="#000" stroke-width="2.4"/>
<path d="M96.6,43.0 L100.6,36.0 L102.6,40.0 L105.6,37.0 L106.6,43.0 Z" fill="#000"/>
<path d="M112.5,-43.2 C114.1,-41.0 119.9,-33.9 122.1,-29.7 C124.3,-25.5 124.9,-22.9 125.9,-18.0 C127.0,-13.1 128.1,-5.1 128.5,0.0 C128.9,5.1 128.6,8.1 128.2,12.6 C127.8,17.1 127.1,23.1 126.1,27.0 C125.1,30.9 123.8,33.5 122.1,36.0 C120.4,38.5 117.5,40.9 116.0,42.3 C114.6,43.7 113.8,44.2 113.3,44.5" fill="none" stroke="#000" stroke-width="2.4"/>
<path d="M113.1,43.0 L117.1,36.0 L119.1,40.0 L122.1,37.0 L123.1,43.0 Z" fill="#000"/>
<path d="M129.0,-43.2 C130.6,-41.0 136.4,-33.9 138.6,-29.7 C140.8,-25.5 141.4,-22.9 142.4,-18.0 C143.5,-13.1 144.6,-5.1 145.0,0.0 C145.4,5.1 145.1,8.1 144.7,12.6 C144.3,17.1 143.6,23.1 142.6,27.0 C141.6,30.9 140.3,33.5 138.6,36.0 C136.9,38.5 134.0,40.9 132.5,42.3 C131.1,43.7 130.3,44.2 129.8,44.5" fill="none" stroke="#000" stroke-width="3"/>
<path d="M129.6,43.0 L133.6,36.0 L135.6,40.0 L138.6,37.0 L139.6,43.0 Z" fill="#000"/>
<path d="M-2.5,-42.5 C1.0,-46.0 9.5,-46.0 14.0,-42.5" fill="none" stroke="#000" stroke-width="2.4"/>
<path d="M-2.0,-41.5 C2.0,-44.0 8.5,-44.0 12.5,-41.0" fill="none" stroke="#fff" stroke-width="1.2"/>
<path d="M-1.6999999999999993,43.5 C1.8000000000000007,47.0 10.3,47.0 14.8,43.5" fill="none" stroke="#000" stroke-width="2.4"/>
<path d="M14.0,-42.5 C17.5,-46.0 26.0,-46.0 30.5,-42.5" fill="none" stroke="#000" stroke-width="2.4"/>
<path d="M14.5,-41.5 C18.5,-44.0 25.0,-44.0 29.0,-41.0" fill="none" stroke="#fff" stroke-width="1.2"/>
<path d="M14.8,43.5 C18.3,47.0 26.8,47.0 31.3,43.5" fill="none" stroke="#000" stroke-width="2.4"/>
<path d="M30.5,-42.5 C34.0,-46.0 42.5,-46.0 47.0,-42.5" fill="none" stroke="#000" stroke-width="2.4"/>
<path d="M31.0,-41.5 C35.0,-44.0 41.5,-44.0 45.5,-41.0" fill="none" stroke="#fff" stroke-width="1.2"/>
<path d="M31.299999999999997,43.5 C34.8,47.0 43.3,47.0 47.8,43.5" fill="none" stroke="#000" stroke-width="2.4"/>
<path d="M47.0,-42.5 C50.5,-46.0 59.0,-46.0 63.5,-42.5" fill="none" stroke="#000" stroke-width="2.4"/>
<path d="M47.5,-41.5 C51.5,-44.0 58.0,-44.0 62.0,-41.0" fill="none" stroke="#fff" stroke-width="1.2"/>
<path d="M47.8,43.5 C51.3,47.0 59.8,47.0 64.3,43.5" fill="none" stroke="#000" stroke-width="2.4"/>
<path d="M63.5,-42.5 C67.0,-46.0 75.5,-46.0 80.0,-42.5" fill="none" stroke="#000" stroke-width="2.4"/>
<path d="M64.0,-41.5 C68.0,-44.0 74.5,-44.0 78.5,-41.0" fill="none" stroke="#fff" stroke-width="1.2"/>
<path d="M64.3,43.5 C67.8,47.0 76.3,47.0 80.8,43.5" fill="none" stroke="#000" stroke-width="2.4"/>
<path d="M80.0,-42.5 C83.5,-46.0 92.0,-46.0 96.5,-42.5" fill="none" stroke="#000" stroke-width="2.4"/>
<path d="M80.5,-41.5 C84.5,-44.0 91.0,-44.0 95.0,-41.0" fill="none" stroke="#fff" stroke-width="1.2"/>
<path d="M80.8,43.5 C84.3,47.0 92.8,47.0 97.3,43.5" fill="none" stroke="#000" stroke-width="2.4"/>
<path d="M96.5,-42.5 C100.0,-46.0 108.5,-46.0 113.0,-42.5" fill="none" stroke="#000" stroke-width="2.4"/>
<path d="M97.0,-41.5 C101.0,-44.0 107.5,-44.0 111.5,-41.0" fill="none" stroke="#fff" stroke-width="1.2"/>
<path d="M97.3,43.5 C100.8,47.0 109.3,47.0 113.8,43.5" fill="none" stroke="#000" stroke-width="2.4"/>
<path d="M113.0,-42.5 C116.5,-46.0 125.0,-46.0 129.5,-42.5" fill="none" stroke="#000" stroke-width="2.4"/>
<path d="M113.5,-41.5 C117.5,-44.0 124.0,-44.0 128.0,-41.0" fill="none" stroke="#fff" stroke-width="1.2"/>
<path d="M113.80000000000001,43.5 C117.30000000000001,47.0 125.80000000000001,47.0 130.3,43.5" fill="none" stroke="#000" stroke-width="2.4"/>
</g>
<clipPath id="clipF"><path d="M334.3,903.8 C333.7,898.2 334.1,888.8 336.8,880.0 C339.5,871.2 344.5,859.9 350.4,851.1 C356.4,842.3 364.6,834.1 372.5,827.3 C380.5,820.5 389.5,814.6 398.0,810.3 C406.5,806.1 415.0,803.5 423.5,801.8 C432.0,800.1 441.4,799.3 449.0,800.1 C456.7,801.0 463.5,803.5 469.5,806.9 C475.4,810.3 480.8,815.4 484.8,820.5 C488.7,825.6 491.1,831.0 493.3,837.5 C495.4,844.0 496.7,852.5 497.5,859.6 C498.4,866.7 498.7,874.9 498.4,880.0 C498.1,885.1 496.7,884.6 495.8,890.2 C495.0,895.9 499.1,904.4 493.3,914.0 C487.5,923.7 471.2,941.5 461.0,948.1 C450.7,954.6 441.1,952.6 432.0,953.2 C423.0,953.7 415.0,952.9 406.5,951.5 C398.0,950.0 389.5,948.3 381.0,944.7 C372.5,941.0 362.3,934.5 355.5,929.4 C348.7,924.3 343.7,918.3 340.2,914.0 C336.7,909.8 334.8,909.5 334.3,903.8Z"/></clipPath>
<path d="M334.3,903.8 C333.7,898.2 334.1,888.8 336.8,880.0 C339.5,871.2 344.5,859.9 350.4,851.1 C356.4,842.3 364.6,834.1 372.5,827.3 C380.5,820.5 389.5,814.6 398.0,810.3 C406.5,806.1 415.0,803.5 423.5,801.8 C432.0,800.1 441.4,799.3 449.0,800.1 C456.7,801.0 463.5,803.5 469.5,806.9 C475.4,810.3 480.8,815.4 484.8,820.5 C488.7,825.6 491.1,831.0 493.3,837.5 C495.4,844.0 496.7,852.5 497.5,859.6 C498.4,866.7 498.7,874.9 498.4,880.0 C498.1,885.1 496.7,884.6 495.8,890.2 C495.0,895.9 499.1,904.4 493.3,914.0 C487.5,923.7 471.2,941.5 461.0,948.1 C450.7,954.6 441.1,952.6 432.0,953.2 C423.0,953.7 415.0,952.9 406.5,951.5 C398.0,950.0 389.5,948.3 381.0,944.7 C372.5,941.0 362.3,934.5 355.5,929.4 C348.7,924.3 343.7,918.3 340.2,914.0 C336.7,909.8 334.8,909.5 334.3,903.8Z" fill="#fff"/>
<g clip-path="url(#clipF)">
<ellipse cx="435.8" cy="895.7" rx="80.0" ry="53.9" transform="rotate(-27 435.8 895.7)" fill="#bcbcbc" stroke="#000" stroke-width="3"/>
<ellipse cx="425.0" cy="884.1" rx="83.0" ry="56.0" transform="rotate(-27 425.0 884.1)" fill="#fff" stroke="#000" stroke-width="2.5"/>
<clipPath id="clipFb"><rect x="405" y="850" width="120" height="120"/></clipPath>
<g clip-path="url(#clipFb)">
<ellipse cx="420.9" cy="879.7" rx="83.8" ry="56.5" transform="rotate(-27 420.9 879.7)" fill="#000" stroke="#000" stroke-width="0"/>
</g>
<path d="M458,880 L478,870 L484,884 L466,895 Z" fill="#fff"/>
<ellipse cx="414.1" cy="872.4" rx="85.1" ry="57.4" transform="rotate(-27 414.1 872.4)" fill="#fff" stroke="#000" stroke-width="2.5"/>
<ellipse cx="410.0" cy="868.0" rx="86.0" ry="58.0" transform="rotate(-27 410.0 868.0)" fill="#fff" stroke="#000" stroke-width="3"/>
</g>
<path d="M334.3,903.8 C333.7,898.2 334.1,888.8 336.8,880.0 C339.5,871.2 344.5,859.9 350.4,851.1 C356.4,842.3 364.6,834.1 372.5,827.3 C380.5,820.5 389.5,814.6 398.0,810.3 C406.5,806.1 415.0,803.5 423.5,801.8 C432.0,800.1 441.4,799.3 449.0,800.1 C456.7,801.0 463.5,803.5 469.5,806.9 C475.4,810.3 480.8,815.4 484.8,820.5 C488.7,825.6 491.1,831.0 493.3,837.5 C495.4,844.0 496.7,852.5 497.5,859.6 C498.4,866.7 498.7,874.9 498.4,880.0 C498.1,885.1 496.7,884.6 495.8,890.2 C495.0,895.9 499.1,904.4 493.3,914.0 C487.5,923.7 471.2,941.5 461.0,948.1 C450.7,954.6 441.1,952.6 432.0,953.2 C423.0,953.7 415.0,952.9 406.5,951.5 C398.0,950.0 389.5,948.3 381.0,944.7 C372.5,941.0 362.3,934.5 355.5,929.4 C348.7,924.3 343.7,918.3 340.2,914.0 C336.7,909.8 334.8,909.5 334.3,903.8Z" fill="none" stroke="#000" stroke-width="3"/>
<path d="M425.2,805.2 C428.1,802.9 441.4,801.5 449.0,802.7 C456.7,803.8 466.1,807.6 471.2,812.0 C476.3,816.4 478.2,822.8 479.7,829.0 C481.1,835.2 480.8,842.9 479.7,849.4 C478.5,855.9 476.3,861.9 472.9,868.1 C469.5,874.4 465.5,880.9 459.3,886.8 C453.0,892.8 444.2,899.3 435.4,903.8 C426.7,908.4 412.2,912.2 406.5,914.0 C400.9,915.9 400.0,917.0 401.4,914.9 C402.8,912.8 409.4,905.4 415.0,901.3 C420.7,897.2 428.6,895.2 435.4,890.2 C442.2,885.3 451.0,878.0 455.9,871.5 C460.7,865.0 463.2,857.4 464.4,851.1 C465.5,844.9 465.2,839.2 462.7,834.1 C460.1,829.0 454.1,823.5 449.0,820.5 C443.9,817.5 436.0,818.8 432.0,816.3 C428.1,813.7 422.4,807.5 425.2,805.2Z" fill="#000"/>
<path d="M355.5,866.4 C354.9,869.5 351.3,879.5 352.1,885.1 C353.0,890.8 355.8,896.8 360.6,900.4 C365.4,904.1 374.2,906.4 381.0,907.2 C387.8,908.1 394.1,907.5 401.4,905.5 C408.8,903.6 421.3,897.0 425.2,895.3" fill="none" stroke="#000" stroke-width="2.2"/>
<path d="M364.0,846.0 C367.4,843.8 377.1,836.1 384.4,832.4 C391.8,828.7 400.9,825.9 408.2,823.9 C415.6,821.9 425.2,821.1 428.6,820.5" fill="none" stroke="#000" stroke-width="1.5"/>
<path d="M381.2,876.8 L382.1,875.2 L382.0,874.0 L380.9,873.0 L378.9,872.0 L376.5,870.7 L374.2,869.1 L372.7,867.0 L372.4,864.5 L373.6,862.0 L376.1,859.5 L379.7,857.5 L383.8,856.0 L388.0,855.1 L391.9,854.6 L395.1,854.2 L397.5,853.7 L399.4,852.7 L400.9,851.3 L402.2,849.2 L403.7,846.2 L405.5,842.7 L407.7,838.8 L410.5,835.1 L413.5,832.2 L416.6,830.4 L419.3,830.0 L421.4,831.0 L422.8,833.1 L423.5,835.9 L423.8,838.8 L423.9,841.3 L424.3,842.9 L425.3,843.5 L426.9,843.3 L429.3,842.2 L432.8,840.3 L437.0,837.9 L441.6,835.7 L445.8,834.2 L449.1,833.7 L451.0,834.4 L451.2,836.5 L449.8,839.5 L447.0,843.1 L443.5,846.8 L439.9,850.2 L436.8,853.1 L434.8,855.2 L433.9,856.8 L434.0,858.0 L435.1,859.0 L437.1,860.0 L439.5,861.3 L441.8,862.9 L443.3,865.0 L443.6,867.5 L442.4,870.0 L439.9,872.5 L436.3,874.5 L432.2,876.0 L428.0,876.9 L424.1,877.4 L420.9,877.8 L418.5,878.3 L416.6,879.3 L415.1,880.7 L413.8,882.8 L412.3,885.8 L410.5,889.3 L408.3,893.2 L405.5,896.9 L402.5,899.8 L399.4,901.6 L396.7,902.0 L394.6,901.0 L393.2,898.9 L392.5,896.1 L392.2,893.2 L392.1,890.7 L391.7,889.1 L390.7,888.5 L389.1,888.7 L386.7,889.8 L383.2,891.7 L379.0,894.1 L374.4,896.3 L370.2,897.8 L366.9,898.3 L365.0,897.6 L364.8,895.5 L366.2,892.5 L369.0,888.9 L372.5,885.2 L376.1,881.8 L379.2,878.9Z" fill="#000" stroke="#000" stroke-width="3" stroke-linejoin="round"/>
<path d="M408.0,866.0 L371.0,898.0 L372.4,888.8 Z" fill="#bcbcbc"/>
<path d="M408.0,866.0 L372.5,867.9 L383.6,858.9 Z" fill="#bcbcbc"/>
<path d="M408.0,866.0 L409.4,835.9 L419.3,836.2 Z" fill="#bcbcbc"/>
<g transform="translate(651,930.5) rotate(50.5)">
<rect x="-21.5" y="-47.0" width="168.5" height="94.0" fill="#fff"/>
<path d="M-21.5,-45.0 L147.0,-45.0 L147.0,-7 L144.88,-7 L142.38,-2.5 L140.88,-8 L138.88,-1.5 L136.88,-7 L134.88,-3.5 L132.88,-8 L130.88,-4 L128.38,-7 L125.88,-2.5 L124.38,-8 L122.38,-1.5 L120.38,-7 L118.38,-3.5 L116.38,-8 L114.38,-4 L111.88,-7 L109.38,-2.5 L107.88,-8 L105.88,-1.5 L103.88,-7 L101.88,-3.5 L99.88,-8 L97.88,-4 L95.38,-7 L92.88,-2.5 L91.38,-8 L89.38,-1.5 L87.38,-7 L85.38,-3.5 L83.38,-8 L81.38,-4 L78.88,-7 L76.38,-2.5 L74.88,-8 L72.88,-1.5 L70.88,-7 L68.88,-3.5 L66.88,-8 L64.88,-4 L62.38,-7 L59.88,-2.5 L58.38,-8 L56.38,-1.5 L54.38,-7 L52.38,-3.5 L50.38,-8 L48.38,-4 L45.88,-7 L43.38,-2.5 L41.88,-8 L39.88,-1.5 L37.88,-7 L35.88,-3.5 L33.88,-8 L31.880000000000003,-4 L29.380000000000003,-7 L26.880000000000003,-2.5 L25.380000000000003,-8 L23.380000000000003,-1.5 L21.380000000000003,-7 L19.380000000000003,-3.5 L17.380000000000003,-8 L15.380000000000003,-4 L12.88,-7 L10.38,-2.5 L8.88,-8 L6.880000000000001,-1.5 L4.880000000000001,-7 L2.880000000000001,-3.5 L0.8800000000000008,-8 L-1.1199999999999992,-4 L-21.5,-5 Z" fill="#000"/>
<path d="M-21.5,-4 L-2.119999999999999,-4 L-1.1199999999999992,-4 L0.8800000000000008,-8 L2.880000000000001,-3.5 L4.880000000000001,-7 L6.880000000000001,-1.5 L8.88,-8 L10.38,-2.5 L12.88,-7 L14.380000000000003,-4 L15.380000000000003,-4 L17.380000000000003,-8 L19.380000000000003,-3.5 L21.380000000000003,-7 L23.380000000000003,-1.5 L25.380000000000003,-8 L26.880000000000003,-2.5 L29.380000000000003,-7 L30.880000000000003,-4 L31.880000000000003,-4 L33.88,-8 L35.88,-3.5 L37.88,-7 L39.88,-1.5 L41.88,-8 L43.38,-2.5 L45.88,-7 L47.38,-4 L48.38,-4 L50.38,-8 L52.38,-3.5 L54.38,-7 L56.38,-1.5 L58.38,-8 L59.88,-2.5 L62.38,-7 L63.879999999999995,-4 L64.88,-4 L66.88,-8 L68.88,-3.5 L70.88,-7 L72.88,-1.5 L74.88,-8 L76.38,-2.5 L78.88,-7 L80.38,-4 L81.38,-4 L83.38,-8 L85.38,-3.5 L87.38,-7 L89.38,-1.5 L91.38,-8 L92.88,-2.5 L95.38,-7 L96.88,-4 L97.88,-4 L99.88,-8 L101.88,-3.5 L103.88,-7 L105.88,-1.5 L107.88,-8 L109.38,-2.5 L111.88,-7 L113.38,-4 L114.38,-4 L116.38,-8 L118.38,-3.5 L120.38,-7 L122.38,-1.5 L124.38,-8 L125.88,-2.5 L128.38,-7 L129.88,-4 L130.88,-4 L132.88,-8 L134.88,-3.5 L136.88,-7 L138.88,-1.5 L140.88,-8 L142.38,-2.5 L144.88,-7 L147.0,-7 L147.0,17 L-21.5,17 Z" fill="#bcbcbc"/>
<path d="M130.2,-45.1 C131.8,-42.8 137.6,-35.4 139.8,-31.0 C142.0,-26.6 142.6,-24.0 143.6,-18.8 C144.7,-13.6 145.8,-5.3 146.2,0.0 C146.6,5.3 146.3,8.5 145.9,13.2 C145.5,17.9 144.8,24.1 143.8,28.2 C142.8,32.3 141.5,34.9 139.8,37.6 C138.1,40.3 135.2,42.7 133.7,44.2 C132.3,45.7 131.5,46.1 131.0,46.5 L167.0,48.0 L167.0,-48.0 L129.0,-48.0 Z" fill="#fff"/>
<path d="M-4.1,-43.1 C-2.9,-41.1 1.1,-35.1 3.0,-31.0 C4.8,-27.0 6.1,-23.1 6.8,-18.8 C7.5,-14.5 7.1,-7.3 7.1,-5.0" fill="none" stroke="#fff" stroke-width="3.30"/>
<path d="M-8.3,-43.1 C-7.1,-41.1 -3.0,-35.1 -1.2,-31.0 C0.7,-27.0 2.0,-23.1 2.7,-18.8 C3.4,-14.5 2.9,-7.3 3.0,-5.0" fill="none" stroke="#fff" stroke-width="2.81"/>
<path d="M12.4,-43.1 C13.6,-41.1 17.6,-35.1 19.5,-31.0 C21.3,-27.0 22.6,-23.1 23.3,-18.8 C24.0,-14.5 23.6,-7.3 23.6,-5.0" fill="none" stroke="#fff" stroke-width="3.30"/>
<path d="M8.2,-43.1 C9.4,-41.1 13.5,-35.1 15.3,-31.0 C17.2,-27.0 18.5,-23.1 19.2,-18.8 C19.9,-14.5 19.4,-7.3 19.5,-5.0" fill="none" stroke="#fff" stroke-width="2.81"/>
<path d="M28.9,-43.1 C30.1,-41.1 34.1,-35.1 36.0,-31.0 C37.8,-27.0 39.1,-23.1 39.8,-18.8 C40.5,-14.5 40.1,-7.3 40.1,-5.0" fill="none" stroke="#fff" stroke-width="3.30"/>
<path d="M24.7,-43.1 C25.9,-41.1 30.0,-35.1 31.8,-31.0 C33.7,-27.0 35.0,-23.1 35.7,-18.8 C36.4,-14.5 35.9,-7.3 36.0,-5.0" fill="none" stroke="#fff" stroke-width="2.81"/>
<path d="M45.4,-43.1 C46.6,-41.1 50.6,-35.1 52.5,-31.0 C54.3,-27.0 55.6,-23.1 56.3,-18.8 C57.0,-14.5 56.6,-7.3 56.6,-5.0" fill="none" stroke="#fff" stroke-width="3.30"/>
<path d="M41.2,-43.1 C42.4,-41.1 46.5,-35.1 48.3,-31.0 C50.2,-27.0 51.5,-23.1 52.2,-18.8 C52.9,-14.5 52.4,-7.3 52.5,-5.0" fill="none" stroke="#fff" stroke-width="2.81"/>
<path d="M61.9,-43.1 C63.1,-41.1 67.1,-35.1 69.0,-31.0 C70.8,-27.0 72.1,-23.1 72.8,-18.8 C73.5,-14.5 73.1,-7.3 73.1,-5.0" fill="none" stroke="#fff" stroke-width="3.30"/>
<path d="M57.7,-43.1 C58.9,-41.1 63.0,-35.1 64.8,-31.0 C66.7,-27.0 68.0,-23.1 68.7,-18.8 C69.4,-14.5 68.9,-7.3 69.0,-5.0" fill="none" stroke="#fff" stroke-width="2.81"/>
<path d="M78.4,-43.1 C79.6,-41.1 83.6,-35.1 85.5,-31.0 C87.3,-27.0 88.6,-23.1 89.3,-18.8 C90.0,-14.5 89.6,-7.3 89.6,-5.0" fill="none" stroke="#fff" stroke-width="3.30"/>
<path d="M74.2,-43.1 C75.4,-41.1 79.5,-35.1 81.3,-31.0 C83.2,-27.0 84.5,-23.1 85.2,-18.8 C85.9,-14.5 85.4,-7.3 85.5,-5.0" fill="none" stroke="#fff" stroke-width="2.81"/>
<path d="M94.9,-43.1 C96.1,-41.1 100.1,-35.1 102.0,-31.0 C103.8,-27.0 105.1,-23.1 105.8,-18.8 C106.5,-14.5 106.1,-7.3 106.1,-5.0" fill="none" stroke="#fff" stroke-width="3.30"/>
<path d="M90.7,-43.1 C91.9,-41.1 96.0,-35.1 97.8,-31.0 C99.7,-27.0 101.0,-23.1 101.7,-18.8 C102.4,-14.5 101.9,-7.3 102.0,-5.0" fill="none" stroke="#fff" stroke-width="2.81"/>
<path d="M111.4,-43.1 C112.6,-41.1 116.6,-35.1 118.5,-31.0 C120.3,-27.0 121.6,-23.1 122.3,-18.8 C123.0,-14.5 122.6,-7.3 122.6,-5.0" fill="none" stroke="#fff" stroke-width="3.30"/>
<path d="M107.2,-43.1 C108.4,-41.1 112.5,-35.1 114.3,-31.0 C116.2,-27.0 117.5,-23.1 118.2,-18.8 C118.9,-14.5 118.4,-7.3 118.5,-5.0" fill="none" stroke="#fff" stroke-width="2.81"/>
<path d="M-1.0,-42.0 C2.0,-44.8 7.5,-44.8 9.4,-41.0 C10.4,-39.0 11.4,-36.0 12.4,-33.0" fill="none" stroke="#fff" stroke-width="3.70"/>
<path d="M15.5,-42.0 C18.5,-44.8 24.0,-44.8 25.9,-41.0 C26.9,-39.0 27.9,-36.0 28.9,-33.0" fill="none" stroke="#fff" stroke-width="3.70"/>
<path d="M32.0,-42.0 C35.0,-44.8 40.5,-44.8 42.4,-41.0 C43.4,-39.0 44.4,-36.0 45.4,-33.0" fill="none" stroke="#fff" stroke-width="3.70"/>
<path d="M48.5,-42.0 C51.5,-44.8 57.0,-44.8 58.9,-41.0 C59.9,-39.0 60.9,-36.0 61.9,-33.0" fill="none" stroke="#fff" stroke-width="3.70"/>
<path d="M65.0,-42.0 C68.0,-44.8 73.5,-44.8 75.4,-41.0 C76.4,-39.0 77.4,-36.0 78.4,-33.0" fill="none" stroke="#fff" stroke-width="3.70"/>
<path d="M81.5,-42.0 C84.5,-44.8 90.0,-44.8 91.9,-41.0 C92.9,-39.0 93.9,-36.0 94.9,-33.0" fill="none" stroke="#fff" stroke-width="3.70"/>
<path d="M98.0,-42.0 C101.0,-44.8 106.5,-44.8 108.4,-41.0 C109.4,-39.0 110.4,-36.0 111.4,-33.0" fill="none" stroke="#fff" stroke-width="3.70"/>
<path d="M114.5,-42.0 C117.5,-44.8 123.0,-44.8 124.9,-41.0 C125.9,-39.0 126.9,-36.0 127.9,-33.0" fill="none" stroke="#fff" stroke-width="3.70"/>
<path d="M-3.0,-45.1 C-1.4,-42.8 4.4,-35.4 6.6,-31.0 C8.8,-26.6 9.4,-24.0 10.4,-18.8 C11.5,-13.6 12.6,-5.3 13.0,0.0 C13.4,5.3 13.1,8.5 12.7,13.2 C12.3,17.9 11.6,24.1 10.6,28.2 C9.6,32.3 8.3,34.9 6.6,37.6 C4.9,40.3 2.0,42.7 0.5,44.2 C-0.9,45.7 -1.7,46.1 -2.2,46.5" fill="none" stroke="#000" stroke-width="2.4"/>
<path d="M-2.4,45.0 L1.6,38.0 L3.6,42.0 L6.6,39.0 L7.6,45.0 Z" fill="#000"/>
<path d="M13.5,-45.1 C15.1,-42.8 20.9,-35.4 23.1,-31.0 C25.3,-26.6 25.9,-24.0 26.9,-18.8 C28.0,-13.6 29.1,-5.3 29.5,0.0 C29.9,5.3 29.6,8.5 29.2,13.2 C28.8,17.9 28.1,24.1 27.1,28.2 C26.1,32.3 24.8,34.9 23.1,37.6 C21.4,40.3 18.5,42.7 17.0,44.2 C15.6,45.7 14.8,46.1 14.3,46.5" fill="none" stroke="#000" stroke-width="2.4"/>
<path d="M14.1,45.0 L18.1,38.0 L20.1,42.0 L23.1,39.0 L24.1,45.0 Z" fill="#000"/>
<path d="M30.0,-45.1 C31.6,-42.8 37.4,-35.4 39.6,-31.0 C41.8,-26.6 42.4,-24.0 43.4,-18.8 C44.5,-13.6 45.6,-5.3 46.0,0.0 C46.4,5.3 46.1,8.5 45.7,13.2 C45.3,17.9 44.6,24.1 43.6,28.2 C42.6,32.3 41.3,34.9 39.6,37.6 C37.9,40.3 35.0,42.7 33.5,44.2 C32.1,45.7 31.3,46.1 30.8,46.5" fill="none" stroke="#000" stroke-width="2.4"/>
<path d="M30.6,45.0 L34.6,38.0 L36.6,42.0 L39.6,39.0 L40.6,45.0 Z" fill="#000"/>
<path d="M46.5,-45.1 C48.1,-42.8 53.9,-35.4 56.1,-31.0 C58.3,-26.6 58.9,-24.0 59.9,-18.8 C61.0,-13.6 62.1,-5.3 62.5,0.0 C62.9,5.3 62.6,8.5 62.2,13.2 C61.8,17.9 61.1,24.1 60.1,28.2 C59.1,32.3 57.8,34.9 56.1,37.6 C54.4,40.3 51.5,42.7 50.0,44.2 C48.6,45.7 47.8,46.1 47.3,46.5" fill="none" stroke="#000" stroke-width="2.4"/>
<path d="M47.1,45.0 L51.1,38.0 L53.1,42.0 L56.1,39.0 L57.1,45.0 Z" fill="#000"/>
<path d="M63.0,-45.1 C64.6,-42.8 70.4,-35.4 72.6,-31.0 C74.8,-26.6 75.4,-24.0 76.4,-18.8 C77.5,-13.6 78.6,-5.3 79.0,0.0 C79.4,5.3 79.1,8.5 78.7,13.2 C78.3,17.9 77.6,24.1 76.6,28.2 C75.6,32.3 74.3,34.9 72.6,37.6 C70.9,40.3 68.0,42.7 66.5,44.2 C65.1,45.7 64.3,46.1 63.8,46.5" fill="none" stroke="#000" stroke-width="2.4"/>
<path d="M63.599999999999994,45.0 L67.6,38.0 L69.6,42.0 L72.6,39.0 L73.6,45.0 Z" fill="#000"/>
<path d="M79.5,-45.1 C81.1,-42.8 86.9,-35.4 89.1,-31.0 C91.3,-26.6 91.9,-24.0 92.9,-18.8 C94.0,-13.6 95.1,-5.3 95.5,0.0 C95.9,5.3 95.6,8.5 95.2,13.2 C94.8,17.9 94.1,24.1 93.1,28.2 C92.1,32.3 90.8,34.9 89.1,37.6 C87.4,40.3 84.5,42.7 83.0,44.2 C81.6,45.7 80.8,46.1 80.3,46.5" fill="none" stroke="#000" stroke-width="2.4"/>
<path d="M80.1,45.0 L84.1,38.0 L86.1,42.0 L89.1,39.0 L90.1,45.0 Z" fill="#000"/>
<path d="M96.0,-45.1 C97.6,-42.8 103.4,-35.4 105.6,-31.0 C107.8,-26.6 108.4,-24.0 109.4,-18.8 C110.5,-13.6 111.6,-5.3 112.0,0.0 C112.4,5.3 112.1,8.5 111.7,13.2 C111.3,17.9 110.6,24.1 109.6,28.2 C108.6,32.3 107.3,34.9 105.6,37.6 C103.9,40.3 101.0,42.7 99.5,44.2 C98.1,45.7 97.3,46.1 96.8,46.5" fill="none" stroke="#000" stroke-width="2.4"/>
<path d="M96.6,45.0 L100.6,38.0 L102.6,42.0 L105.6,39.0 L106.6,45.0 Z" fill="#000"/>
<path d="M112.5,-45.1 C114.1,-42.8 119.9,-35.4 122.1,-31.0 C124.3,-26.6 124.9,-24.0 125.9,-18.8 C127.0,-13.6 128.1,-5.3 128.5,0.0 C128.9,5.3 128.6,8.5 128.2,13.2 C127.8,17.9 127.1,24.1 126.1,28.2 C125.1,32.3 123.8,34.9 122.1,37.6 C120.4,40.3 117.5,42.7 116.0,44.2 C114.6,45.7 113.8,46.1 113.3,46.5" fill="none" stroke="#000" stroke-width="2.4"/>
<path d="M113.1,45.0 L117.1,38.0 L119.1,42.0 L122.1,39.0 L123.1,45.0 Z" fill="#000"/>
<path d="M129.0,-45.1 C130.6,-42.8 136.4,-35.4 138.6,-31.0 C140.8,-26.6 141.4,-24.0 142.4,-18.8 C143.5,-13.6 144.6,-5.3 145.0,0.0 C145.4,5.3 145.1,8.5 144.7,13.2 C144.3,17.9 143.6,24.1 142.6,28.2 C141.6,32.3 140.3,34.9 138.6,37.6 C136.9,40.3 134.0,42.7 132.5,44.2 C131.1,45.7 130.3,46.1 129.8,46.5" fill="none" stroke="#000" stroke-width="3"/>
<path d="M129.6,45.0 L133.6,38.0 L135.6,42.0 L138.6,39.0 L139.6,45.0 Z" fill="#000"/>
<path d="M-2.5,-44.5 C1.0,-48.0 9.5,-48.0 14.0,-44.5" fill="none" stroke="#000" stroke-width="2.4"/>
<path d="M-2.0,-43.5 C2.0,-46.0 8.5,-46.0 12.5,-43.0" fill="none" stroke="#fff" stroke-width="1.2"/>
<path d="M-1.6999999999999993,45.5 C1.8000000000000007,49.0 10.3,49.0 14.8,45.5" fill="none" stroke="#000" stroke-width="2.4"/>
<path d="M14.0,-44.5 C17.5,-48.0 26.0,-48.0 30.5,-44.5" fill="none" stroke="#000" stroke-width="2.4"/>
<path d="M14.5,-43.5 C18.5,-46.0 25.0,-46.0 29.0,-43.0" fill="none" stroke="#fff" stroke-width="1.2"/>
<path d="M14.8,45.5 C18.3,49.0 26.8,49.0 31.3,45.5" fill="none" stroke="#000" stroke-width="2.4"/>
<path d="M30.5,-44.5 C34.0,-48.0 42.5,-48.0 47.0,-44.5" fill="none" stroke="#000" stroke-width="2.4"/>
<path d="M31.0,-43.5 C35.0,-46.0 41.5,-46.0 45.5,-43.0" fill="none" stroke="#fff" stroke-width="1.2"/>
<path d="M31.299999999999997,45.5 C34.8,49.0 43.3,49.0 47.8,45.5" fill="none" stroke="#000" stroke-width="2.4"/>
<path d="M47.0,-44.5 C50.5,-48.0 59.0,-48.0 63.5,-44.5" fill="none" stroke="#000" stroke-width="2.4"/>
<path d="M47.5,-43.5 C51.5,-46.0 58.0,-46.0 62.0,-43.0" fill="none" stroke="#fff" stroke-width="1.2"/>
<path d="M47.8,45.5 C51.3,49.0 59.8,49.0 64.3,45.5" fill="none" stroke="#000" stroke-width="2.4"/>
<path d="M63.5,-44.5 C67.0,-48.0 75.5,-48.0 80.0,-44.5" fill="none" stroke="#000" stroke-width="2.4"/>
<path d="M64.0,-43.5 C68.0,-46.0 74.5,-46.0 78.5,-43.0" fill="none" stroke="#fff" stroke-width="1.2"/>
<path d="M64.3,45.5 C67.8,49.0 76.3,49.0 80.8,45.5" fill="none" stroke="#000" stroke-width="2.4"/>
<path d="M80.0,-44.5 C83.5,-48.0 92.0,-48.0 96.5,-44.5" fill="none" stroke="#000" stroke-width="2.4"/>
<path d="M80.5,-43.5 C84.5,-46.0 91.0,-46.0 95.0,-43.0" fill="none" stroke="#fff" stroke-width="1.2"/>
<path d="M80.8,45.5 C84.3,49.0 92.8,49.0 97.3,45.5" fill="none" stroke="#000" stroke-width="2.4"/>
<path d="M96.5,-44.5 C100.0,-48.0 108.5,-48.0 113.0,-44.5" fill="none" stroke="#000" stroke-width="2.4"/>
<path d="M97.0,-43.5 C101.0,-46.0 107.5,-46.0 111.5,-43.0" fill="none" stroke="#fff" stroke-width="1.2"/>
<path d="M97.3,45.5 C100.8,49.0 109.3,49.0 113.8,45.5" fill="none" stroke="#000" stroke-width="2.4"/>
<path d="M113.0,-44.5 C116.5,-48.0 125.0,-48.0 129.5,-44.5" fill="none" stroke="#000" stroke-width="2.4"/>
<path d="M113.5,-43.5 C117.5,-46.0 124.0,-46.0 128.0,-43.0" fill="none" stroke="#fff" stroke-width="1.2"/>
<path d="M113.80000000000001,45.5 C117.30000000000001,49.0 125.80000000000001,49.0 130.3,45.5" fill="none" stroke="#000" stroke-width="2.4"/>
</g>
<path d="M528.1,906.5 C527.5,900.2 529.7,887.9 532.6,879.5 C535.4,871.1 539.5,863.9 545.2,856.2 C550.9,848.4 559.0,839.7 566.8,832.8 C574.6,825.9 583.2,819.6 591.9,814.8 C600.6,810.0 609.9,806.1 618.9,804.0 C627.9,801.9 637.8,801.3 645.9,802.2 C654.0,803.1 661.5,805.5 667.5,809.4 C673.5,813.3 678.3,819.6 681.9,825.6 C685.5,831.6 687.7,838.5 689.1,845.4 C690.4,852.3 690.1,860.3 690.0,866.9 C689.8,873.5 688.9,880.1 688.2,884.9 C687.4,889.7 689.5,887.3 685.5,895.7 C681.4,904.1 672.0,926.3 663.9,935.3 C655.8,944.3 645.9,947.0 636.9,949.7 C627.9,952.4 618.9,952.1 609.9,951.5 C600.9,950.9 591.9,949.4 582.9,946.1 C574.0,942.8 563.8,936.5 556.0,931.7 C548.2,926.9 540.8,921.5 536.2,917.3 C531.5,913.1 528.7,912.8 528.1,906.5Z" fill="#fff" stroke="#000" stroke-width="3"/>
<path d="M594.6,927.2 C597.4,923.3 621.3,906.9 627.9,902.9 C634.6,899.0 657.4,887.4 661.2,887.6 C664.9,887.8 668.2,901.3 665.3,905.1 C662.4,908.8 638.9,921.2 632.4,924.9 C625.9,928.5 603.8,941.3 600.0,941.6 C596.3,941.8 591.9,931.1 594.6,927.2Z" fill="#000"/>
<path d="M678.3,863.3 C679.5,856.8 687.1,846.9 689.1,849.0 C691.0,851.1 691.2,869.3 690.0,875.9 C688.8,882.5 683.8,890.6 681.9,888.5 C679.9,886.4 677.1,869.9 678.3,863.3Z" fill="#000"/>
<path d="M528.1,906.5 C528.4,901.4 529.7,887.9 532.6,879.5 C535.4,871.1 539.5,863.9 545.2,856.2 C550.9,848.4 559.0,839.7 566.8,832.8 C574.6,825.9 583.2,819.6 591.9,814.8 C600.6,810.0 609.9,806.1 618.9,804.0 C627.9,801.9 637.8,801.3 645.9,802.2 C654.0,803.1 662.1,806.1 667.5,809.4 C672.9,812.7 675.6,816.0 678.3,822.0 C681.0,828.0 684.0,837.9 683.7,845.4 C683.4,852.9 680.4,859.7 676.5,866.9 C672.6,874.1 666.9,881.6 660.3,888.5 C653.7,895.4 645.3,902.6 636.9,908.3 C628.5,914.0 618.9,919.4 609.9,922.7 C600.9,926.0 591.9,927.8 582.9,928.1 C574.0,928.4 564.7,927.5 556.0,924.5 C547.3,921.5 535.4,913.1 530.8,910.1 C526.1,907.1 527.8,911.6 528.1,906.5Z" fill="#000" stroke="#000" stroke-width="3"/>
<path d="M536.2,879.5 C536.6,876.8 541.6,861.6 545.2,856.2 C548.7,850.7 561.3,837.6 566.8,832.8 C572.2,827.9 585.9,818.1 591.9,814.8 C598.0,811.4 612.6,805.5 618.9,804.0 C625.2,802.5 640.2,801.6 645.9,802.2 C651.6,802.8 663.6,807.1 667.5,809.4 C671.4,811.7 677.4,818.8 679.2,822.0 C681.0,825.1 683.1,835.0 682.8,836.4 C682.5,837.7 677.6,834.1 676.5,833.7 C675.3,833.2 677.5,833.1 672.9,832.8 C668.3,832.5 645.3,830.3 636.9,831.0 C628.5,831.6 609.3,835.4 600.9,838.2 C592.5,840.9 571.9,849.5 565.0,854.4 C558.0,859.2 544.9,876.6 541.6,879.5 C538.2,882.5 535.8,882.3 536.2,879.5Z" fill="#fff"/>
<path d="M615.3,816.6 C612.9,814.3 624.6,809.4 631.5,808.5 C638.4,807.6 650.7,808.9 656.7,811.2 C662.7,813.4 669.3,820.2 667.5,822.0 C665.7,823.8 654.6,822.9 645.9,822.0 C637.2,821.1 617.7,818.8 615.3,816.6Z" fill="#000"/>
<path d="M540.7,879.5 C544.7,875.0 554.9,859.7 565.0,852.6 C575.0,845.4 588.9,840.5 600.9,836.7 C612.9,832.9 624.9,830.5 636.9,829.7 C648.9,828.9 666.9,831.5 672.9,831.9" fill="none" stroke="#fff" stroke-width="1.5"/>
<path d="M563.2,890.3 C564.4,886.2 568.9,872.0 574.0,866.9 C579.0,861.9 592.5,855.2 600.9,852.6 C609.3,849.9 628.5,847.6 636.9,847.2 C645.3,846.7 661.2,846.8 663.9,849.0 C666.5,851.1 660.3,859.3 656.7,863.3 C653.1,867.4 643.1,875.2 636.9,879.5 C630.7,883.8 617.1,892.8 609.9,895.7 C602.7,898.6 588.9,900.9 582.9,901.1 C577.0,901.4 567.6,899.0 565.0,897.5 C562.3,896.1 562.0,894.4 563.2,890.3Z" fill="#bcbcbc"/>
<path d="M530.8,910.1 C535.0,911.9 547.3,918.5 556.0,920.9 C564.7,923.3 574.0,924.8 582.9,924.5 C591.9,924.2 600.9,922.4 609.9,919.1 C618.9,915.8 628.5,910.4 636.9,904.7 C645.3,899.0 653.7,892.4 660.3,884.9 C666.9,877.4 672.7,866.3 676.5,859.7 C680.2,853.2 681.7,847.8 682.8,845.4" fill="none" stroke="#fff" stroke-width="6"/>
<path d="M528.1,906.5 C528.4,901.4 529.7,887.9 532.6,879.5 C535.4,871.1 539.5,863.9 545.2,856.2 C550.9,848.4 559.0,839.7 566.8,832.8 C574.6,825.9 583.2,819.6 591.9,814.8 C600.6,810.0 609.9,806.1 618.9,804.0 C627.9,801.9 637.8,801.3 645.9,802.2 C654.0,803.1 662.1,806.1 667.5,809.4 C672.9,812.7 675.6,816.0 678.3,822.0 C681.0,828.0 684.0,837.9 683.7,845.4 C683.4,852.9 680.4,859.7 676.5,866.9 C672.6,874.1 666.9,881.6 660.3,888.5 C653.7,895.4 645.3,902.6 636.9,908.3 C628.5,914.0 618.9,919.4 609.9,922.7 C600.9,926.0 591.9,927.8 582.9,928.1 C574.0,928.4 564.7,927.5 556.0,924.5 C547.3,921.5 535.4,913.1 530.8,910.1 C526.1,907.1 527.8,911.6 528.1,906.5Z" fill="none" stroke="#000" stroke-width="3"/>
<path d="M528.1,906.5 C527.5,900.2 529.7,887.9 532.6,879.5 C535.4,871.1 539.5,863.9 545.2,856.2 C550.9,848.4 559.0,839.7 566.8,832.8 C574.6,825.9 583.2,819.6 591.9,814.8 C600.6,810.0 609.9,806.1 618.9,804.0 C627.9,801.9 637.8,801.3 645.9,802.2 C654.0,803.1 661.5,805.5 667.5,809.4 C673.5,813.3 678.3,819.6 681.9,825.6 C685.5,831.6 687.7,838.5 689.1,845.4 C690.4,852.3 690.1,860.3 690.0,866.9 C689.8,873.5 688.9,880.1 688.2,884.9 C687.4,889.7 689.5,887.3 685.5,895.7 C681.4,904.1 672.0,926.3 663.9,935.3 C655.8,944.3 645.9,947.0 636.9,949.7 C627.9,952.4 618.9,952.1 609.9,951.5 C600.9,950.9 591.9,949.4 582.9,946.1 C574.0,942.8 563.8,936.5 556.0,931.7 C548.2,926.9 540.8,921.5 536.2,917.3 C531.5,913.1 528.7,912.8 528.1,906.5Z" fill="none" stroke="#000" stroke-width="3"/>
<rect x="0" y="986" width="1000" height="14" fill="#fff"/>
<path d="M274,67 H738 M273.5,66 V166 M740,66 V166" stroke="#1c1c1c" fill="none" stroke-width="2"/>
<path d="M274,67 L313,56 L302,67 L313,78 Z M738,67 L700,56 L711,67 L700,78 Z" fill="#1c1c1c"/>
<path d="M258,250 V401.5 M257,250.2 H339 M257,401.6 H339" stroke="#1c1c1c" fill="none" stroke-width="1.8"/>
<path d="M258,251 L251,277 L258,268 L265,277 Z M258,401 L251,376 L258,385 L265,376 Z" fill="#1c1c1c"/>
<path d="M380,414 H738 M377,392 V431 M741.8,322 V532.5 M737,322.5 H742 M737,532 H742" stroke="#1c1c1c" fill="none" stroke-width="1.8"/>
<path d="M380,414.5 L416,403.5 L407,414.5 L416,425 Z M738,414 L703,403 L712,414 L703,425 Z" fill="#1c1c1c"/>
<path d="M586.6,440 V452 M596.6,598 V609" stroke="#1c1c1c" fill="none" stroke-width="1.2"/>
<path d="M586.6,462 L583,448 L586.6,451 L590.5,448 Z M596.6,588.2 L593,600.6 L596.6,598 L600.6,600.6 Z" fill="#000"/>
<path d="M574,462.5 H600 V465.5 H574 Z M584.6,585 H608.6 V587.5 H584.6 Z" fill="#000"/>
<g font-family="Liberation Sans, sans-serif" fill="#1c1c1c">
<text x="464.5" y="59.5" font-size="29" textLength="97" lengthAdjust="spacingAndGlyphs">Length</text>
<text x="153.7" y="319" font-size="29" textLength="75.3" lengthAdjust="spacingAndGlyphs">Head</text>
<text x="125.2" y="355" font-size="29" textLength="132" lengthAdjust="spacingAndGlyphs">Diameter</text>
<text x="516.8" y="408" font-size="29" textLength="98.4" lengthAdjust="spacingAndGlyphs">Length</text>
<text x="486.2" y="631.7" font-size="29" textLength="217.3" lengthAdjust="spacingAndGlyphs">Major Diameter</text>
<text x="120.2" y="793.3" font-size="29" textLength="94.4" lengthAdjust="spacingAndGlyphs">Filister</text>
<text x="447" y="793.9" font-size="29" textLength="178" lengthAdjust="spacingAndGlyphs">Weaver Oval</text>
<text x="739" y="793.3" font-size="29" textLength="95" lengthAdjust="spacingAndGlyphs">Filister</text>
</g>
</svg>
</body></html>
